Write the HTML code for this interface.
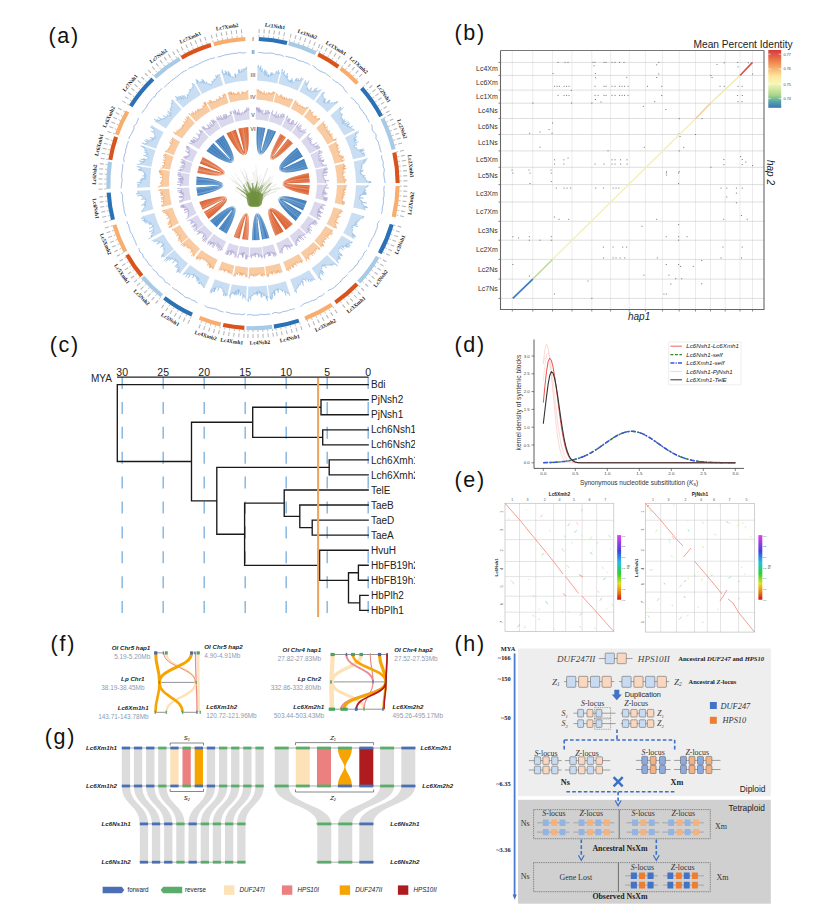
<!DOCTYPE html>
<html><head><meta charset="utf-8"><style>
html,body{margin:0;padding:0;background:#fff;width:830px;height:923px;overflow:hidden}
svg{display:block}
</style></head><body>
<svg width="830" height="923" viewBox="0 0 830 923">
<rect width="830" height="923" fill="#fff"/>
<text x="48.5" y="42.6" font-family="Liberation Sans" font-size="21.5" letter-spacing="1.7" fill="#111">(a)</text><path d="M258.9 36.9A146.7 146.7 0 0 1 287.5 40.9L286.5 44.9A142.6 142.6 0 0 0 258.7 41Z" fill="#2a71b6" /><path d="M289.2 41.3A146.7 146.7 0 0 1 316.6 51.3L314.8 55A142.6 142.6 0 0 0 288.2 45.3Z" fill="#a7cbe6" /><path d="M319.1 52.6A146.7 146.7 0 0 1 339.6 65.1L337.2 68.4A142.6 142.6 0 0 0 317.3 56.2Z" fill="#d9541d" /><path d="M341.9 66.8A146.7 146.7 0 0 1 358.9 82L355.9 84.8A142.6 142.6 0 0 0 339.4 70.1Z" fill="#f8ad6c" /><path d="M363.2 86.7A146.7 146.7 0 0 1 382.9 115.3L379.3 117.2A142.6 142.6 0 0 0 360.1 89.4Z" fill="#2a71b6" /><path d="M384.2 117.8A146.7 146.7 0 0 1 395.6 149L391.6 150A142.6 142.6 0 0 0 380.5 119.6Z" fill="#a7cbe6" /><path d="M396.3 152A146.7 146.7 0 0 1 399.7 183L395.6 183A142.6 142.6 0 0 0 392.3 152.9Z" fill="#d9541d" /><path d="M399.7 186.1A146.7 146.7 0 0 1 395.7 217.5L391.7 216.5A142.6 142.6 0 0 0 395.6 186Z" fill="#f8ad6c" /><path d="M393.7 224.9A146.7 146.7 0 0 1 381.6 254.2L378 252.2A142.6 142.6 0 0 0 389.8 223.8Z" fill="#2a71b6" /><path d="M379.5 257.7A146.7 146.7 0 0 1 360.3 283.5L357.3 280.8A142.6 142.6 0 0 0 376 255.7Z" fill="#a7cbe6" /><path d="M358.5 285.4A146.7 146.7 0 0 1 336.5 304.1L334.2 300.7A142.6 142.6 0 0 0 355.6 282.6Z" fill="#d9541d" /><path d="M332.9 306.5A146.7 146.7 0 0 1 305.8 320.4L304.3 316.5A142.6 142.6 0 0 0 330.7 303.1Z" fill="#f8ad6c" /><path d="M299.5 322.6A146.7 146.7 0 0 1 274.2 328.7L273.6 324.6A142.6 142.6 0 0 0 298.2 318.7Z" fill="#2a71b6" /><path d="M272.4 328.9A146.7 146.7 0 0 1 246.3 330L246.5 326A142.6 142.6 0 0 0 271.9 324.8Z" fill="#a7cbe6" /><path d="M244.3 329.9A146.7 146.7 0 0 1 222.7 327L223.6 323A142.6 142.6 0 0 0 244.5 325.8Z" fill="#d9541d" /><path d="M220.2 326.5A146.7 146.7 0 0 1 198.8 319.8L200.3 316A142.6 142.6 0 0 0 221.2 322.5Z" fill="#f8ad6c" /><path d="M191.2 316.6A146.7 146.7 0 0 1 163.1 299.4L165.6 296.2A142.6 142.6 0 0 0 193 312.8Z" fill="#2a71b6" /><path d="M160.5 297.3A146.7 146.7 0 0 1 141.1 278.4L144.2 275.7A142.6 142.6 0 0 0 163.1 294.2Z" fill="#a7cbe6" /><path d="M140.1 277.2A146.7 146.7 0 0 1 125.3 255.7L128.9 253.7A142.6 142.6 0 0 0 143.3 274.6Z" fill="#d9541d" /><path d="M123.6 252.6A146.7 146.7 0 0 1 112.4 225.4L116.3 224.2A142.6 142.6 0 0 0 127.2 250.7Z" fill="#f8ad6c" /><path d="M111 220.2A146.7 146.7 0 0 1 106.6 192.7L110.7 192.5A142.6 142.6 0 0 0 114.9 219.2Z" fill="#2a71b6" /><path d="M106.4 188.9A146.7 146.7 0 0 1 107.9 161.6L112 162.2A142.6 142.6 0 0 0 110.5 188.7Z" fill="#a7cbe6" /><path d="M108.3 159.5A146.7 146.7 0 0 1 114.1 136.2L118 137.5A142.6 142.6 0 0 0 112.3 160.2Z" fill="#d9541d" /><path d="M114.9 134A146.7 146.7 0 0 1 125.7 110.6L129.3 112.6A142.6 142.6 0 0 0 118.7 135.4Z" fill="#f8ad6c" /><path d="M129 105.1A146.7 146.7 0 0 1 151.5 77.6L154.3 80.6A142.6 142.6 0 0 0 132.5 107.3Z" fill="#2a71b6" /><path d="M153.5 75.7A146.7 146.7 0 0 1 178.8 57L180.8 60.5A142.6 142.6 0 0 0 156.3 78.7Z" fill="#a7cbe6" /><path d="M180.5 55.9A146.7 146.7 0 0 1 210.4 43.1L211.5 47.1A142.6 142.6 0 0 0 182.6 59.5Z" fill="#d9541d" /><path d="M213.3 42.3A146.7 146.7 0 0 1 245.3 37L245.5 41.1A142.6 142.6 0 0 0 214.4 46.2Z" fill="#f8ad6c" /><path d="M258.9 36.9L259 34.8M263.7 37.2L263.9 35.1M268.6 37.6L268.8 35.5M273.4 38.2L273.7 36.1M278.2 39L278.6 36.9M283 39.9L283.4 37.8M289.2 41.3L289.8 39.3M293.9 42.6L294.5 40.6M298.6 44.1L299.2 42.1M303.2 45.6L303.9 43.7M307.7 47.4L308.5 45.4M312.2 49.3L313 47.4M316.6 51.3L317.5 49.4M319.1 52.6L320.1 50.7M323.4 54.8L324.5 53M327.7 57.2L328.7 55.4M331.8 59.8L333 58M335.9 62.5L337.1 60.7M341.9 66.8L343.2 65.1M345.7 69.8L347 68.2M349.4 73L350.8 71.4M353 76.2L354.5 74.7M356.6 79.6L358 78.1M363.2 86.7L364.8 85.3M366.4 90.4L368 89.1M369.4 94.2L371.1 92.9M372.3 98.1L374 96.9M375 102.1L376.8 100.9M377.7 106.2L379.5 105.1M380.2 110.4L382 109.3M382.5 114.6L384.4 113.6M384.2 117.8L386.1 116.9M386.3 122.2L388.2 121.3M388.2 126.7L390.2 125.8M390 131.2L392 130.4M391.7 135.7L393.7 135.1M393.2 140.4L395.2 139.7M394.6 145L396.6 144.5M396.3 152L398.3 151.5M397.2 156.8L399.3 156.4M398.1 161.6L400.1 161.2M398.7 166.4L400.8 166.1M399.2 171.2L401.3 171M399.5 176.1L401.6 176M399.7 180.9L401.8 180.9M399.7 186.1L401.8 186.1M399.5 190.9L401.6 191M399.2 195.8L401.3 196M398.7 200.6L400.8 200.9M398.1 205.4L400.1 205.8M397.2 210.2L399.3 210.6M396.3 215L398.3 215.5M393.7 224.9L395.7 225.5M392.3 229.6L394.3 230.2M390.7 234.2L392.6 234.9M388.9 238.7L390.9 239.5M387 243.2L388.9 244M385 247.6L386.9 248.5M382.8 251.9L384.6 252.9M379.5 257.7L381.3 258.8M377 261.9L378.8 263M374.3 266L376.1 267.1M371.5 269.9L373.2 271.2M368.6 273.8L370.3 275.1M365.5 277.6L367.2 278.9M362.4 281.3L363.9 282.7M358.5 285.4L360 286.9M355.1 288.8L356.6 290.4M351.5 292.2L353 293.7M347.9 295.4L349.2 297M344.1 298.5L345.4 300.1M340.3 301.4L341.5 303.1M332.9 306.5L334 308.3M328.8 309.1L329.9 310.9M324.6 311.6L325.6 313.4M320.3 313.9L321.2 315.7M315.9 316L316.8 317.9M311.5 318L312.3 320M307 319.9L307.8 321.9M299.5 322.6L300.2 324.6M294.9 324.1L295.5 326.1M290.2 325.4L290.8 327.4M285.5 326.6L286 328.6M280.7 327.6L281.1 329.6M275.9 328.4L276.3 330.5M272.4 328.9L272.7 331M267.6 329.5L267.8 331.6M262.7 329.9L262.9 332M257.9 330.1L257.9 332.2M253 330.2L253 332.3M248.1 330.1L248.1 332.2M244.3 329.9L244.2 332M239.4 329.6L239.3 331.7M234.6 329L234.4 331.1M229.8 328.4L229.5 330.4M225 327.5L224.6 329.6M220.2 326.5L219.8 328.5M215.5 325.3L215 327.4M210.8 324L210.2 326M206.2 322.5L205.5 324.5M201.6 320.9L200.9 322.9M191.2 316.6L190.3 318.5M186.9 314.4L185.9 316.3M182.6 312.2L181.5 314M178.3 309.8L177.3 311.6M174.2 307.2L173 309M170.1 304.5L168.9 306.3M166.2 301.7L164.9 303.4M160.5 297.3L159.2 299M156.8 294.2L155.4 295.8M153.1 291L151.7 292.5M149.6 287.6L148.2 289.1M146.2 284.1L144.7 285.5M143 280.5L141.4 281.9M140.1 277.2L138.5 278.5M137.1 273.4L135.4 274.7M134.2 269.5L132.5 270.8M131.4 265.5L129.6 266.7M128.7 261.5L126.9 262.6M126.2 257.3L124.4 258.3M123.6 252.6L121.7 253.6M121.4 248.3L119.5 249.2M119.3 243.9L117.4 244.7M117.4 239.4L115.4 240.2M115.6 234.9L113.6 235.6M114 230.3L112 231M112.5 225.7L110.5 226.3M111 220.2L108.9 220.8M109.8 215.5L107.8 216M108.9 210.7L106.8 211.1M108 205.9L106 206.3M107.4 201.1L105.3 201.4M106.9 196.3L104.8 196.5M106.4 188.9L104.3 189M106.3 184L104.2 184M106.4 179.1L104.3 179.1M106.6 174.3L104.5 174.2M107 169.4L104.9 169.2M107.5 164.6L105.4 164.3M108.3 159.5L106.2 159.2M109.1 154.8L107.1 154.3M110.2 150L108.1 149.5M111.4 145.3L109.3 144.7M112.7 140.6L110.7 140M114.9 134L112.9 133.3M116.6 129.5L114.6 128.7M118.5 125L116.5 124.2M120.5 120.6L118.6 119.7M122.6 116.2L120.8 115.3M124.9 111.9L123.1 110.9M129 105.1L127.2 104M131.7 101L129.9 99.9M134.5 97.1L132.8 95.8M137.4 93.2L135.7 91.9M140.5 89.4L138.8 88.1M143.6 85.7L142.1 84.3M146.9 82.1L145.4 80.7M150.4 78.7L148.9 77.2M153.5 75.7L152.1 74.1M157.1 72.4L155.8 70.9M160.9 69.3L159.6 67.7M164.7 66.3L163.4 64.7M168.6 63.5L167.4 61.8M172.7 60.7L171.5 59M176.8 58.2L175.7 56.4M180.5 55.9L179.5 54.1M184.8 53.6L183.8 51.8M189.2 51.4L188.2 49.5M193.6 49.4L192.7 47.5M198 47.5L197.3 45.5M202.6 45.7L201.9 43.8M207.2 44.1L206.5 42.1M213.3 42.3L212.7 40.3M218 41L217.5 39M222.7 40L222.3 37.9M227.5 39L227.2 37M232.3 38.3L232 36.2M237.2 37.7L236.9 35.6M242 37.2L241.8 35.1" stroke="#777" stroke-width="0.45" fill="none"/><path d="M259 33.1L259.2 29.1M264 33.4L264.3 29.4M269 33.9L269.4 29.9M273.9 34.5L274.5 30.5M278.9 35.2L279.6 31.3M283.8 36.2L284.6 32.3M290.2 37.7L291.2 33.8M295 39L296.1 35.1M299.8 40.4L301 36.6M304.5 42.1L305.8 38.3M309.1 43.9L310.6 40.1M313.7 45.8L315.3 42.1M318.3 47.9L320 44.3M320.9 49.2L322.7 45.6M325.3 51.5L327.2 48M329.6 54L331.6 50.5M333.9 56.6L336 53.2M338 59.3L340.3 56M344.2 63.8L346.6 60.6M348.1 66.9L350.6 63.8M351.9 70.1L354.6 67.1M355.6 73.4L358.4 70.5M359.2 76.9L362.1 74.1M366.1 84.2L369.1 81.5M369.3 88L372.4 85.4M372.4 91.9L375.6 89.4M375.4 95.9L378.6 93.6M378.2 100L381.5 97.8M380.9 104.2L384.3 102.1M383.5 108.5L386.9 106.5M385.9 112.8L389.4 111M387.6 116.1L391.1 114.3M389.7 120.6L393.4 118.9M391.7 125.2L395.4 123.6M393.6 129.8L397.3 128.4M395.3 134.5L399.1 133.2M396.8 139.2L400.7 138.1M398.2 144L402.1 143M400 151.2L403.9 150.3M401 156.1L404.9 155.3M401.8 161L405.8 160.4M402.5 165.9L406.4 165.5M403 170.9L407 170.6M403.3 175.9L407.3 175.7M403.5 180.9L407.5 180.8M403.5 186.1L407.5 186.2M403.3 191.1L407.3 191.3M403 196.1L407 196.4M402.5 201.1L406.4 201.5M401.8 206L405.8 206.6M401 210.9L404.9 211.7M400 215.8L403.9 216.7M397.4 226L401.2 227.1M395.9 230.8L399.7 232M394.2 235.5L398 236.8M392.4 240.1L396.1 241.6M390.5 244.7L394.1 246.3M388.4 249.2L392 251M386.1 253.7L389.7 255.6M382.8 259.7L386.3 261.7M380.2 263.9L383.6 266.1M377.5 268.1L380.8 270.3M374.6 272.2L377.8 274.5M371.6 276.2L374.7 278.6M368.5 280L371.5 282.6M365.2 283.8L368.2 286.5M361.3 288L364.1 290.8M357.7 291.6L360.5 294.5M354.1 295L356.8 298M350.3 298.3L352.9 301.3M346.5 301.4L349 304.6M342.5 304.5L344.9 307.7M335 309.7L337.1 313.1M330.7 312.4L332.8 315.8M326.4 314.9L328.4 318.4M322 317.2L323.9 320.8M317.6 319.5L319.3 323.1M313 321.5L314.6 325.2M308.4 323.4L309.9 327.2M300.8 326.2L302 330M296 327.7L297.1 331.6M291.2 329.1L292.2 332.9M286.3 330.3L287.2 334.2M281.5 331.3L282.2 335.2M276.5 332.1L277.2 336.1M272.9 332.7L273.4 336.6M267.9 333.3L268.3 337.2M263 333.7L263.2 337.7M258 333.9L258.1 337.9M253 334L253 338M248 333.9L247.9 337.9M244.1 333.7L243.8 337.7M239.1 333.4L238.7 337.3M234.1 332.8L233.6 336.8M229.2 332.1L228.6 336.1M224.3 331.2L223.5 335.2M219.4 330.2L218.5 334.1M214.6 329L213.5 332.9M209.8 327.7L208.6 331.5M205 326.1L203.7 329.9M200.3 324.5L198.9 328.2M189.6 320L187.9 323.6M185.1 317.8L183.3 321.4M180.7 315.5L178.8 319M176.4 313L174.4 316.5M172.1 310.4L170 313.8M168 307.7L165.7 311M163.9 304.8L161.5 308M158.1 300.3L155.6 303.4M154.3 297.1L151.6 300.1M150.6 293.7L147.8 296.7M147 290.3L144.1 293.1M143.5 286.7L140.6 289.5M140.1 283L137.1 285.7M137.2 279.6L134.1 282.2M134.1 275.7L130.9 278.2M131.1 271.7L127.8 274.1M128.2 267.7L124.9 269.9M125.5 263.5L122.1 265.6M122.9 259.2L119.5 261.2M120.2 254.4L116.7 256.3M118 249.9L114.4 251.7M115.8 245.4L112.2 247.1M113.9 240.9L110.2 242.4M112 236.2L108.3 237.6M110.4 231.5L106.6 232.8M108.8 226.7L105 227.9M107.3 221.2L103.4 222.2M106.1 216.3L102.2 217.2M105.1 211.4L101.2 212.2M104.3 206.5L100.3 207.1M103.6 201.6L99.6 202.1M103.1 196.6L99.1 197M102.6 189L98.6 189.2M102.5 184L98.5 184M102.6 179L98.6 178.9M102.8 174.1L98.8 173.8M103.2 169.1L99.2 168.7M103.8 164.1L99.8 163.6M104.5 158.9L100.6 158.3M105.4 154L101.5 153.2M106.5 149.1L102.6 148.2M107.7 144.3L103.8 143.3M109.1 139.5L105.3 138.3M111.3 132.8L107.5 131.4M113.1 128.1L109.3 126.6M115 123.5L111.3 121.9M117 118.9L113.4 117.2M119.3 114.5L115.7 112.6M121.6 110.1L118.1 108.1M125.8 103.1L122.4 100.9M128.5 98.9L125.2 96.7M131.4 94.8L128.2 92.5M134.4 90.8L131.3 88.4M137.5 87L134.5 84.4M140.8 83.2L137.8 80.5M144.2 79.5L141.3 76.8M147.7 76L144.9 73.1M150.9 72.9L148.2 70M154.7 69.6L152 66.5M158.5 66.4L156 63.3M162.4 63.3L160 60.1M166.5 60.4L164.2 57.1M170.6 57.6L168.4 54.2M174.8 54.9L172.7 51.5M178.7 52.6L176.7 49.2M183 50.2L181.2 46.7M187.5 48L185.8 44.4M192 45.9L190.4 42.2M196.6 44L195.1 40.3M201.3 42.2L199.9 38.4M206 40.5L204.7 36.7M212.3 38.6L211.2 34.8M217.1 37.3L216.1 33.5M222 36.2L221.1 32.3M226.9 35.3L226.2 31.3M231.8 34.5L231.2 30.5M236.7 33.9L236.3 29.9M241.7 33.4L241.4 29.4" stroke="#b8b8b8" stroke-width="1.1" fill="none"/><text x="275" y="26" font-family="Liberation Serif" font-weight="bold" font-size="5.4" fill="#222" text-anchor="middle" dominant-baseline="central" transform="rotate(7.9 275 26)">Lc1Nsh1</text><text x="307.4" y="34.1" font-family="Liberation Serif" font-weight="bold" font-size="5.4" fill="#222" text-anchor="middle" dominant-baseline="central" transform="rotate(20 307.4 34.1)">Lc1Nsh2</text><text x="336.1" y="47.9" font-family="Liberation Serif" font-weight="bold" font-size="5.4" fill="#222" text-anchor="middle" dominant-baseline="central" transform="rotate(31.5 336.1 47.9)">Lc1Xmh1</text><text x="358.9" y="64.9" font-family="Liberation Serif" font-weight="bold" font-size="5.4" fill="#222" text-anchor="middle" dominant-baseline="central" transform="rotate(41.8 358.9 64.9)">Lc1Xmh2</text><text x="384" y="93.4" font-family="Liberation Serif" font-weight="bold" font-size="5.4" fill="#222" text-anchor="middle" dominant-baseline="central" transform="rotate(55.5 384 93.4)">Lc2Nsh1</text><text x="402.3" y="128.9" font-family="Liberation Serif" font-weight="bold" font-size="5.4" fill="#222" text-anchor="middle" dominant-baseline="central" transform="rotate(69.9 402.3 128.9)">Lc2Nsh2</text><text x="411" y="166.1" font-family="Liberation Serif" font-weight="bold" font-size="5.4" fill="#222" text-anchor="middle" dominant-baseline="central" transform="rotate(83.7 411 166.1)">Lc2Xmh1</text><text x="410.7" y="203.4" font-family="Liberation Serif" font-weight="bold" font-size="5.4" fill="#222" text-anchor="middle" dominant-baseline="central" transform="rotate(-82.8 410.7 203.4)">Lc2Xmh2</text><text x="399.8" y="244.6" font-family="Liberation Serif" font-weight="bold" font-size="5.4" fill="#222" text-anchor="middle" dominant-baseline="central" transform="rotate(-67.4 399.8 244.6)">Lc3Nsh1</text><text x="380.5" y="278.5" font-family="Liberation Serif" font-weight="bold" font-size="5.4" fill="#222" text-anchor="middle" dominant-baseline="central" transform="rotate(-53.3 380.5 278.5)">Lc3Nsh2</text><text x="355.9" y="304.7" font-family="Liberation Serif" font-weight="bold" font-size="5.4" fill="#222" text-anchor="middle" dominant-baseline="central" transform="rotate(-40.3 355.9 304.7)">Lc3Xmh1</text><text x="325.3" y="325.1" font-family="Liberation Serif" font-weight="bold" font-size="5.4" fill="#222" text-anchor="middle" dominant-baseline="central" transform="rotate(-27.1 325.3 325.1)">Lc3Xmh2</text><text x="289.8" y="338.2" font-family="Liberation Serif" font-weight="bold" font-size="5.4" fill="#222" text-anchor="middle" dominant-baseline="central" transform="rotate(-13.4 289.8 338.2)">Lc4Nsh1</text><text x="259.9" y="342.3" font-family="Liberation Serif" font-weight="bold" font-size="5.4" fill="#222" text-anchor="middle" dominant-baseline="central" transform="rotate(-2.5 259.9 342.3)">Lc4Nsh2</text><text x="231.8" y="341.1" font-family="Liberation Serif" font-weight="bold" font-size="5.4" fill="#222" text-anchor="middle" dominant-baseline="central" transform="rotate(7.7 231.8 341.1)">Lc4Xmh1</text><text x="205.7" y="335.3" font-family="Liberation Serif" font-weight="bold" font-size="5.4" fill="#222" text-anchor="middle" dominant-baseline="central" transform="rotate(17.3 205.7 335.3)">Lc4Xmh2</text><text x="170.3" y="319.3" font-family="Liberation Serif" font-weight="bold" font-size="5.4" fill="#222" text-anchor="middle" dominant-baseline="central" transform="rotate(31.4 170.3 319.3)">Lc5Nsh1</text><text x="141.8" y="297.1" font-family="Liberation Serif" font-weight="bold" font-size="5.4" fill="#222" text-anchor="middle" dominant-baseline="central" transform="rotate(44.4 141.8 297.1)">Lc5Nsh2</text><text x="122.1" y="273.8" font-family="Liberation Serif" font-weight="bold" font-size="5.4" fill="#222" text-anchor="middle" dominant-baseline="central" transform="rotate(55.4 122.1 273.8)">Lc5Xmh1</text><text x="105.9" y="244" font-family="Liberation Serif" font-weight="bold" font-size="5.4" fill="#222" text-anchor="middle" dominant-baseline="central" transform="rotate(67.7 105.9 244)">Lc5Xmh2</text><text x="96" y="208.5" font-family="Liberation Serif" font-weight="bold" font-size="5.4" fill="#222" text-anchor="middle" dominant-baseline="central" transform="rotate(80.9 96 208.5)">Lc6Nsh1</text><text x="94.3" y="174.5" font-family="Liberation Serif" font-weight="bold" font-size="5.4" fill="#222" text-anchor="middle" dominant-baseline="central" transform="rotate(273.2 94.3 174.5)">Lc6Nsh2</text><text x="98.8" y="144.8" font-family="Liberation Serif" font-weight="bold" font-size="5.4" fill="#222" text-anchor="middle" dominant-baseline="central" transform="rotate(284.1 98.8 144.8)">Lc6Xmh1</text><text x="108.6" y="116.9" font-family="Liberation Serif" font-weight="bold" font-size="5.4" fill="#222" text-anchor="middle" dominant-baseline="central" transform="rotate(294.8 108.6 116.9)">Lc6Xmh2</text><text x="129.9" y="82.9" font-family="Liberation Serif" font-weight="bold" font-size="5.4" fill="#222" text-anchor="middle" dominant-baseline="central" transform="rotate(309.2 129.9 82.9)">Lc7Nsh1</text><text x="158.3" y="55.8" font-family="Liberation Serif" font-weight="bold" font-size="5.4" fill="#222" text-anchor="middle" dominant-baseline="central" transform="rotate(323.5 158.3 55.8)">Lc7Nsh2</text><text x="190.2" y="37.4" font-family="Liberation Serif" font-weight="bold" font-size="5.4" fill="#222" text-anchor="middle" dominant-baseline="central" transform="rotate(336.8 190.2 37.4)">Lc7Xmh1</text><text x="227.2" y="26.6" font-family="Liberation Serif" font-weight="bold" font-size="5.4" fill="#222" text-anchor="middle" dominant-baseline="central" transform="rotate(350.6 227.2 26.6)">Lc7Xmh2</text><path d="M258.3 52.4 259 52.6 259.8 52.5 260.5 52.6 261.3 52.7 262.1 52.8 262.8 52.8 263.6 53 264.3 53.2 265.1 53.2 265.8 53.3 266.6 53 267.4 53.3 268.1 53.3 268.9 53.1 269.7 52.9 270.4 53.2 271.2 53.1 272 52.9 272.7 53.3 273.5 53.4 274.2 53.7 274.9 53.9 275.6 54.5 276.4 54.5 277.1 54.6 277.9 54.8 278.7 54.8 279.5 54.7 280.2 54.8 280.9 55.1 281.7 55.3 282.3 55.7 283 56.1 283.8 56.3" fill="none" stroke="#5b8bd0" stroke-width="0.6"/><path d="M285.4 56.2 286.1 56.5 286.9 56.6 287.6 56.7 288.3 57 289.1 57.1 289.9 57.1 290.5 57.5 291.3 57.6 292 57.7 292.7 57.9 293.4 58.1 294.2 58.4 294.9 58.4 295.6 58.8 296.2 59.3 296.9 59.5 297.6 59.8 298.2 60.3 298.9 60.6 299.7 60.8 300.4 61 301.1 61.1 301.9 61.2 302.6 61.4 303.3 61.6 304 62 304.7 62.3 305.3 62.8 306.1 62.8 306.8 63 307.5 63.4 308.2 63.7 308.8 64.2 309.4 64.6 309.9 65.2" fill="none" stroke="#5b8bd0" stroke-width="0.6"/><path d="M312.6 65.5 313.3 65.8 313.8 66.4 314.4 66.9 315.1 67.2 315.5 68 316.1 68.5 316.7 68.9 317.3 69.4 317.8 70 318.6 70 319.2 70.6 319.8 70.9 320.5 71.2 321.4 71.2 321.8 71.9 322.5 72.2 323.2 72.4 324 72.6 324.6 73 325.4 73.1 326 73.6 326.6 74.1 327.1 74.7 327.7 75.1 328.4 75.5 328.9 76 329.5 76.5 330.1 76.9 330.6 77.5" fill="none" stroke="#5b8bd0" stroke-width="0.6"/><path d="M332.4 79.2 333.1 79.6 333.7 80.1 334.2 80.6 334.9 81 335.4 81.5 336 82 336.8 82.3 337.6 82.5 338.2 82.9 338.8 83.3 339.4 83.8 339.7 84.6 340.4 85 341 85.5 341.7 85.9 342.3 86.3 342.9 86.7 343.3 87.4 343.6 88.2 344.1 88.8 344.4 89.6 344.8 90.2 345.3 90.8 345.9 91.3 346.3 92 346.9 92.4 347.5 92.9" fill="none" stroke="#5b8bd0" stroke-width="0.6"/><path d="M351 97.4 351.5 97.9 352.1 98.4 352.6 99 353.4 99.3 354.1 99.8 354.6 100.3 355 101 355.6 101.5 355.9 102.2 356.2 102.9 356.9 103.3 357.6 103.7 358.2 104.3 358.7 104.9 359.1 105.5 359.3 106.3 359.4 107.1 359.8 107.8 360.4 108.3 360.8 108.9 361.2 109.6 361.9 110 362.4 110.6 362.6 111.4 363.2 111.9 363.6 112.6 363.8 113.3 364.4 113.9 365.1 114.3 365.5 114.9 366 115.5 366.4 116.2 366.4 117.1 366.8 117.8 367.1 118.5 367.7 119 368 119.7 368.4 120.3 368.8 121 369.1 121.7 369.3 122.4" fill="none" stroke="#5b8bd0" stroke-width="0.6"/><path d="M371.4 124.2 371.7 124.9 372 125.6 372 126.4 372.2 127.2 372.3 127.9 372.2 128.8 372.2 129.6 372.6 130.3 372.8 131 373.2 131.6 373.9 132.1 374.4 132.7 375 133.3 375.6 133.9 376 134.5 376 135.3 376.1 136 376.1 136.9 376 137.7 375.9 138.5 376.3 139.2 376.8 139.8 377.4 140.4 377.7 141 378.2 141.7 378.5 142.4 378.4 143.2 378.5 143.9 378.9 144.6 379.2 145.3 379.4 146 379.8 146.7 379.8 147.5 379.9 148.2 379.9 149 380.1 149.7 380.5 150.3 380.8 151 380.9 151.8 381.3 152.5" fill="none" stroke="#5b8bd0" stroke-width="0.6"/><path d="M381.9 155.2 381.7 156 381.7 156.8 381.7 157.5 381.8 158.3 382 159 382.2 159.7 382.6 160.4 383.1 161.1 383.2 161.9 383.1 162.7 383.4 163.4 383.2 164.2 382.8 165 383.1 165.7 383.3 166.5 383.4 167.2 383.9 167.9 384.1 168.6 384.2 169.4 384.3 170.1 384.3 170.9 384 171.7 384 172.5 383.8 173.2 383.7 174 383.8 174.8 383.9 175.5 383.9 176.3 384.2 177 384.2 177.8 384.3 178.5 384.4 179.3 384.8 180 384.6 180.8 384.9 181.5 385 182.3 385.1 183" fill="none" stroke="#5b8bd0" stroke-width="0.6"/><path d="M384.5 185.8 384.2 186.5 384.2 187.3 384 188 383.8 188.8 383.9 189.5 383.9 190.3 383.9 191 384.1 191.8 384.3 192.5 384 193.3 384.1 194 384.1 194.8 384.1 195.5 383.8 196.3 383.8 197 383.6 197.7 383.4 198.5 383.3 199.2 383.4 200 383.3 200.7 383.4 201.5 383.6 202.3 383.4 203 383.3 203.7 383.2 204.5 382.9 205.2 382.7 205.9 382.6 206.7 382.4 207.4 382.3 208.1 382.3 208.9 382.2 209.6 382.2 210.4 382.3 211.2 382 211.9 381.7 212.6 381.5 213.3 381.1 214" fill="none" stroke="#5b8bd0" stroke-width="0.6"/><path d="M379.5 220.7 379 221.4 378.7 222.1 378.1 222.7 377.6 223.3 377.3 224 377.4 224.8 377.3 225.5 377.4 226.4 377.1 227.1 377.2 227.9 376.9 228.6 376.4 229.2 376.1 229.9 376.2 230.7 375.7 231.3 375.5 232.1 375.4 232.8 374.9 233.4 374.6 234.1 374.6 234.9 374 235.5 373.7 236.2 373.4 236.9 372.8 237.4 372.2 238 372 238.7 371.8 239.4 371.3 240 371 240.7 370.8 241.4 370.3 242 369.8 242.6 369.8 243.4 369.4 244.1 368.9 244.7 369 245.5 368.7 246.2 368.3 246.9" fill="none" stroke="#5b8bd0" stroke-width="0.6"/><path d="M366.7 250.2 366.1 250.7 365.5 251.3 365.1 251.9 364.4 252.4 364 253 363.7 253.7 363.6 254.6 363.2 255.2 362.8 255.9 362.4 256.5 362.2 257.3 361.6 257.8 361.1 258.4 360.6 259 360.2 259.6 359.6 260.1 359.1 260.7 358.4 261.1 358.3 262 358.1 262.8 357.7 263.4 357.1 263.9 356.9 264.7 356.1 265.1 355.7 265.8 355.1 266.2 354.7 266.9 354.1 267.4 353.9 268.3 353.2 268.6 352.6 269.1 352.2 269.8 351.6 270.2 350.8 270.5 350.2 271.1 349.7 271.6 349.1 272 348.5 272.5" fill="none" stroke="#5b8bd0" stroke-width="0.6"/><path d="M347.2 274.5 346.9 275.2 346.3 275.7 345.9 276.4 345.3 276.9 344.8 277.4 344 277.7 343.4 278.2 342.7 278.5 342.3 279.3 341.8 279.8 341.3 280.4 340.8 281 340.6 281.9 339.8 282.1 339.3 282.7 338.8 283.3 338.2 283.8 337.6 284.3 337.1 284.9 336.4 285.2 335.9 285.8 335.5 286.5 334.7 286.8 334.3 287.4 333.7 288 333.1 288.4 332.3 288.6 331.7 289.1 330.9 289.3 330.1 289.5 329.3 289.7 328.8 290.3 328.1 290.7 327.6 291.2" fill="none" stroke="#5b8bd0" stroke-width="0.6"/><path d="M324.2 293.1 323.8 293.9 323.3 294.5 322.7 295.1 322.1 295.5 321.5 296 320.7 296.1 320 296.4 319.2 296.5 318.6 297 317.9 297.4 317.4 298 316.9 298.6 316.3 299.1 315.6 299.4 315.1 300.1 314.3 300.1 313.5 300.2 312.7 300.3 312 300.8 311.2 300.9 310.6 301.3 309.9 301.6 309.3 302.1 308.5 302.3 307.8 302.5 307.1 302.6 306.4 303 305.6 303.1 304.9 303.4 304.2 303.7 303.6 304.1 302.9 304.5 302.3 305 301.7 305.6 301.1 306 300.4 306.5" fill="none" stroke="#5b8bd0" stroke-width="0.6"/><path d="M294.9 308.8 294.1 308.8 293.4 308.9 292.7 309.3 291.9 309.2 291.1 309.4 290.4 309.7 289.7 309.8 288.9 309.9 288.3 310.5 287.6 310.6 286.8 310.9 286.2 311.4 285.4 311.3 284.6 311.3 283.9 311.4 283.1 311.7 282.4 311.8 281.7 312.3 281 312.5 280.3 312.8 279.5 312.9 278.8 313 278 312.9 277.2 312.8 276.4 312.5 275.6 312.5 274.8 312.4 274.1 312.8 273.4 313.2 272.7 313.4 272 313.6" fill="none" stroke="#5b8bd0" stroke-width="0.6"/><path d="M270.4 314.2 269.7 314.2 268.9 314 268.1 314.2 267.4 314.3 266.6 314.3 265.9 314.4 265.2 314.8 264.4 314.5 263.6 314.6 262.9 314.5 262.1 314.3 261.3 314.2 260.6 314.6 259.8 314.4 259.1 314.6 258.4 315.1 257.6 315.2 256.9 315.1 256.1 315.2 255.3 315.2 254.6 315.1 253.8 315.2 253.1 315.3 252.3 315.1 251.6 314.9 250.8 314.6 250.1 314.7 249.3 314.5 248.6 314.7 247.8 314.8 247 315" fill="none" stroke="#5b8bd0" stroke-width="0.6"/><path d="M245.3 313.8 244.5 314.1 243.7 314.3 243 314.6 242.2 314.6 241.4 314.7 240.7 314.5 240 314.3 239.3 314 238.5 314.2 237.7 313.9 237 314.1 236.2 314.2 235.5 314.1 234.7 313.8 234 314 233.2 313.8 232.5 313.5 231.7 313.5 231 313.3 230.3 313.2 229.6 312.7 228.9 312.6 228.1 312.4 227.4 312.4 226.7 312 225.9 312" fill="none" stroke="#5b8bd0" stroke-width="0.6"/><path d="M223.6 312 222.9 311.8 222.1 311.7 221.4 311.4 220.7 311.3 219.9 311.1 219.2 310.9 218.6 310.3 218 309.8 217.2 309.7 216.5 309.3 215.9 309 215.1 308.9 214.4 308.8 213.7 308.5 212.9 308.5 212.2 308.1 211.4 308.1 210.7 308.1 210 307.8 209.3 307.6 208.4 307.7 207.7 307.5 207.1 307 206.4 306.8 205.7 306.3 205.1 305.9 204.5 305.4" fill="none" stroke="#5b8bd0" stroke-width="0.6"/><path d="M197.5 303.1 196.8 302.7 196.2 302.2 195.7 301.5 195.2 300.9 194.4 300.8 193.7 300.4 192.9 300.3 192.2 300.1 191.5 299.8 190.9 299.3 190.3 298.9 189.7 298.3 188.9 298.2 188.1 298.1 187.4 297.8 186.6 297.6 185.8 297.5 185.1 297.1 184.6 296.6 183.9 296.1 183.4 295.5 182.8 295 182.3 294.4 181.6 294.1 181 293.6 180.3 293.3 179.9 292.6 179.1 292.4 178.7 291.7 178.1 291.2 177.4 290.8 176.8 290.4 176.2 289.9 175.3 289.8 174.8 289.3 174.1 289 173.5 288.5 172.9 288 172.5 287.2" fill="none" stroke="#5b8bd0" stroke-width="0.6"/><path d="M170.3 285.3 169.8 284.7 169.2 284.2 168.5 283.9 167.9 283.4 167.3 282.9 166.5 282.7 165.7 282.5 165.3 281.8 164.8 281.2 164.2 280.7 164 279.9 163.6 279.1 163.2 278.5 162.6 278 162 277.5 161.3 277.1 160.6 276.8 159.8 276.5 159.2 276 158.7 275.5 158.1 274.9 157.8 274.2 157.4 273.5 157 272.8 156.6 272.2 155.9 271.8 155.5 271.2 154.9 270.7 154.2 270.3 153.5 269.9 153.1 269.2 152.4 268.8" fill="none" stroke="#5b8bd0" stroke-width="0.6"/><path d="M152.3 267.1 151.7 266.6 151.2 266.1 150.5 265.7 149.8 265.3 149.1 264.9 148.7 264.2 148.4 263.4 148.1 262.8 147.6 262.2 147.3 261.4 146.6 261 146.2 260.4 145.9 259.7 145.5 259.1 144.9 258.5 144.3 258 143.5 257.6 143.2 257 143.1 256.1 142.9 255.3 142.7 254.6 142.4 253.9 141.7 253.4 141 252.9 140.4 252.4 139.9 251.8 139.6 251.1 139.4 250.4 139.3 249.6 139 248.9 138.9 248.1" fill="none" stroke="#5b8bd0" stroke-width="0.6"/><path d="M136.7 245.6 136.3 244.9 136.1 244.2 136.1 243.4 135.7 242.7 135.5 242 135.1 241.3 134.9 240.6 134.6 239.9 134.2 239.3 133.9 238.6 133.7 237.8 133.3 237.2 132.8 236.6 132.7 235.8 132.5 235.1 132.2 234.4 131.6 233.8 131.3 233.1 130.6 232.6 130.3 231.9 130.1 231.2 130.1 230.3 129.7 229.7 129.5 229 129.4 228.2 129.2 227.5 128.8 226.8 128.7 226 128.6 225.3 128.4 224.6 127.9 224 127.4 223.3 127.4 222.5 127.2 221.8 126.7 221.1" fill="none" stroke="#5b8bd0" stroke-width="0.6"/><path d="M126.2 216.3 125.8 215.6 125.7 214.9 125.2 214.2 124.8 213.5 124.6 212.8 124.7 212 124.1 211.3 124.2 210.5 124 209.8 124 209 123.8 208.3 123.8 207.5 123.7 206.8 123.5 206.1 123.2 205.3 123.1 204.6 123.2 203.8 123.1 203 123.1 202.3 122.8 201.6 122.7 200.8 122.5 200.1 122.5 199.3 122.3 198.6 122.6 197.8 122.5 197 122.6 196.2 122.5 195.5 122.4 194.7 122 194 121.6 193.3 121.3 192.6 120.9 191.8" fill="none" stroke="#5b8bd0" stroke-width="0.6"/><path d="M121 188.3 121.3 187.6 121.1 186.8 121.2 186.1 121.6 185.3 121.5 184.6 121.4 183.9 121.6 183.1 121.9 182.4 121.8 181.6 122.1 180.9 122.2 180.2 122.2 179.4 121.9 178.7 122 177.9 121.6 177.2 121.6 176.4 121.7 175.7 121.8 174.9 121.5 174.2 121.8 173.4 122 172.7 122 172 122.2 171.2 122.3 170.5 122.5 169.8 122.4 169 122.3 168.2 122.5 167.5 122.9 166.8 122.7 166 122.6 165.3 122.9 164.6 122.6 163.8" fill="none" stroke="#5b8bd0" stroke-width="0.6"/><path d="M124.3 162.2 123.9 161.4 124.1 160.7 123.9 159.9 123.6 159.1 123.6 158.3 124.1 157.6 123.9 156.8 124.1 156.1 124.6 155.5 124.5 154.7 124.7 154 125.2 153.3 125.6 152.7 125.6 151.9 125.7 151.1 125.7 150.4 125.6 149.6 125.8 148.8 126.2 148.2 126.6 147.5 126.7 146.8 126.9 146.1 126.9 145.3 127.1 144.6 127.4 143.9 127.8 143.2 128 142.5 128.2 141.8 128.2 141" fill="none" stroke="#5b8bd0" stroke-width="0.6"/><path d="M129 139.1 129.1 138.4 129.3 137.6 129.4 136.9 129.9 136.2 130.4 135.6 130.8 135 131.1 134.3 131.6 133.7 132 133 132.1 132.3 132.4 131.6 133 131.1 133.3 130.4 133.5 129.6 134 129 134 128.2 133.9 127.4 133.8 126.5 134.3 125.9 134.7 125.3 135.4 124.8 135.9 124.2 136.4 123.6 136.7 122.9 136.9 122.2 137.2 121.5 137.5 120.8 137.8 120.1 138.1 119.4 138.3 118.7 138.5 117.9" fill="none" stroke="#5b8bd0" stroke-width="0.6"/><path d="M141.8 113.2 142 112.4 142.6 111.9 143.1 111.3 143.6 110.8 143.8 110 144.5 109.5 144.9 108.9 145.5 108.4 146 107.8 146.4 107.1 146.7 106.4 147.1 105.8 147.5 105.1 147.6 104.3 148.2 103.8 148.8 103.3 149.1 102.5 149.5 101.9 150 101.3 150.6 100.8 151 100.1 151.4 99.5 151.9 98.9 152.4 98.3 152.9 97.8 153.5 97.3 154.2 96.9 155 96.6 155.4 96 155.7 95.2 156 94.5 156.5 93.8 156.7 93 157.5 92.7 158.1 92.2 158.7 91.7 159 91 159.8 90.7 160.3 90.1 160.7 89.5 161.3 89 162.1 88.7" fill="none" stroke="#5b8bd0" stroke-width="0.6"/><path d="M164.2 87.3 164.8 86.8 165.4 86.3 165.8 85.7 166.3 85 166.8 84.5 167.5 84.1 168 83.6 168.6 83.1 169.3 82.7 169.9 82.2 170.4 81.7 170.9 81 171.5 80.6 172.1 80.2 172.8 79.8 173.3 79.2 174 78.9 174.6 78.4 175.2 77.9 175.8 77.4 176.3 76.9 177 76.5 177.7 76.2 178.3 75.7 178.7 74.9 179.4 74.6 180 74.2 180.6 73.7 181.2 73.2 181.9 72.9 182.4 72.2 183.1 71.9 183.8 71.5 184.3 71 185.1 70.9 186 70.7 186.6 70.3" fill="none" stroke="#5b8bd0" stroke-width="0.6"/><path d="M188.1 69.3 188.7 68.7 189.3 68.4 189.8 67.7 190.6 67.5 191.3 67.3 192.1 67.3 192.7 66.9 193.5 66.6 194 66.1 194.7 65.8 195.3 65.2 196 64.9 196.7 64.7 197.5 64.7 198.1 64.3 198.8 64 199.4 63.5 200.2 63.4 200.8 62.9 201.4 62.4 202 61.9 202.8 61.9 203.5 61.6 204.1 61.2 204.8 60.8 205.6 60.7 206.3 60.5 206.8 59.9 207.6 59.9 208.3 59.7 209 59.4 209.6 58.8 210.4 58.9 211.1 58.5 211.9 58.5 212.6 58.4 213.4 58.2 214 57.8 214.8 57.7" fill="none" stroke="#5b8bd0" stroke-width="0.6"/><path d="M217.5 57.1 218.2 56.9 218.9 56.7 219.7 56.7 220.4 56.5 221.1 56.3 221.8 56 222.5 55.6 223.3 55.6 223.9 55.3 224.6 54.9 225.4 55 226.2 54.9 226.9 54.7 227.6 54.5 228.4 54.5 229 54.1 229.8 54.2 230.5 53.9 231.3 53.8 232 53.8 232.8 53.6 233.5 53.4 234.2 53.3 235 53.5 235.7 53.3 236.5 53.3 237.2 53.3 237.9 53 238.6 52.6 239.4 52.6 240.2 52.7 240.9 52.5 241.7 52.7 242.4 53 243.2 52.9 243.9 52.9 244.7 52.9 245.4 52.8 246.1 52.6" fill="none" stroke="#5b8bd0" stroke-width="0.6"/><path d="M257.6 68.1 258.1 65.2 258.4 65.2 258.7 66.3 259 67.3 259.3 68.3 259.6 68.5 260 67.7 260.2 69.8 260.8 65.7 260.9 69.2 261.1 71 261.4 71.9 262 68.6 262.3 68.3 262.4 71.4 262.7 71.4 263.1 71.3 263.3 71.8 263.7 72 263.9 72.3 264.2 73.1 264.9 69.7 264.7 74.7 264.9 75.6 265.8 70.3 266 71.7 266 74.6 266.2 75.5 267 71.7 267 74 267.2 74.8 267.4 76 267.7 76.3 268.2 74.5 268.2 76.6 268.9 74.2 268.8 76.8 269.3 75.6 269.6 75.9 269.9 76.4 270.2 76.3 271.2 72.2 270.9 75.6 271.7 73.2 271.6 75.4 272.1 74.5 272.8 72.6 272.7 74.7 273.1 74.6 273.5 74.3 273.8 74.2 274.2 74 274.4 74.4 274.8 74.3 275.1 74.2 275.5 73.9 276.4 71.1 276.2 73.7 276.5 74 277 73.2 277.4 72.9 278.4 69.9 278.6 70.6 278.2 73.7 278.7 72.9 279.2 72.3 279.2 73.9 279.8 72.6L277.2 83.4A103 103 0 0 0 257.1 80.6Z" fill="#c9def2"/><path d="M257.6 68.1 258.1 65.2 258.4 65.2 258.7 66.3 259 67.3 259.3 68.3 259.6 68.5 260 67.7 260.2 69.8 260.8 65.7 260.9 69.2 261.1 71 261.4 71.9 262 68.6 262.3 68.3 262.4 71.4 262.7 71.4 263.1 71.3 263.3 71.8 263.7 72 263.9 72.3 264.2 73.1 264.9 69.7 264.7 74.7 264.9 75.6 265.8 70.3 266 71.7 266 74.6 266.2 75.5 267 71.7 267 74 267.2 74.8 267.4 76 267.7 76.3 268.2 74.5 268.2 76.6 268.9 74.2 268.8 76.8 269.3 75.6 269.6 75.9 269.9 76.4 270.2 76.3 271.2 72.2 270.9 75.6 271.7 73.2 271.6 75.4 272.1 74.5 272.8 72.6 272.7 74.7 273.1 74.6 273.5 74.3 273.8 74.2 274.2 74 274.4 74.4 274.8 74.3 275.1 74.2 275.5 73.9 276.4 71.1 276.2 73.7 276.5 74 277 73.2 277.4 72.9 278.4 69.9 278.6 70.6 278.2 73.7 278.7 72.9 279.2 72.3 279.2 73.9 279.8 72.6" fill="none" stroke="#86b6e2" stroke-width="0.45"/><path d="M281.6 71.2 282.6 68.9 281.9 72.7 282.4 72.3 282.6 72.8 283 72.3 283.3 72.8 283.4 73.5 284.6 70.5 284 74 284 74.9 284.6 74.1 284.7 75 284.8 75.9 285.2 75.5 285.1 77.1 285.6 76.6 285.8 76.9 287.3 73.2 287.5 73.6 287.1 76 286.6 78.5 287.8 76.1 287.3 78.6 287.5 78.8 287.7 79.3 288.1 79.1 287.9 80.7 288.4 80.3 288.9 79.9 288.8 80.9 289.3 80.5 289.1 82 289.8 80.9 289.8 81.9 290.9 79.8 290.3 82.4 292.2 78.2 291 82.4 291.4 82.1 291.7 82.2 293 79.8 292.5 81.8 292.5 82.7 292.8 82.9 293.4 82.1 293.6 82.5 293.9 82.7 294.7 81.5 296.4 78.2 295.6 80.9 297.1 78.3 296.2 81.2 296.5 81.2 296.8 81.3 297.3 81 298.8 78.4 298 81.2 298.4 81 299.1 80.1 299.1 81 299.7 80.6 300 80.5 301.8 77.4 301.1 79.8 301.1 80.6 301.4 80.6 302.4 79.3 303.1 78.6 302.9 79.8L297.7 90.7A103 103 0 0 0 278.4 83.7Z" fill="#c9def2"/><path d="M281.6 71.2 282.6 68.9 281.9 72.7 282.4 72.3 282.6 72.8 283 72.3 283.3 72.8 283.4 73.5 284.6 70.5 284 74 284 74.9 284.6 74.1 284.7 75 284.8 75.9 285.2 75.5 285.1 77.1 285.6 76.6 285.8 76.9 287.3 73.2 287.5 73.6 287.1 76 286.6 78.5 287.8 76.1 287.3 78.6 287.5 78.8 287.7 79.3 288.1 79.1 287.9 80.7 288.4 80.3 288.9 79.9 288.8 80.9 289.3 80.5 289.1 82 289.8 80.9 289.8 81.9 290.9 79.8 290.3 82.4 292.2 78.2 291 82.4 291.4 82.1 291.7 82.2 293 79.8 292.5 81.8 292.5 82.7 292.8 82.9 293.4 82.1 293.6 82.5 293.9 82.7 294.7 81.5 296.4 78.2 295.6 80.9 297.1 78.3 296.2 81.2 296.5 81.2 296.8 81.3 297.3 81 298.8 78.4 298 81.2 298.4 81 299.1 80.1 299.1 81 299.7 80.6 300 80.5 301.8 77.4 301.1 79.8 301.1 80.6 301.4 80.6 302.4 79.3 303.1 78.6 302.9 79.8" fill="none" stroke="#86b6e2" stroke-width="0.45"/><path d="M305.2 80.1 305.4 80.6 305.4 81.2 305.3 82.1 305.8 81.9 305.7 82.7 305.7 83.6 305.6 84.4 306.2 83.9 307.2 82.8 306.6 84.6 309 80.8 306.9 85.4 307.2 85.5 307 86.4 307.2 86.9 307.4 87.1 306.8 88.7 307.5 88.2 307.4 89 308.1 88.5 307.4 90.3 308.3 89.4 308.1 90.3 308.5 90.2 308.9 90.3 308.6 91.2 309.3 90.8 311.6 87.6 310.9 89.3 311.4 89.1 310.1 91.9 310.6 91.6 311 91.6 311.2 91.8 311.9 91.3 312.4 91.2 312 92.3 312.9 91.4 315.4 88.3 314.1 90.9 313.7 92 315 90.6 317.4 87.6 315.4 91.2 315.4 91.7 316.4 90.8 316.4 91.5 317.2 90.8 317 91.7 317.9 91 318.7 90.4 318.7 90.9 319.7 90.1 319.9 90.4 320.4 90.2 320.9 90.1 321.8 89.5L313.8 100.4A103 103 0 0 0 299.4 91.6Z" fill="#c9def2"/><path d="M305.2 80.1 305.4 80.6 305.4 81.2 305.3 82.1 305.8 81.9 305.7 82.7 305.7 83.6 305.6 84.4 306.2 83.9 307.2 82.8 306.6 84.6 309 80.8 306.9 85.4 307.2 85.5 307 86.4 307.2 86.9 307.4 87.1 306.8 88.7 307.5 88.2 307.4 89 308.1 88.5 307.4 90.3 308.3 89.4 308.1 90.3 308.5 90.2 308.9 90.3 308.6 91.2 309.3 90.8 311.6 87.6 310.9 89.3 311.4 89.1 310.1 91.9 310.6 91.6 311 91.6 311.2 91.8 311.9 91.3 312.4 91.2 312 92.3 312.9 91.4 315.4 88.3 314.1 90.9 313.7 92 315 90.6 317.4 87.6 315.4 91.2 315.4 91.7 316.4 90.8 316.4 91.5 317.2 90.8 317 91.7 317.9 91 318.7 90.4 318.7 90.9 319.7 90.1 319.9 90.4 320.4 90.2 320.9 90.1 321.8 89.5" fill="none" stroke="#86b6e2" stroke-width="0.45"/><path d="M322.6 92.2 322.5 92.8 322.4 93.5 322.2 94.3 324.5 91.8 323.7 93.5 323.2 94.6 322.6 95.9 323.2 95.6 322.7 96.8 323.1 96.7 323.6 96.7 323.2 97.6 323.3 98.1 323.5 98.3 324 98.3 324.5 98.1 323.3 100 323.5 100.3 325.4 98.6 323.5 101.3 323.5 101.8 325.9 99.4 323.4 102.8 325.5 100.8 324.2 102.8 324.7 102.7 324.5 103.4 325.6 102.6 326 102.7 326.6 102.4 328.7 100.6 329.6 100.1 327 103.4 330.2 100.4 328.5 102.7 328.6 103.1 329.5 102.6 329.6 103 330.1 102.9 330.2 103.2 331.2 102.7 331.7 102.7 332.2 102.6 332.4 102.8 333 102.7 333.2 103 333.5 103.2 335 102.1 334.5 103.1 336.7 101.4 335.9 102.6 336.9 102.2 338.2 101.3 335.7 104.2L327.3 112.2A103 103 0 0 0 315.4 101.6Z" fill="#c9def2"/><path d="M322.6 92.2 322.5 92.8 322.4 93.5 322.2 94.3 324.5 91.8 323.7 93.5 323.2 94.6 322.6 95.9 323.2 95.6 322.7 96.8 323.1 96.7 323.6 96.7 323.2 97.6 323.3 98.1 323.5 98.3 324 98.3 324.5 98.1 323.3 100 323.5 100.3 325.4 98.6 323.5 101.3 323.5 101.8 325.9 99.4 323.4 102.8 325.5 100.8 324.2 102.8 324.7 102.7 324.5 103.4 325.6 102.6 326 102.7 326.6 102.4 328.7 100.6 329.6 100.1 327 103.4 330.2 100.4 328.5 102.7 328.6 103.1 329.5 102.6 329.6 103 330.1 102.9 330.2 103.2 331.2 102.7 331.7 102.7 332.2 102.6 332.4 102.8 333 102.7 333.2 103 333.5 103.2 335 102.1 334.5 103.1 336.7 101.4 335.9 102.6 336.9 102.2 338.2 101.3 335.7 104.2" fill="none" stroke="#86b6e2" stroke-width="0.45"/><path d="M339.9 107.2 339.8 107.7 341.1 107 340.2 108.2 339.9 108.9 341.1 108.3 339.5 110.1 339.7 110.4 343.6 107.5 339.6 111.3 339.8 111.6 340.1 111.7 340.1 112.2 340.4 112.3 339.9 113.2 340.3 113.3 340.8 113.3 340.5 113.9 340.5 114.3 341.5 114 341.5 114.4 342.8 113.8 341.5 115.2 342.3 115 342 115.7 340.6 117.1 341.1 117.1 341.7 117.1 341.9 117.3 341.1 118.3 340.7 119 341.7 118.6 342.3 118.6 342 119.3 343 118.9 341.8 120.2 343.1 119.6 342 120.8 342 121.2 344.9 119.5 342 122 341.9 122.4 345 120.7 342.1 123 342.8 122.9 346.5 120.8 342.4 124 344.1 123.2 344 123.6 344.7 123.6 344.4 124.1 348.7 121.7 348.7 122.1 345.2 124.8 345.1 125.2 346.4 124.7 346.4 125.1 349.8 123.4 347.3 125.3 349.4 124.4 346.9 126.3 347 126.6 348.5 126.1 348.7 126.3 348.4 126.9 349.6 126.6 349.5 127 349.3 127.5 352.3 126.1 352.5 126.4 350.3 128 350.9 128.1 351 128.3 351.1 128.7 351.4 128.9 352.3 128.8 352.3 129.1 353.2 129 353.4 129.3 354 129.3 354.1 129.7 353.7 130.2 354.9 130L344.2 135.6A103 103 0 0 0 330.4 115.5Z" fill="#c9def2"/><path d="M339.9 107.2 339.8 107.7 341.1 107 340.2 108.2 339.9 108.9 341.1 108.3 339.5 110.1 339.7 110.4 343.6 107.5 339.6 111.3 339.8 111.6 340.1 111.7 340.1 112.2 340.4 112.3 339.9 113.2 340.3 113.3 340.8 113.3 340.5 113.9 340.5 114.3 341.5 114 341.5 114.4 342.8 113.8 341.5 115.2 342.3 115 342 115.7 340.6 117.1 341.1 117.1 341.7 117.1 341.9 117.3 341.1 118.3 340.7 119 341.7 118.6 342.3 118.6 342 119.3 343 118.9 341.8 120.2 343.1 119.6 342 120.8 342 121.2 344.9 119.5 342 122 341.9 122.4 345 120.7 342.1 123 342.8 122.9 346.5 120.8 342.4 124 344.1 123.2 344 123.6 344.7 123.6 344.4 124.1 348.7 121.7 348.7 122.1 345.2 124.8 345.1 125.2 346.4 124.7 346.4 125.1 349.8 123.4 347.3 125.3 349.4 124.4 346.9 126.3 347 126.6 348.5 126.1 348.7 126.3 348.4 126.9 349.6 126.6 349.5 127 349.3 127.5 352.3 126.1 352.5 126.4 350.3 128 350.9 128.1 351 128.3 351.1 128.7 351.4 128.9 352.3 128.8 352.3 129.1 353.2 129 353.4 129.3 354 129.3 354.1 129.7 353.7 130.2 354.9 130" fill="none" stroke="#86b6e2" stroke-width="0.45"/><path d="M358.9 130.5 355.6 132.5 356.4 132.5 355.8 133.1 356.4 133.2 358.6 132.5 355.5 134.4 356.1 134.4 355.1 135.3 356.3 135.1 355 136 354.3 136.7 354.7 136.9 354.7 137.2 357.1 136.5 353.9 138.3 353.6 138.8 354.8 138.6 355.7 138.6 353.8 139.7 355 139.6 356.2 139.4 353.9 140.7 354.1 141 356.8 140.2 354.2 141.6 355.1 141.6 354.6 142.1 355.1 142.3 355.6 142.4 358.3 141.7 357.3 142.4 356.6 143 354.7 144.1 354 144.7 353.6 145.2 354.2 145.3 357 144.6 354.3 145.9 353.6 146.5 354.5 146.5 354.3 146.9 354.2 147.3 354.3 147.6 355.3 147.6 356.1 147.6 356.6 147.8 355.6 148.4 356.7 148.4 356.4 148.8 356.3 149.2 356.5 149.5 356.8 149.7 358.4 149.5 357.6 150.1 358.6 150.1 363.7 148.8 361.5 149.9 360.5 150.5 362.4 150.3 359.4 151.5 364.6 150.3 362.5 151.3 360.9 152.1 361.4 152.3 361.9 152.5 361.4 152.9 362.2 153.1 364.5 152.8 362.3 153.7 363.8 153.6 362.5 154.3 363.4 154.4 365 154.4 364.3 154.9 364.8 155.1 364.6 155.5 364.6 155.8 364.8 156.1 365.2 156.4L353.1 159.3A103 103 0 0 0 345.1 137.4Z" fill="#c9def2"/><path d="M358.9 130.5 355.6 132.5 356.4 132.5 355.8 133.1 356.4 133.2 358.6 132.5 355.5 134.4 356.1 134.4 355.1 135.3 356.3 135.1 355 136 354.3 136.7 354.7 136.9 354.7 137.2 357.1 136.5 353.9 138.3 353.6 138.8 354.8 138.6 355.7 138.6 353.8 139.7 355 139.6 356.2 139.4 353.9 140.7 354.1 141 356.8 140.2 354.2 141.6 355.1 141.6 354.6 142.1 355.1 142.3 355.6 142.4 358.3 141.7 357.3 142.4 356.6 143 354.7 144.1 354 144.7 353.6 145.2 354.2 145.3 357 144.6 354.3 145.9 353.6 146.5 354.5 146.5 354.3 146.9 354.2 147.3 354.3 147.6 355.3 147.6 356.1 147.6 356.6 147.8 355.6 148.4 356.7 148.4 356.4 148.8 356.3 149.2 356.5 149.5 356.8 149.7 358.4 149.5 357.6 150.1 358.6 150.1 363.7 148.8 361.5 149.9 360.5 150.5 362.4 150.3 359.4 151.5 364.6 150.3 362.5 151.3 360.9 152.1 361.4 152.3 361.9 152.5 361.4 152.9 362.2 153.1 364.5 152.8 362.3 153.7 363.8 153.6 362.5 154.3 363.4 154.4 365 154.4 364.3 154.9 364.8 155.1 364.6 155.5 364.6 155.8 364.8 156.1 365.2 156.4" fill="none" stroke="#86b6e2" stroke-width="0.45"/><path d="M365.1 158.9 367.5 158.7 366.3 159.3 363.4 160.2 363.9 160.4 364 160.8 366.4 160.6 363.8 161.5 363.7 161.8 365.5 161.8 363.2 162.6 363.7 162.8 363.3 163.2 364.3 163.4 361.5 164.2 361.3 164.5 362.2 164.7 361.7 165.1 361.2 165.5 362.5 165.6 361.5 166.1 361.2 166.5 362.1 166.7 361.5 167.1 362.3 167.3 361.6 167.7 361.4 168 360.9 168.4 361.9 168.6 361.5 169 361.2 169.3 360.2 169.8 361 170 361 170.3 363.5 170.3 360 171.1 359.8 171.4 362.7 171.4 360.1 172 360.2 172.3 361 172.5 359.9 172.9 360.1 173.2 361 173.5 361.8 173.7 360.7 174.1 361.8 174.3 361.6 174.7 362.8 174.9 362.3 175.2 364.4 175.4 365.4 175.7 363.5 176.1 363.9 176.4 363.1 176.8 364.2 177 363.5 177.4 365 177.6 365.9 177.9 365.4 178.3 365.3 178.6 365.3 178.9 364.7 179.3 365.7 179.5 365.6 179.9 366.4 180.2 367.1 180.5 366.2 180.8 367.7 181.1 369 181.4 371 181.7 369.2 182.1 371.4 182.4 368.7 182.8 369.4 183.1L356 183.1A103 103 0 0 0 353.6 161.4Z" fill="#c9def2"/><path d="M365.1 158.9 367.5 158.7 366.3 159.3 363.4 160.2 363.9 160.4 364 160.8 366.4 160.6 363.8 161.5 363.7 161.8 365.5 161.8 363.2 162.6 363.7 162.8 363.3 163.2 364.3 163.4 361.5 164.2 361.3 164.5 362.2 164.7 361.7 165.1 361.2 165.5 362.5 165.6 361.5 166.1 361.2 166.5 362.1 166.7 361.5 167.1 362.3 167.3 361.6 167.7 361.4 168 360.9 168.4 361.9 168.6 361.5 169 361.2 169.3 360.2 169.8 361 170 361 170.3 363.5 170.3 360 171.1 359.8 171.4 362.7 171.4 360.1 172 360.2 172.3 361 172.5 359.9 172.9 360.1 173.2 361 173.5 361.8 173.7 360.7 174.1 361.8 174.3 361.6 174.7 362.8 174.9 362.3 175.2 364.4 175.4 365.4 175.7 363.5 176.1 363.9 176.4 363.1 176.8 364.2 177 363.5 177.4 365 177.6 365.9 177.9 365.4 178.3 365.3 178.6 365.3 178.9 364.7 179.3 365.7 179.5 365.6 179.9 366.4 180.2 367.1 180.5 366.2 180.8 367.7 181.1 369 181.4 371 181.7 369.2 182.1 371.4 182.4 368.7 182.8 369.4 183.1" fill="none" stroke="#86b6e2" stroke-width="0.45"/><path d="M369.1 185.5 366.7 185.8 367.8 186.2 367.6 186.5 367.5 186.8 367.2 187.1 365.7 187.4 365.9 187.8 365.6 188.1 365.1 188.4 365 188.7 364.7 189 365.5 189.4 365.3 189.7 364.6 190 364.3 190.3 366.1 190.7 364 190.9 364.6 191.3 363.6 191.5 364.5 191.9 363.6 192.2 366.2 192.7 362.9 192.7 363.5 193.1 366.4 193.7 362.6 193.7 366.5 194.4 362.2 194.3 362.9 194.7 360.3 194.7 360.8 195.1 360.3 195.3 361.7 195.8 359.4 195.9 359.5 196.2 359.1 196.4 360.2 196.9 359.9 197.2 359.7 197.5 363.7 198.3 359.4 198 359.7 198.4 359.6 198.7 360.1 199.1 359.2 199.3 360.1 199.7 361 200.2 360.4 200.4 362 201 361 201.1 362.5 201.7 362.7 202.1 367 203.1 361.4 202.5 362.4 203 362.8 203.4 362.5 203.6 361.8 203.8 363.1 204.4 363.6 204.8 363.8 205.2 363.3 205.4 364.3 206 366.9 206.8 364.3 206.7 367.9 207.7 364.3 207.3 364.3 207.6 363 207.7 362.8 208 365.3 208.9 364.4 209 365 209.5 365 209.8 365.3 210.3L353.2 207.4A103 103 0 0 0 356 185.3Z" fill="#c9def2"/><path d="M369.1 185.5 366.7 185.8 367.8 186.2 367.6 186.5 367.5 186.8 367.2 187.1 365.7 187.4 365.9 187.8 365.6 188.1 365.1 188.4 365 188.7 364.7 189 365.5 189.4 365.3 189.7 364.6 190 364.3 190.3 366.1 190.7 364 190.9 364.6 191.3 363.6 191.5 364.5 191.9 363.6 192.2 366.2 192.7 362.9 192.7 363.5 193.1 366.4 193.7 362.6 193.7 366.5 194.4 362.2 194.3 362.9 194.7 360.3 194.7 360.8 195.1 360.3 195.3 361.7 195.8 359.4 195.9 359.5 196.2 359.1 196.4 360.2 196.9 359.9 197.2 359.7 197.5 363.7 198.3 359.4 198 359.7 198.4 359.6 198.7 360.1 199.1 359.2 199.3 360.1 199.7 361 200.2 360.4 200.4 362 201 361 201.1 362.5 201.7 362.7 202.1 367 203.1 361.4 202.5 362.4 203 362.8 203.4 362.5 203.6 361.8 203.8 363.1 204.4 363.6 204.8 363.8 205.2 363.3 205.4 364.3 206 366.9 206.8 364.3 206.7 367.9 207.7 364.3 207.3 364.3 207.6 363 207.7 362.8 208 365.3 208.9 364.4 209 365 209.5 365 209.8 365.3 210.3" fill="none" stroke="#86b6e2" stroke-width="0.45"/><path d="M363.3 216 363.9 216.5 364.3 217 362.6 216.8 363.5 217.4 362.9 217.6 362.8 217.9 362.8 218.2 362.3 218.4 361.6 218.6 361.2 218.8 359.8 218.7 360.1 219.1 359.6 219.3 359.2 219.5 358.9 219.7 359.5 220.3 359.5 220.6 358.4 220.6 357.6 220.6 358.3 221.2 357.1 221.1 356.4 221.2 357.8 222.1 356.3 221.9 357.1 222.5 355.9 222.4 355.8 222.7 355.2 222.8 354.9 223 357.4 224.3 355 223.7 356.3 224.6 355.1 224.5 354 224.3 354.2 224.8 357.6 226.5 357.8 226.9 353.1 225.3 353.3 225.8 352.4 225.7 353 226.3 352.7 226.5 351.5 226.3 351.5 226.7 353.6 227.9 352.6 227.8 351.8 227.9 351.9 228.3 352 228.6 352.5 229.2 352.8 229.7 353 230.1 352.3 230.2 351.9 230.3 352.5 230.9 352.1 231.1 352.1 231.5 352.2 231.9 352 232.1 351.9 232.4 352.8 233.2 352.2 233.3 354.2 234.7 352.6 234.2 355.8 236.2 351.7 234.5 353.5 235.7 355.6 237.2 353 236.3 352.9 236.6 353.3 237.1 353.1 237.4 353.6 238 352.8 238 354.4 239.2L343.3 233.1A103 103 0 0 0 351.8 212.6Z" fill="#c9def2"/><path d="M363.3 216 363.9 216.5 364.3 217 362.6 216.8 363.5 217.4 362.9 217.6 362.8 217.9 362.8 218.2 362.3 218.4 361.6 218.6 361.2 218.8 359.8 218.7 360.1 219.1 359.6 219.3 359.2 219.5 358.9 219.7 359.5 220.3 359.5 220.6 358.4 220.6 357.6 220.6 358.3 221.2 357.1 221.1 356.4 221.2 357.8 222.1 356.3 221.9 357.1 222.5 355.9 222.4 355.8 222.7 355.2 222.8 354.9 223 357.4 224.3 355 223.7 356.3 224.6 355.1 224.5 354 224.3 354.2 224.8 357.6 226.5 357.8 226.9 353.1 225.3 353.3 225.8 352.4 225.7 353 226.3 352.7 226.5 351.5 226.3 351.5 226.7 353.6 227.9 352.6 227.8 351.8 227.9 351.9 228.3 352 228.6 352.5 229.2 352.8 229.7 353 230.1 352.3 230.2 351.9 230.3 352.5 230.9 352.1 231.1 352.1 231.5 352.2 231.9 352 232.1 351.9 232.4 352.8 233.2 352.2 233.3 354.2 234.7 352.6 234.2 355.8 236.2 351.7 234.5 353.5 235.7 355.6 237.2 353 236.3 352.9 236.6 353.3 237.1 353.1 237.4 353.6 238 352.8 238 354.4 239.2" fill="none" stroke="#86b6e2" stroke-width="0.45"/><path d="M352.3 241.8 352.5 242.3 351.6 242.1 351.9 242.7 351.1 242.6 351.6 243.3 350.4 243 349.1 242.5 349.2 242.9 349.1 243.3 349 243.6 349.3 244.2 348 243.8 350.7 245.9 348.4 244.8 346.3 243.8 346.6 244.4 346 244.4 349.7 247.2 345.9 245.1 348.4 247.2 346 245.9 344.9 245.6 347.3 247.6 344.4 246 343.7 245.9 344 246.5 342.7 246 343.1 246.7 341.9 246.2 344.4 248.4 341.5 246.7 341.1 246.8 340.9 247 340.4 247.1 340.7 247.7 343.3 250 339.6 247.7 339.8 248.2 339.3 248.2 339.3 248.6 338.4 248.3 338.8 249 338.8 249.4 338.8 249.8 339.2 250.5 338.8 250.6 338.6 250.9 338.3 251 339.1 252 342.1 254.9 340.9 254.3 342.6 256.1 339.5 254 341.1 255.8 338.8 254.3 339.1 254.9 338.8 255.1 338.3 255.1 340.2 257.1 340.1 257.4 338.3 256.4 340.8 258.9 338.2 257.1 340.1 259.2 338.9 258.7 337.7 258 338 258.7 338.4 259.5 338.4 259.9 338 260.1 336.9 259.5 337.3 260.3 337.4 260.8 337.6 261.5 338.9 263.2 336.1 261L328.3 253.7A103 103 0 0 0 341.8 235.6Z" fill="#c9def2"/><path d="M352.3 241.8 352.5 242.3 351.6 242.1 351.9 242.7 351.1 242.6 351.6 243.3 350.4 243 349.1 242.5 349.2 242.9 349.1 243.3 349 243.6 349.3 244.2 348 243.8 350.7 245.9 348.4 244.8 346.3 243.8 346.6 244.4 346 244.4 349.7 247.2 345.9 245.1 348.4 247.2 346 245.9 344.9 245.6 347.3 247.6 344.4 246 343.7 245.9 344 246.5 342.7 246 343.1 246.7 341.9 246.2 344.4 248.4 341.5 246.7 341.1 246.8 340.9 247 340.4 247.1 340.7 247.7 343.3 250 339.6 247.7 339.8 248.2 339.3 248.2 339.3 248.6 338.4 248.3 338.8 249 338.8 249.4 338.8 249.8 339.2 250.5 338.8 250.6 338.6 250.9 338.3 251 339.1 252 342.1 254.9 340.9 254.3 342.6 256.1 339.5 254 341.1 255.8 338.8 254.3 339.1 254.9 338.8 255.1 338.3 255.1 340.2 257.1 340.1 257.4 338.3 256.4 340.8 258.9 338.2 257.1 340.1 259.2 338.9 258.7 337.7 258 338 258.7 338.4 259.5 338.4 259.9 338 260.1 336.9 259.5 337.3 260.3 337.4 260.8 337.6 261.5 338.9 263.2 336.1 261" fill="none" stroke="#86b6e2" stroke-width="0.45"/><path d="M335.3 263 335.1 263.3 337.7 266.2 335.4 264.5 335 264.5 333.7 263.7 333 263.5 333.8 264.8 333.3 264.8 332.7 264.5 332.4 264.7 331.4 264.2 332.2 265.5 330.3 264 331.4 265.6 331 265.6 329.9 265 329.2 264.7 328.8 264.7 328.5 264.9 328.4 265.3 328.3 265.7 327.5 265.2 326.4 264.5 326.3 264.9 326.4 265.5 325.5 265 325.5 265.4 324.3 264.6 324.8 265.6 326.5 268 323.2 264.7 323.7 265.8 322.7 265 323.4 266.4 322.6 265.9 322.3 266.1 322.3 266.5 321.6 266.2 322.1 267.2 321.7 267.2 321.4 267.4 321.9 268.6 321.5 268.5 321.4 268.9 321.8 269.9 324.1 273.3 321.6 270.8 322.6 272.5 320.6 270.5 322.8 273.8 322.3 273.7 323.2 275.5 320 271.7 320.1 272.5 320.4 273.4 320.3 273.9 319.6 273.4 319.7 274.1 320.1 275.2 319.4 274.8 319.6 275.7 319.8 276.5 319.1 276.1 321.5 280 321.2 280.3 318.6 277.1 318.8 278 318.6 278.3L311.6 268.2A103 103 0 0 0 327.1 255Z" fill="#c9def2"/><path d="M335.3 263 335.1 263.3 337.7 266.2 335.4 264.5 335 264.5 333.7 263.7 333 263.5 333.8 264.8 333.3 264.8 332.7 264.5 332.4 264.7 331.4 264.2 332.2 265.5 330.3 264 331.4 265.6 331 265.6 329.9 265 329.2 264.7 328.8 264.7 328.5 264.9 328.4 265.3 328.3 265.7 327.5 265.2 326.4 264.5 326.3 264.9 326.4 265.5 325.5 265 325.5 265.4 324.3 264.6 324.8 265.6 326.5 268 323.2 264.7 323.7 265.8 322.7 265 323.4 266.4 322.6 265.9 322.3 266.1 322.3 266.5 321.6 266.2 322.1 267.2 321.7 267.2 321.4 267.4 321.9 268.6 321.5 268.5 321.4 268.9 321.8 269.9 324.1 273.3 321.6 270.8 322.6 272.5 320.6 270.5 322.8 273.8 322.3 273.7 323.2 275.5 320 271.7 320.1 272.5 320.4 273.4 320.3 273.9 319.6 273.4 319.7 274.1 320.1 275.2 319.4 274.8 319.6 275.7 319.8 276.5 319.1 276.1 321.5 280 321.2 280.3 318.6 277.1 318.8 278 318.6 278.3" fill="none" stroke="#86b6e2" stroke-width="0.45"/><path d="M315.8 280.1 314.9 279.4 314.6 279.6 313.7 278.8 313.6 279.1 313.3 279.3 313.3 279.9 312.3 278.9 311.7 278.7 312.7 281 311.9 280.2 311.2 279.7 310.8 279.6 311 280.7 311.3 281.8 309.9 280 309.4 279.8 309.1 280 308.3 279.2 308 279.2 309.2 282.1 307.3 279.3 306.4 278.4 306.4 279.1 306.2 279.3 305.9 279.5 305.3 279.1 306.3 281.5 305 279.8 304.6 279.7 304.1 279.4 303.4 278.8 303.4 279.5 302.9 279.2 302.8 279.7 302.2 279.3 302.1 279.7 303.4 283 302.3 281.4 301.7 281 303.7 285.7 301.4 281.7 301.1 281.9 300.8 281.9 300.6 282.3 300.7 283.1 300.5 283.5 300.2 283.7 300.5 285 299.9 284.6 299.7 284.9 299.5 285.3 298.9 284.7 298.8 285.1 298.8 286 298.2 285.4 298.4 286.7 297.9 286.4 298 287.4 297.9 287.9 297.6 288.2 297.2 288 296.8 288 296.8 288.8 296.5 288.8 296.1 288.8 296.3 290.2 296.1 290.6 296.7 292.9 295.5 290.8 295.1 290.7 295.2 292 294.6 291.2L290.1 279.6A103 103 0 0 0 309.1 269.9Z" fill="#c9def2"/><path d="M315.8 280.1 314.9 279.4 314.6 279.6 313.7 278.8 313.6 279.1 313.3 279.3 313.3 279.9 312.3 278.9 311.7 278.7 312.7 281 311.9 280.2 311.2 279.7 310.8 279.6 311 280.7 311.3 281.8 309.9 280 309.4 279.8 309.1 280 308.3 279.2 308 279.2 309.2 282.1 307.3 279.3 306.4 278.4 306.4 279.1 306.2 279.3 305.9 279.5 305.3 279.1 306.3 281.5 305 279.8 304.6 279.7 304.1 279.4 303.4 278.8 303.4 279.5 302.9 279.2 302.8 279.7 302.2 279.3 302.1 279.7 303.4 283 302.3 281.4 301.7 281 303.7 285.7 301.4 281.7 301.1 281.9 300.8 281.9 300.6 282.3 300.7 283.1 300.5 283.5 300.2 283.7 300.5 285 299.9 284.6 299.7 284.9 299.5 285.3 298.9 284.7 298.8 285.1 298.8 286 298.2 285.4 298.4 286.7 297.9 286.4 298 287.4 297.9 287.9 297.6 288.2 297.2 288 296.8 288 296.8 288.8 296.5 288.8 296.1 288.8 296.3 290.2 296.1 290.6 296.7 292.9 295.5 290.8 295.1 290.7 295.2 292 294.6 291.2" fill="none" stroke="#86b6e2" stroke-width="0.45"/><path d="M289.9 293.8 289.7 294.1 289.8 295.6 288.7 293.2 288.3 293.2 288.1 293.7 287.8 293.9 286.8 291.8 286.6 292 286.2 292.1 286.1 292.7 285.4 291.5 285.2 292.1 285.9 295.5 284.2 291 283.8 290.7 283.3 290.2 282.9 290 282.8 290.6 282.3 289.9 282.5 291.9 281.7 290.4 281.1 289.3 281 290 280.4 289.2 280.2 289.7 279.7 288.9 279.4 289.1 279.1 289 278.8 288.9 278.4 288.9 278.6 290.8 277.7 288.7 278.4 292.9 277.1 288.9 277 289.8 276.7 289.5 276.4 289.9 276 289.4 275.8 290 275.6 290.4 275.3 290.8 274.8 290 274.9 292.1 275.1 294.6 274 290.7 274.7 295.8 273.7 292.4 273.5 293 273.1 292.6 272.9 293.4 272.7 293.8 272.2 292.9 272.8 298.5 271.7 293.9 271.5 294.9 271.3 295.7 271.7 299.9 270.8 296.5 270.5 296.4 270.5 299.1 269.9 296.8 269.6 297.4L267.9 285.4A103 103 0 0 0 285.7 281.2Z" fill="#c9def2"/><path d="M289.9 293.8 289.7 294.1 289.8 295.6 288.7 293.2 288.3 293.2 288.1 293.7 287.8 293.9 286.8 291.8 286.6 292 286.2 292.1 286.1 292.7 285.4 291.5 285.2 292.1 285.9 295.5 284.2 291 283.8 290.7 283.3 290.2 282.9 290 282.8 290.6 282.3 289.9 282.5 291.9 281.7 290.4 281.1 289.3 281 290 280.4 289.2 280.2 289.7 279.7 288.9 279.4 289.1 279.1 289 278.8 288.9 278.4 288.9 278.6 290.8 277.7 288.7 278.4 292.9 277.1 288.9 277 289.8 276.7 289.5 276.4 289.9 276 289.4 275.8 290 275.6 290.4 275.3 290.8 274.8 290 274.9 292.1 275.1 294.6 274 290.7 274.7 295.8 273.7 292.4 273.5 293 273.1 292.6 272.9 293.4 272.7 293.8 272.2 292.9 272.8 298.5 271.7 293.9 271.5 294.9 271.3 295.7 271.7 299.9 270.8 296.5 270.5 296.4 270.5 299.1 269.9 296.8 269.6 297.4" fill="none" stroke="#86b6e2" stroke-width="0.45"/><path d="M268.3 297.9 267.8 296.7 267.5 296.8 267 296 267.3 301 266.4 296 266.4 299 265.6 295.3 265.3 295.2 265 295.1 264.7 295.8 264.2 293.8 263.8 293.4 263.8 296.3 263.2 293.8 263 294.3 262.5 293.1 262.2 292.8 261.9 293.5 261.9 297.5 261.2 292.4 261.2 297.2 260.7 293.5 260.3 292.9 259.9 291.6 259.7 293 259.3 291.2 259.1 293.9 258.6 290.2 258.3 290.4 258 290.4 257.8 294.1 257.5 292.6 257.2 295.6 256.8 291.5 256.5 292.7 256.2 294.3 255.9 292.5 255.6 293.6 255.3 294.4 255 293.8 254.6 293.8 254.3 293.5 254 294.6 253.7 293.7 253.4 294.6 253.1 294.4 252.7 295.9 252.4 295.4 252.1 296.1 251.8 296.1 251.5 295.5 251.1 296.4 250.7 300.3 250.4 299.4 250.1 296.3 249.8 296.6 249.4 297.9 249.1 297.3 248.8 298.6 248.3 301.8 248 301.8 247.8 298.8L248.3 286.4A103 103 0 0 0 266.6 285.6Z" fill="#c9def2"/><path d="M268.3 297.9 267.8 296.7 267.5 296.8 267 296 267.3 301 266.4 296 266.4 299 265.6 295.3 265.3 295.2 265 295.1 264.7 295.8 264.2 293.8 263.8 293.4 263.8 296.3 263.2 293.8 263 294.3 262.5 293.1 262.2 292.8 261.9 293.5 261.9 297.5 261.2 292.4 261.2 297.2 260.7 293.5 260.3 292.9 259.9 291.6 259.7 293 259.3 291.2 259.1 293.9 258.6 290.2 258.3 290.4 258 290.4 257.8 294.1 257.5 292.6 257.2 295.6 256.8 291.5 256.5 292.7 256.2 294.3 255.9 292.5 255.6 293.6 255.3 294.4 255 293.8 254.6 293.8 254.3 293.5 254 294.6 253.7 293.7 253.4 294.6 253.1 294.4 252.7 295.9 252.4 295.4 252.1 296.1 251.8 296.1 251.5 295.5 251.1 296.4 250.7 300.3 250.4 299.4 250.1 296.3 249.8 296.6 249.4 297.9 249.1 297.3 248.8 298.6 248.3 301.8 248 301.8 247.8 298.8" fill="none" stroke="#86b6e2" stroke-width="0.45"/><path d="M246 300.6 245.8 298.5 245.6 297.9 245.2 297.5 245 296.9 244.6 297.2 244.4 295.9 244 296.2 243.7 296.2 243.5 295.2 242.8 298.8 242.8 296.1 242.6 294.7 242.3 294.6 242 294.1 241.7 293.7 241.4 293.3 241.1 293.7 240.6 294.8 240.2 296.1 240.2 293.2 240 292.2 239.7 291.5 239.5 290.8 239.3 290.4 238.4 294.7 238.8 289.4 237.8 294.3 238.2 289.4 237.7 290.2 237.3 291 236.3 295.4 236.8 290.4 236.5 290.4 235.5 294.6 235.5 292.3 235.4 291.1 234.4 295.2 234.6 292.3 234.2 292.4 233.9 292.5 233.4 293.8 233.2 292.8 232.7 293.7 232.7 292.2 232.3 292.5 231.6 294.2 231.5 293.1 231.1 293.7 229.9 298.2 230.2 294.8 229.7 295.8 229.3 296L231.8 284.3A103 103 0 0 0 246.9 286.3Z" fill="#c9def2"/><path d="M246 300.6 245.8 298.5 245.6 297.9 245.2 297.5 245 296.9 244.6 297.2 244.4 295.9 244 296.2 243.7 296.2 243.5 295.2 242.8 298.8 242.8 296.1 242.6 294.7 242.3 294.6 242 294.1 241.7 293.7 241.4 293.3 241.1 293.7 240.6 294.8 240.2 296.1 240.2 293.2 240 292.2 239.7 291.5 239.5 290.8 239.3 290.4 238.4 294.7 238.8 289.4 237.8 294.3 238.2 289.4 237.7 290.2 237.3 291 236.3 295.4 236.8 290.4 236.5 290.4 235.5 294.6 235.5 292.3 235.4 291.1 234.4 295.2 234.6 292.3 234.2 292.4 233.9 292.5 233.4 293.8 233.2 292.8 232.7 293.7 232.7 292.2 232.3 292.5 231.6 294.2 231.5 293.1 231.1 293.7 229.9 298.2 230.2 294.8 229.7 295.8 229.3 296" fill="none" stroke="#86b6e2" stroke-width="0.45"/><path d="M227.6 294.4 227 295.7 226.9 294.6 226.4 295.1 226.2 294.6 225.4 296.3 225.7 293.8 224.9 295.6 225 293.8 224.8 293.4 224.7 292.5 223.4 296 223.4 294.7 223.8 292 223.8 290.7 223.3 291.5 222.9 291.6 222.8 290.7 222.6 290.5 222.7 288.9 222.3 288.9 222 288.9 221.9 288.1 221.6 288.1 221.3 288.1 220.9 288 221 286.8 220.6 287 220.5 286.4 220 286.7 219.5 287.4 218.5 289.4 217.7 290.7 218.3 288 218.3 287.1 218 286.9 217.8 286.6 217.4 286.8 217.1 286.6 216.1 288.5 215.9 287.9 214.1 292.1 215.4 287.5 213.5 291.9 214.6 287.8 213.7 289.3 213.7 288.4 212.9 289.6 211.2 293.2 212.3 289.2 211.3 290.9 210.3 292.5 211 289.9 210.8 289.6L214.9 279.2A103 103 0 0 0 230 283.9Z" fill="#c9def2"/><path d="M227.6 294.4 227 295.7 226.9 294.6 226.4 295.1 226.2 294.6 225.4 296.3 225.7 293.8 224.9 295.6 225 293.8 224.8 293.4 224.7 292.5 223.4 296 223.4 294.7 223.8 292 223.8 290.7 223.3 291.5 222.9 291.6 222.8 290.7 222.6 290.5 222.7 288.9 222.3 288.9 222 288.9 221.9 288.1 221.6 288.1 221.3 288.1 220.9 288 221 286.8 220.6 287 220.5 286.4 220 286.7 219.5 287.4 218.5 289.4 217.7 290.7 218.3 288 218.3 287.1 218 286.9 217.8 286.6 217.4 286.8 217.1 286.6 216.1 288.5 215.9 287.9 214.1 292.1 215.4 287.5 213.5 291.9 214.6 287.8 213.7 289.3 213.7 288.4 212.9 289.6 211.2 293.2 212.3 289.2 211.3 290.9 210.3 292.5 211 289.9 210.8 289.6" fill="none" stroke="#86b6e2" stroke-width="0.45"/><path d="M204.6 287.8 204.2 287.8 204.2 287.1 203.7 287.3 203.3 287.5 203.5 286.3 203 286.4 202.8 286.2 202.5 285.9 202.6 285.1 202.6 284.4 202.1 284.7 201.5 285.2 201.4 284.5 201.4 283.7 201.1 283.7 200.7 283.8 201.1 282.2 200.6 282.6 200.2 282.7 199.1 284 199.7 282.2 198.6 283.5 198.1 283.8 199.3 280.9 199.1 280.6 198.7 280.7 198.6 280.1 199 278.9 196.9 281.9 198.7 278.1 198.1 278.4 196.7 280.3 198.1 277.2 197.3 278 196.3 279 197 277.2 196 278.3 196.8 276.3 196.5 276.3 195.8 276.7 195.7 276.4 195 276.9 195.2 276 195.4 275.1 194.9 275.3 194.3 275.6 192.3 278.1 194.4 274.2 193.2 275.6 193.3 274.9 193.5 274 192.4 275 192.5 274.3 191.9 274.7 191.8 274.3 191 274.9 190.7 274.7 188 278.2 189.8 275 189.5 274.7 189.3 274.6 189 274.4 189.2 273.5 188.1 274.5 188.5 273.4 185.5 277.1 186.8 274.7 187.1 273.7 186.6 273.8 186.8 273.1 186.6 272.8 185.5 273.7 185.4 273.2 183.6 275.1 184.5 273.4 184 273.5 183.8 273.3 182.4 274.5L189.9 264.9A103 103 0 0 0 209.6 276.9Z" fill="#c9def2"/><path d="M204.6 287.8 204.2 287.8 204.2 287.1 203.7 287.3 203.3 287.5 203.5 286.3 203 286.4 202.8 286.2 202.5 285.9 202.6 285.1 202.6 284.4 202.1 284.7 201.5 285.2 201.4 284.5 201.4 283.7 201.1 283.7 200.7 283.8 201.1 282.2 200.6 282.6 200.2 282.7 199.1 284 199.7 282.2 198.6 283.5 198.1 283.8 199.3 280.9 199.1 280.6 198.7 280.7 198.6 280.1 199 278.9 196.9 281.9 198.7 278.1 198.1 278.4 196.7 280.3 198.1 277.2 197.3 278 196.3 279 197 277.2 196 278.3 196.8 276.3 196.5 276.3 195.8 276.7 195.7 276.4 195 276.9 195.2 276 195.4 275.1 194.9 275.3 194.3 275.6 192.3 278.1 194.4 274.2 193.2 275.6 193.3 274.9 193.5 274 192.4 275 192.5 274.3 191.9 274.7 191.8 274.3 191 274.9 190.7 274.7 188 278.2 189.8 275 189.5 274.7 189.3 274.6 189 274.4 189.2 273.5 188.1 274.5 188.5 273.4 185.5 277.1 186.8 274.7 187.1 273.7 186.6 273.8 186.8 273.1 186.6 272.8 185.5 273.7 185.4 273.2 183.6 275.1 184.5 273.4 184 273.5 183.8 273.3 182.4 274.5" fill="none" stroke="#86b6e2" stroke-width="0.45"/><path d="M180.4 272.8 180.2 272.6 179.3 273.1 179.4 272.5 179.1 272.3 178.9 272.1 179 271.4 179.1 270.8 177.5 272.1 179.2 269.7 176.3 272.5 179.6 268.2 179.3 268 176.8 270.4 179.1 267.2 178.4 267.6 178.1 267.4 177.4 267.7 177.3 267.3 177.5 266.6 176.1 267.7 177.6 265.6 178.3 264.3 177.8 264.4 175.2 266.7 175 266.4 178.1 262.7 178.2 262.1 178.1 261.8 176.9 262.6 177.8 261.2 176.9 261.6 176.6 261.5 176.6 261.1 176.7 260.5 175.6 261.2 175.6 260.8 176.1 259.8 172.2 263.2 174.8 260.2 175.6 259 174.5 259.6 174.4 259.2 174.3 258.9 172.9 259.8 173.2 259.1 173 258.8 172.3 259.1 172 258.9 172.4 258.1 169.3 260.5 171.6 258 170.7 258.4 169.6 258.9 169.8 258.3 165.7 261.5 168.4 258.6 169.3 257.4 167.6 258.5 166.9 258.7 164.2 260.6 167.6 257.2 166.9 257.4 165.8 257.9 165.9 257.4L174.4 250.1A103 103 0 0 0 188 263.4Z" fill="#c9def2"/><path d="M180.4 272.8 180.2 272.6 179.3 273.1 179.4 272.5 179.1 272.3 178.9 272.1 179 271.4 179.1 270.8 177.5 272.1 179.2 269.7 176.3 272.5 179.6 268.2 179.3 268 176.8 270.4 179.1 267.2 178.4 267.6 178.1 267.4 177.4 267.7 177.3 267.3 177.5 266.6 176.1 267.7 177.6 265.6 178.3 264.3 177.8 264.4 175.2 266.7 175 266.4 178.1 262.7 178.2 262.1 178.1 261.8 176.9 262.6 177.8 261.2 176.9 261.6 176.6 261.5 176.6 261.1 176.7 260.5 175.6 261.2 175.6 260.8 176.1 259.8 172.2 263.2 174.8 260.2 175.6 259 174.5 259.6 174.4 259.2 174.3 258.9 172.9 259.8 173.2 259.1 173 258.8 172.3 259.1 172 258.9 172.4 258.1 169.3 260.5 171.6 258 170.7 258.4 169.6 258.9 169.8 258.3 165.7 261.5 168.4 258.6 169.3 257.4 167.6 258.5 166.9 258.7 164.2 260.6 167.6 257.2 166.9 257.4 165.8 257.9 165.9 257.4" fill="none" stroke="#86b6e2" stroke-width="0.45"/><path d="M164.5 257 164.6 256.5 163.5 257 163.5 256.5 163.2 256.3 163.4 255.8 161.1 257.1 163.8 254.6 161.5 256 162 255.2 161.9 254.8 163.1 253.5 163.7 252.6 164.2 251.8 163.5 251.9 164.2 251 164.4 250.4 163.9 250.4 164.7 249.4 164 249.6 164.1 249.1 163.2 249.3 164 248.4 163.8 248.1 162.8 248.4 163.3 247.7 163.4 247.2 164.1 246.4 163.3 246.5 163.6 245.9 163.4 245.7 160.5 247.3 164.3 244.3 161.9 245.6 161.4 245.5 163.4 243.8 163.5 243.4 163 243.3 162.3 243.4 161.9 243.3 161.5 243.2 162.2 242.4 161.7 242.3 160.8 242.5 160.7 242.2 157 244.2 156.6 244 159.6 241.8 158.6 242.1 158.2 241.9 157.9 241.7 158.1 241.2 157.7 241.1 157.4 240.9 155.8 241.5 156.2 240.8 153.5 242.1 154.2 241.3 154.5 240.7 154.3 240.5 153.8 240.4 154 239.9 151.5 240.9L163.4 234.2A103 103 0 0 0 173.8 249.3Z" fill="#c9def2"/><path d="M164.5 257 164.6 256.5 163.5 257 163.5 256.5 163.2 256.3 163.4 255.8 161.1 257.1 163.8 254.6 161.5 256 162 255.2 161.9 254.8 163.1 253.5 163.7 252.6 164.2 251.8 163.5 251.9 164.2 251 164.4 250.4 163.9 250.4 164.7 249.4 164 249.6 164.1 249.1 163.2 249.3 164 248.4 163.8 248.1 162.8 248.4 163.3 247.7 163.4 247.2 164.1 246.4 163.3 246.5 163.6 245.9 163.4 245.7 160.5 247.3 164.3 244.3 161.9 245.6 161.4 245.5 163.4 243.8 163.5 243.4 163 243.3 162.3 243.4 161.9 243.3 161.5 243.2 162.2 242.4 161.7 242.3 160.8 242.5 160.7 242.2 157 244.2 156.6 244 159.6 241.8 158.6 242.1 158.2 241.9 157.9 241.7 158.1 241.2 157.7 241.1 157.4 240.9 155.8 241.5 156.2 240.8 153.5 242.1 154.2 241.3 154.5 240.7 154.3 240.5 153.8 240.4 154 239.9 151.5 240.9" fill="none" stroke="#86b6e2" stroke-width="0.45"/><path d="M148.6 239.3 148.4 239 152.1 236.6 152.4 236.1 150.9 236.5 152.3 235.4 150.6 235.9 153.1 234.3 153.2 233.9 152.9 233.7 154 232.8 153.3 232.8 151 233.5 154 231.7 152.6 232 153.6 231.2 153.8 230.8 153.3 230.7 152.9 230.5 149 232 153.6 229.5 153.2 229.3 153.3 228.9 153 228.7 152.9 228.4 153.5 227.8 153.3 227.5 153.2 227.2 152.9 227 149 228.4 153.3 226.2 153.9 225.6 152.5 225.9 152.6 225.4 152.1 225.3 152 225 151.9 224.7 151.1 224.7 151 224.4 150.7 224.2 149.1 224.5 151.5 223.2 150.8 223.1 148.1 223.8 150.6 222.5 150.5 222.2 148.7 222.6 148.6 222.3 145.1 223.2 147.6 222 148 221.5 147.5 221.3 147.7 220.9 144 221.9 146.6 220.6 143.8 221.2 144.9 220.5 145.7 219.9 142.2 220.7 145 219.4 144.6 219.2 143.9 219.1 144.8 218.5 144.5 218.2 141.5 218.8 140.8 218.7 142.5 217.8 142.6 217.5 143 217 142.7 216.7 143.5 216.1L154.3 212.9A103 103 0 0 0 162.1 232Z" fill="#c9def2"/><path d="M148.6 239.3 148.4 239 152.1 236.6 152.4 236.1 150.9 236.5 152.3 235.4 150.6 235.9 153.1 234.3 153.2 233.9 152.9 233.7 154 232.8 153.3 232.8 151 233.5 154 231.7 152.6 232 153.6 231.2 153.8 230.8 153.3 230.7 152.9 230.5 149 232 153.6 229.5 153.2 229.3 153.3 228.9 153 228.7 152.9 228.4 153.5 227.8 153.3 227.5 153.2 227.2 152.9 227 149 228.4 153.3 226.2 153.9 225.6 152.5 225.9 152.6 225.4 152.1 225.3 152 225 151.9 224.7 151.1 224.7 151 224.4 150.7 224.2 149.1 224.5 151.5 223.2 150.8 223.1 148.1 223.8 150.6 222.5 150.5 222.2 148.7 222.6 148.6 222.3 145.1 223.2 147.6 222 148 221.5 147.5 221.3 147.7 220.9 144 221.9 146.6 220.6 143.8 221.2 144.9 220.5 145.7 219.9 142.2 220.7 145 219.4 144.6 219.2 143.9 219.1 144.8 218.5 144.5 218.2 141.5 218.8 140.8 218.7 142.5 217.8 142.6 217.5 143 217 142.7 216.7 143.5 216.1" fill="none" stroke="#86b6e2" stroke-width="0.45"/><path d="M141.4 212.4 141.3 212.1 142.5 211.4 142.3 211.1 142.6 210.7 141.6 210.6 142.7 210 143.7 209.4 143.9 209.1 143.3 208.8 143.5 208.5 143.6 208.1 144.5 207.6 144.8 207.2 144.8 206.9 144.5 206.6 145.7 206 144.8 205.9 145.5 205.4 144.3 205.3 145.7 204.7 141.3 205.3 144.4 204.3 145.5 203.8 145.5 203.5 143.6 203.5 144.3 203.1 145.7 202.5 146.1 202.1 145.3 201.9 144.2 201.8 146.9 201 146.3 200.8 146.3 200.5 146.9 200.1 146.1 199.9 144.9 199.8 145.9 199.3 145 199.1 141.1 199.3 144.4 198.6 145.2 198.1 144.2 197.9 143.7 197.7 142.6 197.5 143.2 197.1 142.7 196.9 141.8 196.6 141.8 196.3 141.5 196 141.6 195.7 137.3 195.8 142.2 195 142.1 194.7 141.5 194.4 141.2 194.1 138.5 194 136 193.9 139.2 193.3 138.3 193 138.5 192.7 137.6 192.4 138 192.1 138.2 191.7 137.4 191.4 137.7 191.1 137.6 190.8L150.2 190A103 103 0 0 0 153.3 209.3Z" fill="#c9def2"/><path d="M141.4 212.4 141.3 212.1 142.5 211.4 142.3 211.1 142.6 210.7 141.6 210.6 142.7 210 143.7 209.4 143.9 209.1 143.3 208.8 143.5 208.5 143.6 208.1 144.5 207.6 144.8 207.2 144.8 206.9 144.5 206.6 145.7 206 144.8 205.9 145.5 205.4 144.3 205.3 145.7 204.7 141.3 205.3 144.4 204.3 145.5 203.8 145.5 203.5 143.6 203.5 144.3 203.1 145.7 202.5 146.1 202.1 145.3 201.9 144.2 201.8 146.9 201 146.3 200.8 146.3 200.5 146.9 200.1 146.1 199.9 144.9 199.8 145.9 199.3 145 199.1 141.1 199.3 144.4 198.6 145.2 198.1 144.2 197.9 143.7 197.7 142.6 197.5 143.2 197.1 142.7 196.9 141.8 196.6 141.8 196.3 141.5 196 141.6 195.7 137.3 195.8 142.2 195 142.1 194.7 141.5 194.4 141.2 194.1 138.5 194 136 193.9 139.2 193.3 138.3 193 138.5 192.7 137.6 192.4 138 192.1 138.2 191.7 137.4 191.4 137.7 191.1 137.6 190.8" fill="none" stroke="#86b6e2" stroke-width="0.45"/><path d="M138.1 187.7 137.8 187.4 137.2 187.1 138.2 186.7 138.6 186.4 137.9 186.1 137.7 185.7 137.9 185.4 138.5 185.1 137.2 184.8 139.3 184.4 139.8 184.1 140.4 183.7 140.5 183.4 141.3 183.1 136.9 182.8 138.5 182.4 141.2 182.1 141 181.8 141.7 181.5 141.3 181.2 139.7 180.8 142.5 180.6 142.3 180.2 142.9 179.9 140.4 179.5 143.8 179.3 144.4 179.1 145.5 178.8 141.3 178.3 145.9 178.2 144.5 177.8 145.9 177.6 146.1 177.3 145.6 176.9 144.4 176.6 145 176.3 142.6 175.8 146.3 175.8 145.6 175.4 144.4 175 145.1 174.7 144.3 174.3 145.4 174.1 143.9 173.7 144.7 173.4 144.4 173.1 143.7 172.7 144.5 172.5 143.1 172 143 171.7 142.8 171.3 143.4 171.1 138.6 170.2 141.7 170.2 138.1 169.5 140.6 169.5 140.3 169.1 139.9 168.7 140.4 168.4 141.5 168.3 140 167.7 140.4 167.5 136.9 166.6 139.8 166.7 140.1 166.4L151.2 168.1A103 103 0 0 0 150.1 187.3Z" fill="#c9def2"/><path d="M138.1 187.7 137.8 187.4 137.2 187.1 138.2 186.7 138.6 186.4 137.9 186.1 137.7 185.7 137.9 185.4 138.5 185.1 137.2 184.8 139.3 184.4 139.8 184.1 140.4 183.7 140.5 183.4 141.3 183.1 136.9 182.8 138.5 182.4 141.2 182.1 141 181.8 141.7 181.5 141.3 181.2 139.7 180.8 142.5 180.6 142.3 180.2 142.9 179.9 140.4 179.5 143.8 179.3 144.4 179.1 145.5 178.8 141.3 178.3 145.9 178.2 144.5 177.8 145.9 177.6 146.1 177.3 145.6 176.9 144.4 176.6 145 176.3 142.6 175.8 146.3 175.8 145.6 175.4 144.4 175 145.1 174.7 144.3 174.3 145.4 174.1 143.9 173.7 144.7 173.4 144.4 173.1 143.7 172.7 144.5 172.5 143.1 172 143 171.7 142.8 171.3 143.4 171.1 138.6 170.2 141.7 170.2 138.1 169.5 140.6 169.5 140.3 169.1 139.9 168.7 140.4 168.4 141.5 168.3 140 167.7 140.4 167.5 136.9 166.6 139.8 166.7 140.1 166.4" fill="none" stroke="#86b6e2" stroke-width="0.45"/><path d="M136.5 164.2 139.1 164.3 139.3 164 139.7 163.7 141.3 163.7 141.7 163.4 140.7 162.9 141.9 162.8 141.9 162.5 143 162.3 144 162.2 139 160.9 144.5 161.7 144.3 161.3 144.3 161 145.2 160.8 144.5 160.4 140.8 159.2 145.6 159.9 145.9 159.7 143 158.7 146.4 159.2 147.8 159.2 147.6 158.8 147.8 158.5 148.6 158.4 147.7 157.8 148.3 157.7 148.6 157.4 148.6 157.1 143.5 155.5 144.8 155.5 147.9 156 148.1 155.7 147.9 155.3 147.4 154.9 145.6 154 146.8 154.1 148.1 154.1 148 153.7 147.9 153.4 144.5 152.1 147.1 152.5 146.7 152 146.8 151.7 145.8 151.1 144.4 150.3 146.4 150.6 146.1 150.2 146 149.8 144.4 148.9 144 148.5 144.4 148.3 143.3 147.6 144.5 147.6 140.7 146 143.4 146.5 144.5 146.6L155.5 150.3A103 103 0 0 0 151.4 166.7Z" fill="#c9def2"/><path d="M136.5 164.2 139.1 164.3 139.3 164 139.7 163.7 141.3 163.7 141.7 163.4 140.7 162.9 141.9 162.8 141.9 162.5 143 162.3 144 162.2 139 160.9 144.5 161.7 144.3 161.3 144.3 161 145.2 160.8 144.5 160.4 140.8 159.2 145.6 159.9 145.9 159.7 143 158.7 146.4 159.2 147.8 159.2 147.6 158.8 147.8 158.5 148.6 158.4 147.7 157.8 148.3 157.7 148.6 157.4 148.6 157.1 143.5 155.5 144.8 155.5 147.9 156 148.1 155.7 147.9 155.3 147.4 154.9 145.6 154 146.8 154.1 148.1 154.1 148 153.7 147.9 153.4 144.5 152.1 147.1 152.5 146.7 152 146.8 151.7 145.8 151.1 144.4 150.3 146.4 150.6 146.1 150.2 146 149.8 144.4 148.9 144 148.5 144.4 148.3 143.3 147.6 144.5 147.6 140.7 146 143.4 146.5 144.5 146.6" fill="none" stroke="#86b6e2" stroke-width="0.45"/><path d="M144.5 144.7 144.5 144.3 141.8 142.9 145.8 144.1 145.5 143.6 146.3 143.6 146 143.1 147.5 143.3 147.3 142.9 146.8 142.3 147.1 142.1 144.3 140.6 148.5 142 148.1 141.4 148.8 141.4 148.9 141.1 145.8 139.4 150.4 141 151.6 141.1 151.3 140.7 151.3 140.3 149.6 139.2 152.1 139.9 153.2 140.1 152 139.2 152.9 139.3 153.5 139.2 150.3 137.4 154.1 138.8 152.9 137.9 154.1 138.1 155.2 138.3 154.4 137.5 155.6 137.7 154.6 136.9 155.2 136.9 154.9 136.4 154.7 135.9 155.2 135.8 155.2 135.4 154.3 134.7 154.5 134.4 154.1 133.9 154.6 133.8 154.7 133.4 151.2 131.3 153.7 132.2 154.4 132.2 154.1 131.7 153.8 131.1 153.3 130.5 154.3 130.7 154.4 130.4 154.5 130.1 154.2 129.6 150.3 127 152.8 128 154.5 128.6 153.8 127.8 151.4 126.1 151.6 125.8 152.6 126L163.6 132.3A103 103 0 0 0 156 148.8Z" fill="#c9def2"/><path d="M144.5 144.7 144.5 144.3 141.8 142.9 145.8 144.1 145.5 143.6 146.3 143.6 146 143.1 147.5 143.3 147.3 142.9 146.8 142.3 147.1 142.1 144.3 140.6 148.5 142 148.1 141.4 148.8 141.4 148.9 141.1 145.8 139.4 150.4 141 151.6 141.1 151.3 140.7 151.3 140.3 149.6 139.2 152.1 139.9 153.2 140.1 152 139.2 152.9 139.3 153.5 139.2 150.3 137.4 154.1 138.8 152.9 137.9 154.1 138.1 155.2 138.3 154.4 137.5 155.6 137.7 154.6 136.9 155.2 136.9 154.9 136.4 154.7 135.9 155.2 135.8 155.2 135.4 154.3 134.7 154.5 134.4 154.1 133.9 154.6 133.8 154.7 133.4 151.2 131.3 153.7 132.2 154.4 132.2 154.1 131.7 153.8 131.1 153.3 130.5 154.3 130.7 154.4 130.4 154.5 130.1 154.2 129.6 150.3 127 152.8 128 154.5 128.6 153.8 127.8 151.4 126.1 151.6 125.8 152.6 126" fill="none" stroke="#86b6e2" stroke-width="0.45"/><path d="M154.6 121.3 155.8 121.7 156.6 121.8 156.9 121.6 155.2 120.1 153.8 118.8 157.9 121 157.4 120.3 159.1 121.1 157.2 119.4 159.7 120.7 159.4 120.1 160 120.1 160.4 119.9 160.9 119.9 160.6 119.3 157.8 117 162.1 119.6 161.4 118.7 162.1 118.8 162.8 118.9 163.5 119 163.3 118.4 164.6 119 164.1 118.3 164.7 118.3 164.8 118 165.7 118.3 165.2 117.5 162.9 115.4 166 117.3 166.1 117 167 117.3 167.2 117 166.7 116.3 166.8 116 167 115.7 167.6 115.8 166.7 114.7 169.2 116.2 169.1 115.7 168.9 115.2 170 115.7 170 115.3 171 115.7 167.7 112.6 170.4 114.4 170.6 114.2 171.2 114.3 167.5 110.7 170.8 113.1 170.8 112.7 171.4 112.8 170.7 111.8 170.5 111.2 170.5 110.8 169.7 109.6 170.7 110.1 171.3 110.2 170.1 108.7 170.8 108.9 171.2 108.8 170.9 108.1 170.8 107.6 171.2 107.5 171 106.9 171.7 107.1 171 106 171.5 106 171.9 105.9 171.8 105.4 171.5 104.7 171.5 104.2 171.4 103.6 170.9 102.7 172.2 103.5 172.7 103.6 172.3 102.7 172.1 102 172.3 101.7 171.4 100.3 172.9 101.5 172.4 100.4 172.9 100.4 172.8 99.8L181.7 109.2A103 103 0 0 0 165.9 128.5Z" fill="#c9def2"/><path d="M154.6 121.3 155.8 121.7 156.6 121.8 156.9 121.6 155.2 120.1 153.8 118.8 157.9 121 157.4 120.3 159.1 121.1 157.2 119.4 159.7 120.7 159.4 120.1 160 120.1 160.4 119.9 160.9 119.9 160.6 119.3 157.8 117 162.1 119.6 161.4 118.7 162.1 118.8 162.8 118.9 163.5 119 163.3 118.4 164.6 119 164.1 118.3 164.7 118.3 164.8 118 165.7 118.3 165.2 117.5 162.9 115.4 166 117.3 166.1 117 167 117.3 167.2 117 166.7 116.3 166.8 116 167 115.7 167.6 115.8 166.7 114.7 169.2 116.2 169.1 115.7 168.9 115.2 170 115.7 170 115.3 171 115.7 167.7 112.6 170.4 114.4 170.6 114.2 171.2 114.3 167.5 110.7 170.8 113.1 170.8 112.7 171.4 112.8 170.7 111.8 170.5 111.2 170.5 110.8 169.7 109.6 170.7 110.1 171.3 110.2 170.1 108.7 170.8 108.9 171.2 108.8 170.9 108.1 170.8 107.6 171.2 107.5 171 106.9 171.7 107.1 171 106 171.5 106 171.9 105.9 171.8 105.4 171.5 104.7 171.5 104.2 171.4 103.6 170.9 102.7 172.2 103.5 172.7 103.6 172.3 102.7 172.1 102 172.3 101.7 171.4 100.3 172.9 101.5 172.4 100.4 172.9 100.4 172.8 99.8" fill="none" stroke="#86b6e2" stroke-width="0.45"/><path d="M176 100.1 175.9 99.5 176.6 99.7 176.9 99.5 177.5 99.7 177.4 99.1 175.2 96.2 178.6 99.5 176.5 96.6 179.3 99.4 179.5 99.1 179.3 98.3 178.1 96.4 180.5 98.7 181.6 99.5 179.4 96.4 181.9 98.9 180 96.1 180.8 96.6 183.8 99.7 184 99.4 181.4 95.8 183.8 98.2 183.8 97.7 182.3 95.2 185.1 98.2 185.4 98.1 185.2 97.4 184 95.3 186.4 97.9 187.4 98.7 187.1 97.8 187.1 97.3 187.7 97.5 187.2 96.4 187.8 96.6 186.8 94.7 187.9 95.6 187.5 94.6 188.3 95.1 188.2 94.5 188.4 94.3 188.5 93.8 189.1 94.2 189.2 93.6 189.2 93.1 188.7 91.8 189.4 92.3 189.9 92.5 189.8 91.7 190.2 91.8 189.3 89.8 189.3 89.3 190.5 90.5 190.6 90 190.5 89.3 191 89.4 191.3 89.3 191.3 88.7 192.1 89.3 192.1 88.8 192.2 88.3 191.9 87.2 192.4 87.4 192.9 87.6 193.1 87.2 192.7 85.9 192.6 85.2 192.7 84.7 192 83 193.3 84.5 193.6 84.3 194.1 84.4 194.2 84 194.8 84.3L200.9 94.7A103 103 0 0 0 183.1 107.8Z" fill="#c9def2"/><path d="M176 100.1 175.9 99.5 176.6 99.7 176.9 99.5 177.5 99.7 177.4 99.1 175.2 96.2 178.6 99.5 176.5 96.6 179.3 99.4 179.5 99.1 179.3 98.3 178.1 96.4 180.5 98.7 181.6 99.5 179.4 96.4 181.9 98.9 180 96.1 180.8 96.6 183.8 99.7 184 99.4 181.4 95.8 183.8 98.2 183.8 97.7 182.3 95.2 185.1 98.2 185.4 98.1 185.2 97.4 184 95.3 186.4 97.9 187.4 98.7 187.1 97.8 187.1 97.3 187.7 97.5 187.2 96.4 187.8 96.6 186.8 94.7 187.9 95.6 187.5 94.6 188.3 95.1 188.2 94.5 188.4 94.3 188.5 93.8 189.1 94.2 189.2 93.6 189.2 93.1 188.7 91.8 189.4 92.3 189.9 92.5 189.8 91.7 190.2 91.8 189.3 89.8 189.3 89.3 190.5 90.5 190.6 90 190.5 89.3 191 89.4 191.3 89.3 191.3 88.7 192.1 89.3 192.1 88.8 192.2 88.3 191.9 87.2 192.4 87.4 192.9 87.6 193.1 87.2 192.7 85.9 192.6 85.2 192.7 84.7 192 83 193.3 84.5 193.6 84.3 194.1 84.4 194.2 84 194.8 84.3" fill="none" stroke="#86b6e2" stroke-width="0.45"/><path d="M196.4 83.8 196.3 83.1 196.8 83.2 196.7 82.3 197.4 82.9 196 79.7 197.9 82.4 196.6 79.4 197.3 80 198.1 80.8 199.4 82.5 199.8 82.6 199.9 82 200.8 83.1 200.5 81.6 201.4 82.8 201.9 83.1 202.1 82.8 201.5 80.9 203 83 203.4 83.2 201.8 79.1 203.5 81.8 204.7 83.5 203.2 79.7 205.3 83.3 206 84.1 206.3 84 206.1 82.9 206.4 82.8 206.2 81.4 207.5 83.7 207.8 83.5 208.5 84.4 208.6 83.6 209.2 84.2 209.3 83.8 209.7 84 210.5 85.1 210.5 84.1 211.2 85 211.6 85.2 211.6 84.4 211.8 84 211.9 83.5 211.9 82.7 212.4 83.1 211.8 80.8 212.6 81.9 212.7 81.2 213.3 82 213.7 82 213.9 81.6 213.8 80.7 213.7 79.5 214.6 81 214.2 78.8 214.7 79.3 214.9 79.1 215.1 78.7 215.6 79.1 216 79.4 216 78.4 216.3 78 215.6 75.2 217 78.1 217 77.1 216.9 76 217.5 76.6 217.3 75.1 217.7 75.3 217.9 74.7 218.4 75.3 218.7 75 218.9 74.7 219.3 74.8 219.4 74 219.9 74.7L223.1 84.9A103 103 0 0 0 202.1 93.9Z" fill="#c9def2"/><path d="M196.4 83.8 196.3 83.1 196.8 83.2 196.7 82.3 197.4 82.9 196 79.7 197.9 82.4 196.6 79.4 197.3 80 198.1 80.8 199.4 82.5 199.8 82.6 199.9 82 200.8 83.1 200.5 81.6 201.4 82.8 201.9 83.1 202.1 82.8 201.5 80.9 203 83 203.4 83.2 201.8 79.1 203.5 81.8 204.7 83.5 203.2 79.7 205.3 83.3 206 84.1 206.3 84 206.1 82.9 206.4 82.8 206.2 81.4 207.5 83.7 207.8 83.5 208.5 84.4 208.6 83.6 209.2 84.2 209.3 83.8 209.7 84 210.5 85.1 210.5 84.1 211.2 85 211.6 85.2 211.6 84.4 211.8 84 211.9 83.5 211.9 82.7 212.4 83.1 211.8 80.8 212.6 81.9 212.7 81.2 213.3 82 213.7 82 213.9 81.6 213.8 80.7 213.7 79.5 214.6 81 214.2 78.8 214.7 79.3 214.9 79.1 215.1 78.7 215.6 79.1 216 79.4 216 78.4 216.3 78 215.6 75.2 217 78.1 217 77.1 216.9 76 217.5 76.6 217.3 75.1 217.7 75.3 217.9 74.7 218.4 75.3 218.7 75 218.9 74.7 219.3 74.8 219.4 74 219.9 74.7" fill="none" stroke="#86b6e2" stroke-width="0.45"/><path d="M221.7 72.2 222.3 73 222.1 71 222 69.5 223.7 74.5 224.1 74.6 224.1 73.4 224.7 74.6 225 74.4 225.1 73.5 225.8 74.7 225.1 70.6 225.9 72.7 226.7 74.5 226.3 71.5 227.3 74.1 227.7 74.5 228.3 75.7 228.6 75.5 228 71.2 229.3 75.8 228.8 71.8 230.1 76.2 229.8 73.6 230.8 76.9 231 76.3 231.4 76.7 231.7 76.6 232.1 76.9 232.4 76.7 232.7 76.5 233.1 77.2 233.4 76.8 233.7 77 234.1 77.5 234.6 78.2 234.8 77.9 235 77.2 234.8 74 235.7 77.4 235.4 73.4 236 75.5 236.3 75.5 236.7 75.9 237 75.9 237.3 75.6 237.5 74.5 237.8 74.4 238.2 74.9 238.3 73.9 238.6 73.1 238.4 69.4 239.2 73 239.5 72.6 239.4 69.6 240.1 72.6 240.4 72 240.6 71.6 241.1 72.5 241.3 71.4 241.4 69.2 242 71.9 242.3 71.5 242.5 70.8 242.9 71.5 243 68.8 243.4 69.7 243.8 69.9 244 69.1 244.3 68.6 244.8 70 245 68.9 245.3 68.2 245.6 68.2 246 68.1 246.3 68.3 246.5 66.8 247 68.6L247.6 80.6A103 103 0 0 0 225.1 84.3Z" fill="#c9def2"/><path d="M221.7 72.2 222.3 73 222.1 71 222 69.5 223.7 74.5 224.1 74.6 224.1 73.4 224.7 74.6 225 74.4 225.1 73.5 225.8 74.7 225.1 70.6 225.9 72.7 226.7 74.5 226.3 71.5 227.3 74.1 227.7 74.5 228.3 75.7 228.6 75.5 228 71.2 229.3 75.8 228.8 71.8 230.1 76.2 229.8 73.6 230.8 76.9 231 76.3 231.4 76.7 231.7 76.6 232.1 76.9 232.4 76.7 232.7 76.5 233.1 77.2 233.4 76.8 233.7 77 234.1 77.5 234.6 78.2 234.8 77.9 235 77.2 234.8 74 235.7 77.4 235.4 73.4 236 75.5 236.3 75.5 236.7 75.9 237 75.9 237.3 75.6 237.5 74.5 237.8 74.4 238.2 74.9 238.3 73.9 238.6 73.1 238.4 69.4 239.2 73 239.5 72.6 239.4 69.6 240.1 72.6 240.4 72 240.6 71.6 241.1 72.5 241.3 71.4 241.4 69.2 242 71.9 242.3 71.5 242.5 70.8 242.9 71.5 243 68.8 243.4 69.7 243.8 69.9 244 69.1 244.3 68.6 244.8 70 245 68.9 245.3 68.2 245.6 68.2 246 68.1 246.3 68.3 246.5 66.8 247 68.6" fill="none" stroke="#86b6e2" stroke-width="0.45"/><path d="M256.8 88.8 257 90.5 257.2 91.3 257.6 90.2 257.8 90.8 258 91.2 258.3 91.3 258.7 89.1 258.8 92.1 259.1 91.4 259.4 91.2 259.6 92.5 259.8 92.3 260.2 90.8 260.4 92.1 260.5 93.5 260.9 92.5 261.1 92.8 261.5 91.4 261.7 92.9 261.9 92.7 262.1 93.9 262.5 92.9 262.7 92.9 262.9 93.4 263.1 93.8 263.4 93.8 263.7 93.3 264.3 90.8 264.2 94.1 264.5 93.3 264.8 93.6 265 93.5 265.2 94.3 265.5 93.8 265.7 94.3 266 94.3 266.3 94.1 266.8 92.2 266.9 93.8 267.1 93.7 267.4 93.8 267.5 94.7 267.8 94.4 268.2 93.8 268.5 93.7 269 92.2 269 94 269.5 92.6 269.6 93.4 269.9 93.3 270.1 93.7 270.3 94 270.5 94.4 271.1 92.7 271 94.3 271.3 94.2 271.8 93.2 271.8 94.5 272.2 94.1 272.8 92.4 273.4 91.1 273.1 93.6 273.6 92.5 273.8 93.1 274.2 92.4 274.3 93.3 274.8 92.1 274.7 93.7L272.8 101.9A84 84 0 0 0 256.4 99.6Z" fill="#f9cba3"/><path d="M256.8 88.8 257 90.5 257.2 91.3 257.6 90.2 257.8 90.8 258 91.2 258.3 91.3 258.7 89.1 258.8 92.1 259.1 91.4 259.4 91.2 259.6 92.5 259.8 92.3 260.2 90.8 260.4 92.1 260.5 93.5 260.9 92.5 261.1 92.8 261.5 91.4 261.7 92.9 261.9 92.7 262.1 93.9 262.5 92.9 262.7 92.9 262.9 93.4 263.1 93.8 263.4 93.8 263.7 93.3 264.3 90.8 264.2 94.1 264.5 93.3 264.8 93.6 265 93.5 265.2 94.3 265.5 93.8 265.7 94.3 266 94.3 266.3 94.1 266.8 92.2 266.9 93.8 267.1 93.7 267.4 93.8 267.5 94.7 267.8 94.4 268.2 93.8 268.5 93.7 269 92.2 269 94 269.5 92.6 269.6 93.4 269.9 93.3 270.1 93.7 270.3 94 270.5 94.4 271.1 92.7 271 94.3 271.3 94.2 271.8 93.2 271.8 94.5 272.2 94.1 272.8 92.4 273.4 91.1 273.1 93.6 273.6 92.5 273.8 93.1 274.2 92.4 274.3 93.3 274.8 92.1 274.7 93.7" fill="none" stroke="#f0a060" stroke-width="0.45"/><path d="M276.1 92.8 276.3 93.2 276.5 93.5 276.7 93.9 276.9 93.9 277.2 93.9 277.4 94.3 277.6 94.5 277.6 95.4 277.9 95.4 278.2 95.4 278.3 95.8 278.5 96 278.8 96.3 279.1 96.1 279.3 96.2 279.7 95.8 279.9 96 280.3 95.8 280.4 96.3 281.3 94.4 280.8 96.7 280.9 97.3 281.8 95.3 281.7 96.5 281.9 96.8 281.9 97.8 282.2 97.4 282.3 98.1 283.1 96.4 283 97.7 283 98.4 283.4 98 283.6 98.4 284.4 96.9 283.9 98.9 284.6 97.8 284.4 99.2 285 98.3 284.9 99.3 285.1 99.5 285.7 98.8 286.5 97.2 286.2 98.7 286.3 99.2 286.9 98.5 286.9 99.1 287 99.5 287.3 99.5 287.6 99.6 288.2 98.9 288.1 99.8 288.4 99.8 288.7 99.6 289.6 98.2 289.3 99.6 289.6 99.6 289.4 100.7 289.7 100.5 290 100.7 291.2 98.6 290.8 100 291.4 99.5 291.6 99.7 291.7 100.1 292.1 99.7 292.2 100.2 292.8 99.6 293 99.8 293.3 99.8L289.4 107.8A84 84 0 0 0 273.7 102.1Z" fill="#f9cba3"/><path d="M276.1 92.8 276.3 93.2 276.5 93.5 276.7 93.9 276.9 93.9 277.2 93.9 277.4 94.3 277.6 94.5 277.6 95.4 277.9 95.4 278.2 95.4 278.3 95.8 278.5 96 278.8 96.3 279.1 96.1 279.3 96.2 279.7 95.8 279.9 96 280.3 95.8 280.4 96.3 281.3 94.4 280.8 96.7 280.9 97.3 281.8 95.3 281.7 96.5 281.9 96.8 281.9 97.8 282.2 97.4 282.3 98.1 283.1 96.4 283 97.7 283 98.4 283.4 98 283.6 98.4 284.4 96.9 283.9 98.9 284.6 97.8 284.4 99.2 285 98.3 284.9 99.3 285.1 99.5 285.7 98.8 286.5 97.2 286.2 98.7 286.3 99.2 286.9 98.5 286.9 99.1 287 99.5 287.3 99.5 287.6 99.6 288.2 98.9 288.1 99.8 288.4 99.8 288.7 99.6 289.6 98.2 289.3 99.6 289.6 99.6 289.4 100.7 289.7 100.5 290 100.7 291.2 98.6 290.8 100 291.4 99.5 291.6 99.7 291.7 100.1 292.1 99.7 292.2 100.2 292.8 99.6 293 99.8 293.3 99.8" fill="none" stroke="#f0a060" stroke-width="0.45"/><path d="M294.6 101.1 294.7 101.6 295.1 101.3 295.6 100.9 296.2 100.4 295.9 101.5 296.2 101.5 296.4 101.8 296.2 102.7 296.2 103.2 296.6 103.1 296.3 104 296.5 104.3 296.8 104.3 298.2 102.4 297.4 104.3 297.9 104 297.4 105.3 297.9 105 298.3 104.9 298.2 105.5 298.6 105.3 298.9 105.3 299 105.6 300.1 104.4 299.5 105.8 300 105.6 300.5 105.3 300.1 106.3 300.4 106.4 300.6 106.6 301.3 105.9 301.4 106.3 301.6 106.4 301.3 107.4 302.6 105.9 302.4 106.7 302.5 106.9 302.8 106.9 302.5 108 303.3 107.3 303.4 107.6 304 107.1 304 107.6 304.4 107.5 304.3 108 304.6 108.1 305 108 305.2 108.2 305.3 108.4 306.4 107.4 305.7 108.8 307.1 107.4 307.8 106.7 307.4 107.8 307.5 108.1 307.7 108.3 309.1 106.8L302.6 115.7A84 84 0 0 0 290.9 108.5Z" fill="#f9cba3"/><path d="M294.6 101.1 294.7 101.6 295.1 101.3 295.6 100.9 296.2 100.4 295.9 101.5 296.2 101.5 296.4 101.8 296.2 102.7 296.2 103.2 296.6 103.1 296.3 104 296.5 104.3 296.8 104.3 298.2 102.4 297.4 104.3 297.9 104 297.4 105.3 297.9 105 298.3 104.9 298.2 105.5 298.6 105.3 298.9 105.3 299 105.6 300.1 104.4 299.5 105.8 300 105.6 300.5 105.3 300.1 106.3 300.4 106.4 300.6 106.6 301.3 105.9 301.4 106.3 301.6 106.4 301.3 107.4 302.6 105.9 302.4 106.7 302.5 106.9 302.8 106.9 302.5 108 303.3 107.3 303.4 107.6 304 107.1 304 107.6 304.4 107.5 304.3 108 304.6 108.1 305 108 305.2 108.2 305.3 108.4 306.4 107.4 305.7 108.8 307.1 107.4 307.8 106.7 307.4 107.8 307.5 108.1 307.7 108.3 309.1 106.8" fill="none" stroke="#f0a060" stroke-width="0.45"/><path d="M309.6 109.3 309.2 110.2 310 109.6 309.9 110.2 310.1 110.4 309.9 110.9 311 110 311.2 110.2 310.5 111.6 310.8 111.5 310.9 111.9 310.9 112.2 311.4 112.1 311.4 112.5 311.4 112.9 311 113.8 311.4 113.8 313.5 111.6 312.2 113.6 312 114.2 312.3 114.3 311.9 115.2 312.1 115.3 312.7 115 313 115.1 312.7 115.8 312.5 116.5 312.9 116.4 313.1 116.6 313.2 116.8 314 116.4 315.2 115.4 313.8 117.3 314.3 117.2 314.7 117.1 315.8 116.3 314.6 117.9 317 115.8 315.8 117.5 315.8 117.9 316 118 316.2 118.2 316 118.8 316.7 118.5 317.3 118.2 317 118.8 317.4 118.9 317.4 119.2 317.5 119.5 319.4 118 318.2 119.5 319.7 118.4 319.3 119.2 319.1 119.7 320.1 119.2L313.6 125.4A84 84 0 0 0 303.9 116.7Z" fill="#f9cba3"/><path d="M309.6 109.3 309.2 110.2 310 109.6 309.9 110.2 310.1 110.4 309.9 110.9 311 110 311.2 110.2 310.5 111.6 310.8 111.5 310.9 111.9 310.9 112.2 311.4 112.1 311.4 112.5 311.4 112.9 311 113.8 311.4 113.8 313.5 111.6 312.2 113.6 312 114.2 312.3 114.3 311.9 115.2 312.1 115.3 312.7 115 313 115.1 312.7 115.8 312.5 116.5 312.9 116.4 313.1 116.6 313.2 116.8 314 116.4 315.2 115.4 313.8 117.3 314.3 117.2 314.7 117.1 315.8 116.3 314.6 117.9 317 115.8 315.8 117.5 315.8 117.9 316 118 316.2 118.2 316 118.8 316.7 118.5 317.3 118.2 317 118.8 317.4 118.9 317.4 119.2 317.5 119.5 319.4 118 318.2 119.5 319.7 118.4 319.3 119.2 319.1 119.7 320.1 119.2" fill="none" stroke="#f0a060" stroke-width="0.45"/><path d="M324.4 120.8 324.4 121.1 322.7 122.9 323.4 122.7 323.7 122.8 323 123.8 323.5 123.7 324.1 123.6 323.9 124.1 323.7 124.6 324.1 124.6 324.4 124.7 325.4 124.2 324.6 125.2 324.1 125.9 325.5 125.2 324.5 126.3 324.7 126.5 325.5 126.2 325.1 126.8 324.7 127.5 325.7 127.1 325.6 127.5 325.2 128.2 328 126.4 325.7 128.4 325.8 128.7 325.5 129.2 325.7 129.4 326 129.5 326.1 129.8 327.9 128.8 326.2 130.3 326.7 130.3 327.5 130.1 326.9 130.8 327.2 130.9 326.8 131.5 327.3 131.4 328 131.3 329.5 130.6 327.3 132.4 328.1 132.2 329.4 131.6 330 131.5 328.5 132.9 328 133.5 328.3 133.6 329.6 133.1 329 133.8 329.5 133.8 329.2 134.3 329.8 134.2 331.5 133.5 329.8 134.8 329.6 135.3 330.5 135 329.8 135.8 332.7 134.3 330.2 136.2 330.3 136.4 330.4 136.6 331.2 136.5 331.2 136.8 332.5 136.3 331.5 137.2 331.9 137.3 332.2 137.4 332.3 137.7 332.2 138.1 332.4 138.2 332.3 138.6 332.5 138.8 332.9 138.9 332.9 139.1 332.9 139.5 333.4 139.5 333.5 139.7 335.6 138.9 333.8 140.2 336.8 138.9 334.3 140.5 336.1 139.8L327.4 144.5A84 84 0 0 0 316.1 128.1Z" fill="#f9cba3"/><path d="M324.4 120.8 324.4 121.1 322.7 122.9 323.4 122.7 323.7 122.8 323 123.8 323.5 123.7 324.1 123.6 323.9 124.1 323.7 124.6 324.1 124.6 324.4 124.7 325.4 124.2 324.6 125.2 324.1 125.9 325.5 125.2 324.5 126.3 324.7 126.5 325.5 126.2 325.1 126.8 324.7 127.5 325.7 127.1 325.6 127.5 325.2 128.2 328 126.4 325.7 128.4 325.8 128.7 325.5 129.2 325.7 129.4 326 129.5 326.1 129.8 327.9 128.8 326.2 130.3 326.7 130.3 327.5 130.1 326.9 130.8 327.2 130.9 326.8 131.5 327.3 131.4 328 131.3 329.5 130.6 327.3 132.4 328.1 132.2 329.4 131.6 330 131.5 328.5 132.9 328 133.5 328.3 133.6 329.6 133.1 329 133.8 329.5 133.8 329.2 134.3 329.8 134.2 331.5 133.5 329.8 134.8 329.6 135.3 330.5 135 329.8 135.8 332.7 134.3 330.2 136.2 330.3 136.4 330.4 136.6 331.2 136.5 331.2 136.8 332.5 136.3 331.5 137.2 331.9 137.3 332.2 137.4 332.3 137.7 332.2 138.1 332.4 138.2 332.3 138.6 332.5 138.8 332.9 138.9 332.9 139.1 332.9 139.5 333.4 139.5 333.5 139.7 335.6 138.9 333.8 140.2 336.8 138.9 334.3 140.5 336.1 139.8" fill="none" stroke="#f0a060" stroke-width="0.45"/><path d="M337.2 141.3 336 142.2 335.7 142.7 335.8 142.9 336.1 143.1 335.9 143.5 336.4 143.5 336.6 143.7 336 144.3 336.5 144.3 336.5 144.7 337.9 144.3 337.6 144.7 337.9 144.9 337.1 145.5 336.3 146.2 338.9 145.3 337.3 146.3 336.4 147 336.9 147.1 337.8 146.9 336.7 147.7 336.8 147.9 336.9 148.2 337.1 148.4 339.5 147.7 337 149 337.5 149.1 337.4 149.4 337 149.8 337.2 150 338.5 149.8 337 150.7 337.4 150.8 337.2 151.2 337.6 151.3 337.6 151.6 340.3 150.8 338.1 152 338.4 152.1 339 152.2 339.6 152.2 338.8 152.8 339.9 152.7 339.4 153.1 339.1 153.5 338.4 154.1 338.3 154.4 338.7 154.5 338.9 154.7 339.1 154.9 338.7 155.3 340.5 155 339.2 155.7 338.9 156.1 339.6 156.1 341.8 155.7 339.8 156.6 340.8 156.6 342.9 156.2 343.6 156.3 341.2 157.3 341.2 157.5 341 157.9 343.9 157.3 342.1 158.1 343.4 158 340.7 159 340.9 159.3 341.4 159.4 341.2 159.7 342.1 159.8 341.4 160.2 341.8 160.4 344.8 159.9 341.8 160.9 342.8 161 342.4 161.3 343.1 161.4 342.9 161.7L334.6 163.7A84 84 0 0 0 328.1 145.9Z" fill="#f9cba3"/><path d="M337.2 141.3 336 142.2 335.7 142.7 335.8 142.9 336.1 143.1 335.9 143.5 336.4 143.5 336.6 143.7 336 144.3 336.5 144.3 336.5 144.7 337.9 144.3 337.6 144.7 337.9 144.9 337.1 145.5 336.3 146.2 338.9 145.3 337.3 146.3 336.4 147 336.9 147.1 337.8 146.9 336.7 147.7 336.8 147.9 336.9 148.2 337.1 148.4 339.5 147.7 337 149 337.5 149.1 337.4 149.4 337 149.8 337.2 150 338.5 149.8 337 150.7 337.4 150.8 337.2 151.2 337.6 151.3 337.6 151.6 340.3 150.8 338.1 152 338.4 152.1 339 152.2 339.6 152.2 338.8 152.8 339.9 152.7 339.4 153.1 339.1 153.5 338.4 154.1 338.3 154.4 338.7 154.5 338.9 154.7 339.1 154.9 338.7 155.3 340.5 155 339.2 155.7 338.9 156.1 339.6 156.1 341.8 155.7 339.8 156.6 340.8 156.6 342.9 156.2 343.6 156.3 341.2 157.3 341.2 157.5 341 157.9 343.9 157.3 342.1 158.1 343.4 158 340.7 159 340.9 159.3 341.4 159.4 341.2 159.7 342.1 159.8 341.4 160.2 341.8 160.4 344.8 159.9 341.8 160.9 342.8 161 342.4 161.3 343.1 161.4 342.9 161.7" fill="none" stroke="#f0a060" stroke-width="0.45"/><path d="M344.3 163.4 344 163.8 343.5 164.1 344.1 164.3 343.7 164.7 344.1 164.8 343.4 165.2 344.3 165.3 344.9 165.5 344.1 165.9 345.9 165.9 343.8 166.5 344.8 166.6 343 167.2 342.9 167.5 343.9 167.6 342.6 168.1 345 167.9 343.8 168.4 343.2 168.8 346.4 168.5 343.5 169.3 344.7 169.3 343.5 169.8 343.1 170.1 342.8 170.4 343.6 170.6 343.4 170.9 343.1 171.2 343.3 171.4 342.7 171.8 342.9 172 345.6 171.9 342.7 172.6 342.2 172.9 343 173 343.2 173.3 343.6 173.5 343 173.8 343 174.1 342.4 174.4 343.5 174.6 342.5 174.9 343 175.1 342.6 175.4 342.4 175.7 342.2 176 343 176.2 343.4 176.4 342.9 176.7 344.9 176.8 343.7 177.2 343.2 177.5 343.6 177.7 343.3 178 343.3 178.2 344.6 178.4 343.8 178.7 344.2 179 343.8 179.3 344.2 179.5 346.6 179.7 344.4 180 343.6 180.3 343.6 180.6 346.4 180.8 345.9 181 344.9 181.3 344.1 181.6 344 181.9 345.2 182.1 344.8 182.4 345.2 182.6 344.6 182.9 344.5 183.2L337 183.2A84 84 0 0 0 335 165.5Z" fill="#f9cba3"/><path d="M344.3 163.4 344 163.8 343.5 164.1 344.1 164.3 343.7 164.7 344.1 164.8 343.4 165.2 344.3 165.3 344.9 165.5 344.1 165.9 345.9 165.9 343.8 166.5 344.8 166.6 343 167.2 342.9 167.5 343.9 167.6 342.6 168.1 345 167.9 343.8 168.4 343.2 168.8 346.4 168.5 343.5 169.3 344.7 169.3 343.5 169.8 343.1 170.1 342.8 170.4 343.6 170.6 343.4 170.9 343.1 171.2 343.3 171.4 342.7 171.8 342.9 172 345.6 171.9 342.7 172.6 342.2 172.9 343 173 343.2 173.3 343.6 173.5 343 173.8 343 174.1 342.4 174.4 343.5 174.6 342.5 174.9 343 175.1 342.6 175.4 342.4 175.7 342.2 176 343 176.2 343.4 176.4 342.9 176.7 344.9 176.8 343.7 177.2 343.2 177.5 343.6 177.7 343.3 178 343.3 178.2 344.6 178.4 343.8 178.7 344.2 179 343.8 179.3 344.2 179.5 346.6 179.7 344.4 180 343.6 180.3 343.6 180.6 346.4 180.8 345.9 181 344.9 181.3 344.1 181.6 344 181.9 345.2 182.1 344.8 182.4 345.2 182.6 344.6 182.9 344.5 183.2" fill="none" stroke="#f0a060" stroke-width="0.45"/><path d="M346.5 185.1 346.9 185.4 347.2 185.7 346.2 185.9 345.8 186.2 345.3 186.4 345.3 186.7 345 187 346.5 187.3 345 187.5 344.5 187.7 344.8 188 344.7 188.3 345.2 188.6 344.6 188.8 345.8 189.1 346.2 189.4 343.6 189.5 344.6 189.9 344.7 190.1 343.3 190.3 344.9 190.7 343.2 190.8 343.9 191.1 343.6 191.4 344 191.7 343.6 191.9 344 192.2 345.5 192.6 343 192.6 343.1 192.9 343.4 193.2 343.5 193.5 342.7 193.6 344.6 194.1 344.4 194.4 345 194.7 342.1 194.6 342 194.9 344.3 195.4 343.7 195.6 342.6 195.7 342.7 196 343 196.3 342.1 196.5 343.6 197 344.1 197.3 341.7 197.2 342.9 197.6 343 197.9 341.9 198 342.1 198.3 343 198.7 342.8 199 342.6 199.2 342.1 199.4 342.4 199.7 342.8 200 342.1 200.2 341.8 200.4 342.9 200.9 342.8 201.1 342 201.2 344.8 202 343 202 342.2 202 344.7 202.8 342.8 202.7 342.5 202.9 345 203.7 342.6 203.5 342.8 203.8 342.2 203.9 342.9 204.4 343.7 204.8 343.1 205L334.7 203A84 84 0 0 0 337 185Z" fill="#f9cba3"/><path d="M346.5 185.1 346.9 185.4 347.2 185.7 346.2 185.9 345.8 186.2 345.3 186.4 345.3 186.7 345 187 346.5 187.3 345 187.5 344.5 187.7 344.8 188 344.7 188.3 345.2 188.6 344.6 188.8 345.8 189.1 346.2 189.4 343.6 189.5 344.6 189.9 344.7 190.1 343.3 190.3 344.9 190.7 343.2 190.8 343.9 191.1 343.6 191.4 344 191.7 343.6 191.9 344 192.2 345.5 192.6 343 192.6 343.1 192.9 343.4 193.2 343.5 193.5 342.7 193.6 344.6 194.1 344.4 194.4 345 194.7 342.1 194.6 342 194.9 344.3 195.4 343.7 195.6 342.6 195.7 342.7 196 343 196.3 342.1 196.5 343.6 197 344.1 197.3 341.7 197.2 342.9 197.6 343 197.9 341.9 198 342.1 198.3 343 198.7 342.8 199 342.6 199.2 342.1 199.4 342.4 199.7 342.8 200 342.1 200.2 341.8 200.4 342.9 200.9 342.8 201.1 342 201.2 344.8 202 343 202 342.2 202 344.7 202.8 342.8 202.7 342.5 202.9 345 203.7 342.6 203.5 342.8 203.8 342.2 203.9 342.9 204.4 343.7 204.8 343.1 205" fill="none" stroke="#f0a060" stroke-width="0.45"/><path d="M341.9 209.7 341.7 209.9 341.7 210.2 341.1 210.3 341.6 210.7 341 210.8 342.7 211.6 342.7 211.9 339.9 211.3 339.8 211.5 340.1 211.9 340.9 212.4 339.8 212.4 341.4 213.2 339.1 212.7 339.2 213 339.7 213.4 339.4 213.6 339.6 214 339.2 214.1 339 214.3 338.1 214.3 338.2 214.6 337.5 214.6 338.5 215.2 337.4 215.1 337.3 215.4 340.4 216.8 338.3 216.3 337.8 216.4 337.1 216.4 337 216.6 339.2 217.8 338 217.6 336.8 217.4 336.3 217.5 336.9 218 336.8 218.2 337 218.6 337.6 219.2 337.6 219.4 336.7 219.3 336.3 219.4 336 219.6 336.7 220.2 336.1 220.2 336.1 220.5 336.1 220.8 335.3 220.7 335.6 221.1 336.4 221.8 337.5 222.6 335.7 222 338.5 223.7 335.8 222.7 335.9 223 335.4 223.1 334.4 222.9 334.9 223.4 334.7 223.6 335 224.1 336.3 225 335.5 224.9 335.1 225 335.3 225.4 335 225.6 334.9 225.8 336.6 227 335.1 226.5 334.8 226.6 336.9 228.1 334.4 227 334.9 227.6 334.3 227.6 334.1 227.8 333.3 227.6L326.6 224A84 84 0 0 0 333.6 207.2Z" fill="#f9cba3"/><path d="M341.9 209.7 341.7 209.9 341.7 210.2 341.1 210.3 341.6 210.7 341 210.8 342.7 211.6 342.7 211.9 339.9 211.3 339.8 211.5 340.1 211.9 340.9 212.4 339.8 212.4 341.4 213.2 339.1 212.7 339.2 213 339.7 213.4 339.4 213.6 339.6 214 339.2 214.1 339 214.3 338.1 214.3 338.2 214.6 337.5 214.6 338.5 215.2 337.4 215.1 337.3 215.4 340.4 216.8 338.3 216.3 337.8 216.4 337.1 216.4 337 216.6 339.2 217.8 338 217.6 336.8 217.4 336.3 217.5 336.9 218 336.8 218.2 337 218.6 337.6 219.2 337.6 219.4 336.7 219.3 336.3 219.4 336 219.6 336.7 220.2 336.1 220.2 336.1 220.5 336.1 220.8 335.3 220.7 335.6 221.1 336.4 221.8 337.5 222.6 335.7 222 338.5 223.7 335.8 222.7 335.9 223 335.4 223.1 334.4 222.9 334.9 223.4 334.7 223.6 335 224.1 336.3 225 335.5 224.9 335.1 225 335.3 225.4 335 225.6 334.9 225.8 336.6 227 335.1 226.5 334.8 226.6 336.9 228.1 334.4 227 334.9 227.6 334.3 227.6 334.1 227.8 333.3 227.6" fill="none" stroke="#f0a060" stroke-width="0.45"/><path d="M332.7 230.2 331.9 230.1 332.5 230.8 332.2 230.9 331.7 230.9 331.3 231 332.6 232.1 331.2 231.6 331.1 231.8 330.7 231.8 330.4 232 332.7 233.7 330.5 232.6 330.3 232.8 330.2 233.1 329.8 233.2 332 234.9 330.1 234 329.4 233.9 329.2 234.1 329.6 234.6 329 234.6 327.9 234.1 328.7 235 328.3 235 329 235.8 328.5 235.8 327.3 235.3 326.9 235.3 327.2 235.8 327.6 236.5 327.9 237 327.6 237.1 328.9 238.4 325.8 236.4 325.6 236.6 325.7 237.1 325.4 237.1 325.2 237.3 325 237.5 326.6 239.1 325.1 238.2 325.4 238.8 325.9 239.5 324.7 238.9 324.6 239.2 324.6 239.5 324.1 239.5 323.8 239.6 323.9 239.9 323.5 240 323.4 240.2 324.6 241.5 323.2 240.8 325.1 242.6 324.6 242.6 323.1 241.7 322.7 241.7 322.8 242.1 322.2 241.9 322.5 242.5 322.1 242.6 322.1 242.9 323.4 244.4 323 244.4 322.1 244 324.1 246 322.3 244.8 323.7 246.4 321.4 244.8 321.7 245.4 321.1 245.2 321.4 245.8 321.5 246.3 321 246.2 321.6 247.1 320.7 246.7L314.4 240.8A84 84 0 0 0 325.5 226Z" fill="#f9cba3"/><path d="M332.7 230.2 331.9 230.1 332.5 230.8 332.2 230.9 331.7 230.9 331.3 231 332.6 232.1 331.2 231.6 331.1 231.8 330.7 231.8 330.4 232 332.7 233.7 330.5 232.6 330.3 232.8 330.2 233.1 329.8 233.2 332 234.9 330.1 234 329.4 233.9 329.2 234.1 329.6 234.6 329 234.6 327.9 234.1 328.7 235 328.3 235 329 235.8 328.5 235.8 327.3 235.3 326.9 235.3 327.2 235.8 327.6 236.5 327.9 237 327.6 237.1 328.9 238.4 325.8 236.4 325.6 236.6 325.7 237.1 325.4 237.1 325.2 237.3 325 237.5 326.6 239.1 325.1 238.2 325.4 238.8 325.9 239.5 324.7 238.9 324.6 239.2 324.6 239.5 324.1 239.5 323.8 239.6 323.9 239.9 323.5 240 323.4 240.2 324.6 241.5 323.2 240.8 325.1 242.6 324.6 242.6 323.1 241.7 322.7 241.7 322.8 242.1 322.2 241.9 322.5 242.5 322.1 242.6 322.1 242.9 323.4 244.4 323 244.4 322.1 244 324.1 246 322.3 244.8 323.7 246.4 321.4 244.8 321.7 245.4 321.1 245.2 321.4 245.8 321.5 246.3 321 246.2 321.6 247.1 320.7 246.7" fill="none" stroke="#f0a060" stroke-width="0.45"/><path d="M319.9 248.1 319.8 248.4 318.9 247.9 319.1 248.4 320 249.7 318.2 248.3 318.8 249.3 317.3 248.2 317.1 248.4 317 248.6 316.5 248.4 316.7 249.1 316.6 249.3 315.6 248.7 316.3 249.8 316 249.8 316 250.2 315.7 250.3 314.9 249.9 314.8 250.2 315.2 251 316 252.2 314 250.4 313.8 250.6 313.9 251.1 313.7 251.3 313.4 251.3 313.6 251.9 315 254 313.1 252.2 312.8 252.2 313.2 253.1 312.4 252.6 312.4 253 313 254.1 311.6 252.9 311.5 253.2 311.2 253.2 312.4 255.1 312.6 255.8 310.6 253.7 310.5 254 310.6 254.6 309.6 253.8 309.8 254.4 309.1 254 309 254.2 309 254.7 309.8 256.2 308.8 255.3 308.3 255.1 308.3 255.5 308.6 256.3 308.1 256.1 308.4 256.9 308.2 257.1 309.4 259.2 307.7 257.3 309 259.5 307.3 257.7 306.9 257.7 307.1 258.3 306.8 258.4 306.8 258.9 306.7 259.1 306.7 259.6 306.5 259.8 307 260.9 306.1 260.2L300.8 252.6A84 84 0 0 0 313.4 241.9Z" fill="#f9cba3"/><path d="M319.9 248.1 319.8 248.4 318.9 247.9 319.1 248.4 320 249.7 318.2 248.3 318.8 249.3 317.3 248.2 317.1 248.4 317 248.6 316.5 248.4 316.7 249.1 316.6 249.3 315.6 248.7 316.3 249.8 316 249.8 316 250.2 315.7 250.3 314.9 249.9 314.8 250.2 315.2 251 316 252.2 314 250.4 313.8 250.6 313.9 251.1 313.7 251.3 313.4 251.3 313.6 251.9 315 254 313.1 252.2 312.8 252.2 313.2 253.1 312.4 252.6 312.4 253 313 254.1 311.6 252.9 311.5 253.2 311.2 253.2 312.4 255.1 312.6 255.8 310.6 253.7 310.5 254 310.6 254.6 309.6 253.8 309.8 254.4 309.1 254 309 254.2 309 254.7 309.8 256.2 308.8 255.3 308.3 255.1 308.3 255.5 308.6 256.3 308.1 256.1 308.4 256.9 308.2 257.1 309.4 259.2 307.7 257.3 309 259.5 307.3 257.7 306.9 257.7 307.1 258.3 306.8 258.4 306.8 258.9 306.7 259.1 306.7 259.6 306.5 259.8 307 260.9 306.1 260.2" fill="none" stroke="#f0a060" stroke-width="0.45"/><path d="M302.9 260.3 302.8 260.7 302.6 260.8 302.4 261 302.3 261.3 301.7 260.9 301.8 261.6 300.8 260.5 302.3 263.3 300.7 261.3 301 262.2 300.3 261.7 300.2 261.9 299.7 261.7 299.4 261.6 299.7 262.7 299.4 262.7 299 262.5 298.8 262.8 298.2 262.2 297.9 262.2 297.6 262.3 297.3 262.3 297.9 263.9 297 262.8 296.3 262 296.5 263 296.2 262.9 295.6 262.4 295.6 262.9 295.4 263.1 296.6 266 295.2 263.8 295 263.9 294.4 263.5 294.9 264.9 293.9 263.6 294.1 264.5 293.5 263.9 293.6 264.7 293.5 265.1 293.3 265.3 293.9 267 292.5 264.9 293.4 267.3 293 267.1 293.1 268 291.6 265.4 291.5 265.7 291.3 266 291 266 290.9 266.4 290.7 266.6 290.6 266.9 291 268.6 290.1 267.2 289.9 267.4 290.5 269.4 289.7 268.3 289.6 268.7 289.2 268.5 288.8 268.2 288.7 268.6 288.1 268 289.2 271.3 288.2 269.4 287.9 269.5 287.4 268.9 287.5 270 287.2 269.8 287.1 270.3 286.9 270.6 286.6 270.7L283.2 261.9A84 84 0 0 0 298.7 253.9Z" fill="#f9cba3"/><path d="M302.9 260.3 302.8 260.7 302.6 260.8 302.4 261 302.3 261.3 301.7 260.9 301.8 261.6 300.8 260.5 302.3 263.3 300.7 261.3 301 262.2 300.3 261.7 300.2 261.9 299.7 261.7 299.4 261.6 299.7 262.7 299.4 262.7 299 262.5 298.8 262.8 298.2 262.2 297.9 262.2 297.6 262.3 297.3 262.3 297.9 263.9 297 262.8 296.3 262 296.5 263 296.2 262.9 295.6 262.4 295.6 262.9 295.4 263.1 296.6 266 295.2 263.8 295 263.9 294.4 263.5 294.9 264.9 293.9 263.6 294.1 264.5 293.5 263.9 293.6 264.7 293.5 265.1 293.3 265.3 293.9 267 292.5 264.9 293.4 267.3 293 267.1 293.1 268 291.6 265.4 291.5 265.7 291.3 266 291 266 290.9 266.4 290.7 266.6 290.6 266.9 291 268.6 290.1 267.2 289.9 267.4 290.5 269.4 289.7 268.3 289.6 268.7 289.2 268.5 288.8 268.2 288.7 268.6 288.1 268 289.2 271.3 288.2 269.4 287.9 269.5 287.4 268.9 287.5 270 287.2 269.8 287.1 270.3 286.9 270.6 286.6 270.7" fill="none" stroke="#f0a060" stroke-width="0.45"/><path d="M282.1 270.6 282.2 271.5 281.8 271.4 281.5 271.3 281.2 271.1 281.1 271.7 281.2 272.9 280.7 272.1 280.2 271.4 279.6 270.4 279.5 271.1 279.2 270.9 279.7 273.4 279.1 272.3 278.5 271.4 278.2 271 278.1 271.9 277.5 270.5 277.8 272.7 276.9 270.5 277.3 272.9 276.8 272 276.9 273.6 276.1 271.5 275.8 271.3 275.5 271.3 275.3 271.4 275.1 271.8 275.4 274.1 274.4 271.3 274.3 271.9 274.2 272.3 273.8 271.9 273.6 272.2 273.3 272 273.2 272.7 273 272.9 272.7 272.9 272.8 274.8 271.9 271.8 271.7 272.3 271.3 271.6 271.6 274 271 272.5 270.9 273.2 270.6 273.4 270.3 273.1 270 272.9 269.7 272.9 269.5 273.2 269.4 274 269.1 273.9 269 274.6 268.7 274.8 268.6 275.8 268.2 274.6 268 274.9 268.1 277.3 267.6 276.3 267.2 275.2 267 275.5 266.6 274.7 266.3 275L265.1 266.6A84 84 0 0 0 279.7 263.2Z" fill="#f9cba3"/><path d="M282.1 270.6 282.2 271.5 281.8 271.4 281.5 271.3 281.2 271.1 281.1 271.7 281.2 272.9 280.7 272.1 280.2 271.4 279.6 270.4 279.5 271.1 279.2 270.9 279.7 273.4 279.1 272.3 278.5 271.4 278.2 271 278.1 271.9 277.5 270.5 277.8 272.7 276.9 270.5 277.3 272.9 276.8 272 276.9 273.6 276.1 271.5 275.8 271.3 275.5 271.3 275.3 271.4 275.1 271.8 275.4 274.1 274.4 271.3 274.3 271.9 274.2 272.3 273.8 271.9 273.6 272.2 273.3 272 273.2 272.7 273 272.9 272.7 272.9 272.8 274.8 271.9 271.8 271.7 272.3 271.3 271.6 271.6 274 271 272.5 270.9 273.2 270.6 273.4 270.3 273.1 270 272.9 269.7 272.9 269.5 273.2 269.4 274 269.1 273.9 269 274.6 268.7 274.8 268.6 275.8 268.2 274.6 268 274.9 268.1 277.3 267.6 276.3 267.2 275.2 267 275.5 266.6 274.7 266.3 275" fill="none" stroke="#f0a060" stroke-width="0.45"/><path d="M265.3 275.5 265 275.5 264.7 275.5 264.4 274.9 264.1 274.7 263.8 274.6 263.6 275 263.3 274.6 263 274.1 263 276.6 262.4 273.6 262.2 274.5 261.9 274.1 261.7 274.5 261.6 276.3 261.2 275 261 276 260.6 273.6 260.2 272.7 260 272.9 259.8 273.2 259.5 273.8 259.2 273 259.1 274.4 258.8 274.1 258.5 274.1 258.3 274.5 258 274.7 257.8 274.8 257.5 274 257.2 274.8 257 276.1 256.7 273.8 256.4 274.3 256.2 274.4 256 275.4 255.7 275 255.4 274.6 255.2 276.3 254.9 276.5 254.6 274.3 254.4 274 254.1 274 253.8 274.7 253.6 276.7 253.3 274.7 253.1 275.5 252.8 275.5 252.5 275.4 252.3 275.4 252 275.3 251.7 275.2 251.5 274.1 251.2 275.4 250.9 275.2 250.7 275.9 250.4 275.3 250.1 275.9 249.8 276.4 249.6 277.3 249.2 278.3 249 278.4 248.8 277L249.2 267.4A84 84 0 0 0 264.1 266.8Z" fill="#f9cba3"/><path d="M265.3 275.5 265 275.5 264.7 275.5 264.4 274.9 264.1 274.7 263.8 274.6 263.6 275 263.3 274.6 263 274.1 263 276.6 262.4 273.6 262.2 274.5 261.9 274.1 261.7 274.5 261.6 276.3 261.2 275 261 276 260.6 273.6 260.2 272.7 260 272.9 259.8 273.2 259.5 273.8 259.2 273 259.1 274.4 258.8 274.1 258.5 274.1 258.3 274.5 258 274.7 257.8 274.8 257.5 274 257.2 274.8 257 276.1 256.7 273.8 256.4 274.3 256.2 274.4 256 275.4 255.7 275 255.4 274.6 255.2 276.3 254.9 276.5 254.6 274.3 254.4 274 254.1 274 253.8 274.7 253.6 276.7 253.3 274.7 253.1 275.5 252.8 275.5 252.5 275.4 252.3 275.4 252 275.3 251.7 275.2 251.5 274.1 251.2 275.4 250.9 275.2 250.7 275.9 250.4 275.3 250.1 275.9 249.8 276.4 249.6 277.3 249.2 278.3 249 278.4 248.8 277" fill="none" stroke="#f0a060" stroke-width="0.45"/><path d="M247.4 277.1 247.2 275.9 247 276.2 246.7 275.6 246.5 275.9 246.2 275 245.8 277.7 245.7 274.9 245.5 274 245.3 274.2 245 274.3 244.7 274.3 244.5 273.6 244.2 274.2 243.9 274.9 243.7 274.4 243.5 273.9 243.2 274.2 243 273.6 242.8 273.3 242.2 276.1 242 275.3 242 272.8 241.6 274.6 241.2 275.5 241.2 273.2 241 272.9 240.5 274.6 240.5 272.7 240 274.4 239.6 275.5 239.7 272.5 239.4 272.8 239.1 273.1 238.9 273.2 238.7 272.4 238.5 272.4 238.2 272.3 237.6 274.2 237.2 275 237.3 273.2 236.9 273.7 236.7 273.4 236.6 272.9 236.2 273.6 235.9 273.5 235.1 276.5 235 275.2 235 274.3 234.6 274.6 234.4 274.1 233.7 276.5 233.5 276.1L235.7 265.7A84 84 0 0 0 248 267.4Z" fill="#f9cba3"/><path d="M247.4 277.1 247.2 275.9 247 276.2 246.7 275.6 246.5 275.9 246.2 275 245.8 277.7 245.7 274.9 245.5 274 245.3 274.2 245 274.3 244.7 274.3 244.5 273.6 244.2 274.2 243.9 274.9 243.7 274.4 243.5 273.9 243.2 274.2 243 273.6 242.8 273.3 242.2 276.1 242 275.3 242 272.8 241.6 274.6 241.2 275.5 241.2 273.2 241 272.9 240.5 274.6 240.5 272.7 240 274.4 239.6 275.5 239.7 272.5 239.4 272.8 239.1 273.1 238.9 273.2 238.7 272.4 238.5 272.4 238.2 272.3 237.6 274.2 237.2 275 237.3 273.2 236.9 273.7 236.7 273.4 236.6 272.9 236.2 273.6 235.9 273.5 235.1 276.5 235 275.2 235 274.3 234.6 274.6 234.4 274.1 233.7 276.5 233.5 276.1" fill="none" stroke="#f0a060" stroke-width="0.45"/><path d="M232 275.3 232 273.8 231.8 273.6 231.4 274 231.3 273.4 231.2 272.7 230.9 272.9 230.6 273.1 230.4 272.7 230.1 272.7 229.8 272.7 229.7 272.2 229 273.7 229.3 271.7 229.3 270.7 228.6 272.3 228.4 271.8 228.6 270.2 227.7 272.5 227.5 272.2 227.8 270.2 227.4 270.5 227.1 270.7 226.8 270.6 226.5 270.7 226.3 270.6 226.1 270.3 226 269.7 225.3 271.2 225.3 270.2 225 270.4 224 272.4 224.8 269.2 224.6 268.9 224.1 269.7 223.5 270.7 223.6 269.4 223.3 269.5 223.3 268.6 222.9 269 222.5 269.5 222.3 269.1 222.1 269 221.3 270.4 221.5 269.2 220.8 270.3 221 269 220.6 269.2 220.4 269.1 219.9 269.5 219.6 269.5 219.1 270.2 218.8 270.3 218.5 270.1L221.9 261.5A84 84 0 0 0 234.2 265.4Z" fill="#f9cba3"/><path d="M232 275.3 232 273.8 231.8 273.6 231.4 274 231.3 273.4 231.2 272.7 230.9 272.9 230.6 273.1 230.4 272.7 230.1 272.7 229.8 272.7 229.7 272.2 229 273.7 229.3 271.7 229.3 270.7 228.6 272.3 228.4 271.8 228.6 270.2 227.7 272.5 227.5 272.2 227.8 270.2 227.4 270.5 227.1 270.7 226.8 270.6 226.5 270.7 226.3 270.6 226.1 270.3 226 269.7 225.3 271.2 225.3 270.2 225 270.4 224 272.4 224.8 269.2 224.6 268.9 224.1 269.7 223.5 270.7 223.6 269.4 223.3 269.5 223.3 268.6 222.9 269 222.5 269.5 222.3 269.1 222.1 269 221.3 270.4 221.5 269.2 220.8 270.3 221 269 220.6 269.2 220.4 269.1 219.9 269.5 219.6 269.5 219.1 270.2 218.8 270.3 218.5 270.1" fill="none" stroke="#f0a060" stroke-width="0.45"/><path d="M214 267.5 213.2 268.5 213.1 268.1 212.3 269.3 213.2 266.6 212.3 267.9 212.4 267.2 212.2 266.9 212 266.6 211.5 267.1 211.2 267.1 210.5 267.9 211.3 265.7 209.9 267.9 210.7 265.8 209.3 267.8 210.6 264.8 210.6 264.2 209.3 266.2 210.2 263.8 209.7 264.2 208.7 265.5 209.8 262.9 209.1 263.6 209 263.3 207.5 265.5 207.6 264.8 208.6 262.4 208.2 262.5 207.7 262.9 207.6 262.5 207.3 262.5 207.2 262.2 207.2 261.6 206.8 261.9 206.5 261.9 206.3 261.6 206.4 260.9 206.5 260.3 205.9 260.8 205.7 260.6 205.9 259.8 205.5 260 204.9 260.4 204.9 260 204.7 259.7 204.5 259.6 203.6 260.6 204 259.4 203.8 259.3 203.6 259.1 203.8 258.3 203 259 202.7 259 202.7 258.6 202.5 258.3 202.1 258.5 202.1 258.1 201.2 258.9 201 258.7 199.4 260.5 200.5 258.5 200.5 258 200.2 258 199.4 258.7 199.8 257.7 199.6 257.5 198.1 259.1 198.1 258.6 198.3 257.9 196.7 259.7 198.4 256.9 198 257 196.1 259.1 197.2 257.2 196.4 257.8 196.5 257.2 196.6 256.7 196.2 256.7L201.5 249.9A84 84 0 0 0 217.6 259.7Z" fill="#f9cba3"/><path d="M214 267.5 213.2 268.5 213.1 268.1 212.3 269.3 213.2 266.6 212.3 267.9 212.4 267.2 212.2 266.9 212 266.6 211.5 267.1 211.2 267.1 210.5 267.9 211.3 265.7 209.9 267.9 210.7 265.8 209.3 267.8 210.6 264.8 210.6 264.2 209.3 266.2 210.2 263.8 209.7 264.2 208.7 265.5 209.8 262.9 209.1 263.6 209 263.3 207.5 265.5 207.6 264.8 208.6 262.4 208.2 262.5 207.7 262.9 207.6 262.5 207.3 262.5 207.2 262.2 207.2 261.6 206.8 261.9 206.5 261.9 206.3 261.6 206.4 260.9 206.5 260.3 205.9 260.8 205.7 260.6 205.9 259.8 205.5 260 204.9 260.4 204.9 260 204.7 259.7 204.5 259.6 203.6 260.6 204 259.4 203.8 259.3 203.6 259.1 203.8 258.3 203 259 202.7 259 202.7 258.6 202.5 258.3 202.1 258.5 202.1 258.1 201.2 258.9 201 258.7 199.4 260.5 200.5 258.5 200.5 258 200.2 258 199.4 258.7 199.8 257.7 199.6 257.5 198.1 259.1 198.1 258.6 198.3 257.9 196.7 259.7 198.4 256.9 198 257 196.1 259.1 197.2 257.2 196.4 257.8 196.5 257.2 196.6 256.7 196.2 256.7" fill="none" stroke="#f0a060" stroke-width="0.45"/><path d="M194.4 255.5 194.6 254.9 193 256.4 194.1 254.7 194 254.4 193.6 254.5 193.3 254.4 193 254.3 191.4 255.8 192.8 253.8 193.2 252.9 193.1 252.6 192.9 252.4 192.4 252.6 193 251.6 192.7 251.4 192.2 251.7 192.1 251.3 190.9 252.2 190.2 252.6 191.7 250.6 192.2 249.7 191.4 250.2 191.8 249.3 191.3 249.5 190.9 249.5 190.9 249.2 190.4 249.3 190.3 249 190.3 248.6 189.8 248.8 190.1 248.1 190.2 247.7 189.6 247.9 189.4 247.7 188.2 248.5 189 247.4 188.4 247.6 188.1 247.5 187.8 247.4 188 246.9 186.9 247.6 187.3 246.8 187.1 246.7 186.5 246.9 186.6 246.4 187.1 245.6 186.9 245.4 186.7 245.2 186.2 245.4 186.2 245 183.6 247 184.3 246 185.4 244.7 185 244.6 184 245.2 184.4 244.4 182.3 246 184 244.1 183.8 243.9 183.9 243.5 183.7 243.3 183 243.6 180.7 245.2 182.2 243.6L188.9 237.8A84 84 0 0 0 200 248.7Z" fill="#f9cba3"/><path d="M194.4 255.5 194.6 254.9 193 256.4 194.1 254.7 194 254.4 193.6 254.5 193.3 254.4 193 254.3 191.4 255.8 192.8 253.8 193.2 252.9 193.1 252.6 192.9 252.4 192.4 252.6 193 251.6 192.7 251.4 192.2 251.7 192.1 251.3 190.9 252.2 190.2 252.6 191.7 250.6 192.2 249.7 191.4 250.2 191.8 249.3 191.3 249.5 190.9 249.5 190.9 249.2 190.4 249.3 190.3 249 190.3 248.6 189.8 248.8 190.1 248.1 190.2 247.7 189.6 247.9 189.4 247.7 188.2 248.5 189 247.4 188.4 247.6 188.1 247.5 187.8 247.4 188 246.9 186.9 247.6 187.3 246.8 187.1 246.7 186.5 246.9 186.6 246.4 187.1 245.6 186.9 245.4 186.7 245.2 186.2 245.4 186.2 245 183.6 247 184.3 246 185.4 244.7 185 244.6 184 245.2 184.4 244.4 182.3 246 184 244.1 183.8 243.9 183.9 243.5 183.7 243.3 183 243.6 180.7 245.2 182.2 243.6" fill="none" stroke="#f0a060" stroke-width="0.45"/><path d="M181.2 243.1 181.5 242.6 180.8 242.8 181.5 241.8 181.4 241.5 180.8 241.7 181.4 240.9 180.4 241.3 181.1 240.5 181.1 240.1 180.5 240.3 180.3 240.1 180.5 239.6 178.1 241.1 180.5 238.9 180.3 238.7 179.8 238.8 180.2 238.2 178.1 239.4 179.6 238 179.8 237.5 180.3 236.8 177.9 238.2 179.8 236.5 179.2 236.6 179.6 236 180.1 235.4 179 235.8 179.3 235.3 178.6 235.5 179 234.8 178.2 235.1 176.2 236.1 178.1 234.5 178.1 234.2 177.2 234.5 177.4 234 177.7 233.6 177.6 233.3 177.2 233.3 176.5 233.4 176.9 232.8 175.2 233.6 176.1 232.7 176.2 232.4 176.5 231.8 175.5 232.2 175.6 231.8 175.1 231.8 175.4 231.3 175.1 231.2 175 230.9 174 231.2 174.5 230.6 173.8 230.7 174.7 229.9 174.1 229.9 174 229.7 173.4 229.8 172.1 230.2 173.1 229.3 172.7 229.2 171.9 229.4L179.9 224.9A84 84 0 0 0 188.4 237.2Z" fill="#f9cba3"/><path d="M181.2 243.1 181.5 242.6 180.8 242.8 181.5 241.8 181.4 241.5 180.8 241.7 181.4 240.9 180.4 241.3 181.1 240.5 181.1 240.1 180.5 240.3 180.3 240.1 180.5 239.6 178.1 241.1 180.5 238.9 180.3 238.7 179.8 238.8 180.2 238.2 178.1 239.4 179.6 238 179.8 237.5 180.3 236.8 177.9 238.2 179.8 236.5 179.2 236.6 179.6 236 180.1 235.4 179 235.8 179.3 235.3 178.6 235.5 179 234.8 178.2 235.1 176.2 236.1 178.1 234.5 178.1 234.2 177.2 234.5 177.4 234 177.7 233.6 177.6 233.3 177.2 233.3 176.5 233.4 176.9 232.8 175.2 233.6 176.1 232.7 176.2 232.4 176.5 231.8 175.5 232.2 175.6 231.8 175.1 231.8 175.4 231.3 175.1 231.2 175 230.9 174 231.2 174.5 230.6 173.8 230.7 174.7 229.9 174.1 229.9 174 229.7 173.4 229.8 172.1 230.2 173.1 229.3 172.7 229.2 171.9 229.4" fill="none" stroke="#f0a060" stroke-width="0.45"/><path d="M172.1 226.7 171.6 226.7 169.1 227.7 171.9 225.9 171.4 225.9 168.6 227 170.9 225.5 171.6 224.9 170.8 225 171.5 224.3 170.8 224.4 170.5 224.3 170.9 223.8 170.9 223.5 167.8 224.7 170.8 223 170.6 222.7 170.7 222.4 168.7 223 167.7 223.2 170.3 221.7 169.6 221.8 170.6 221 169.1 221.4 169.4 221 169.5 220.7 169.2 220.5 170.3 219.8 169.6 219.8 170 219.3 170.2 218.9 170.2 218.7 169.9 218.5 169.8 218.3 169.4 218.1 169 218 166.8 218.7 169.2 217.4 169.6 217 169.4 216.8 169.6 216.4 168.4 216.6 168.8 216.2 168.1 216.2 168.2 215.8 168.9 215.3 168.4 215.2 168.1 215 166.1 215.5 166 215.2 168.3 214.1 167.1 214.3 167.7 213.8 167 213.8 167.1 213.5 167.3 213.1 164.9 213.7 166.3 212.9 166.5 212.6 166.4 212.3 165.7 212.3 163.1 212.8 165.5 211.8 165.8 211.4 165.9 211.1 164.9 211.2 165.1 210.8 162.2 211.4 164.4 210.5 164.5 210.2 162 210.6L172.5 207.5A84 84 0 0 0 178.9 223.1Z" fill="#f9cba3"/><path d="M172.1 226.7 171.6 226.7 169.1 227.7 171.9 225.9 171.4 225.9 168.6 227 170.9 225.5 171.6 224.9 170.8 225 171.5 224.3 170.8 224.4 170.5 224.3 170.9 223.8 170.9 223.5 167.8 224.7 170.8 223 170.6 222.7 170.7 222.4 168.7 223 167.7 223.2 170.3 221.7 169.6 221.8 170.6 221 169.1 221.4 169.4 221 169.5 220.7 169.2 220.5 170.3 219.8 169.6 219.8 170 219.3 170.2 218.9 170.2 218.7 169.9 218.5 169.8 218.3 169.4 218.1 169 218 166.8 218.7 169.2 217.4 169.6 217 169.4 216.8 169.6 216.4 168.4 216.6 168.8 216.2 168.1 216.2 168.2 215.8 168.9 215.3 168.4 215.2 168.1 215 166.1 215.5 166 215.2 168.3 214.1 167.1 214.3 167.7 213.8 167 213.8 167.1 213.5 167.3 213.1 164.9 213.7 166.3 212.9 166.5 212.6 166.4 212.3 165.7 212.3 163.1 212.8 165.5 211.8 165.8 211.4 165.9 211.1 164.9 211.2 165.1 210.8 162.2 211.4 164.4 210.5 164.5 210.2 162 210.6" fill="none" stroke="#f0a060" stroke-width="0.45"/><path d="M162 207 163.1 206.5 163.2 206.2 163.2 205.9 163.4 205.6 161.5 205.8 161.1 205.6 162.8 204.9 162.9 204.6 163.3 204.2 163 204 163 203.8 163.1 203.5 163.6 203.1 163.7 202.8 163.6 202.5 163 202.4 163.3 202.1 163.7 201.7 162.7 201.6 161 201.7 164 200.9 163.9 200.6 164.2 200.3 163.1 200.2 163.4 199.9 163 199.7 163.5 199.3 163 199.2 161.2 199.2 162.6 198.7 162.7 198.4 163.2 198.1 163.8 197.7 160.7 197.9 164.2 197.1 164.2 196.9 163.6 196.7 163.5 196.4 163.3 196.2 163.3 195.9 163.6 195.6 163.2 195.4 160.5 195.5 162.7 195 162.4 194.7 163.1 194.4 161.2 194.3 161.9 194 163 193.6 163.1 193.3 159.9 193.4 162.7 192.8 162.4 192.6 162 192.4 160.9 192.2 160.2 192 162.4 191.6 162.3 191.3 162 191.1 162 190.8 161.8 190.6 160.6 190.4 158.2 190.3 159.3 189.9 161 189.6 160.4 189.3L169.2 188.8A84 84 0 0 0 171.7 204.5Z" fill="#f9cba3"/><path d="M162 207 163.1 206.5 163.2 206.2 163.2 205.9 163.4 205.6 161.5 205.8 161.1 205.6 162.8 204.9 162.9 204.6 163.3 204.2 163 204 163 203.8 163.1 203.5 163.6 203.1 163.7 202.8 163.6 202.5 163 202.4 163.3 202.1 163.7 201.7 162.7 201.6 161 201.7 164 200.9 163.9 200.6 164.2 200.3 163.1 200.2 163.4 199.9 163 199.7 163.5 199.3 163 199.2 161.2 199.2 162.6 198.7 162.7 198.4 163.2 198.1 163.8 197.7 160.7 197.9 164.2 197.1 164.2 196.9 163.6 196.7 163.5 196.4 163.3 196.2 163.3 195.9 163.6 195.6 163.2 195.4 160.5 195.5 162.7 195 162.4 194.7 163.1 194.4 161.2 194.3 161.9 194 163 193.6 163.1 193.3 159.9 193.4 162.7 192.8 162.4 192.6 162 192.4 160.9 192.2 160.2 192 162.4 191.6 162.3 191.3 162 191.1 162 190.8 161.8 190.6 160.6 190.4 158.2 190.3 159.3 189.9 161 189.6 160.4 189.3" fill="none" stroke="#f0a060" stroke-width="0.45"/><path d="M160 186.9 158.1 186.7 159.8 186.4 160.7 186.1 161.2 185.8 160.5 185.6 160.8 185.3 161.2 185 161.6 184.7 161.3 184.5 161.2 184.2 161.3 184 161 183.7 160.4 183.4 159.9 183.2 161.2 182.9 161.5 182.6 160.6 182.4 161.7 182.1 161.6 181.9 161.4 181.6 162.1 181.3 162.1 181.1 162.2 180.8 161.5 180.5 162 180.3 161.8 180 162.6 179.8 162.3 179.5 162.2 179.3 162 179 162.2 178.7 162.6 178.5 162 178.2 162.3 178 162.4 177.7 159.8 177.3 162.3 177.2 162.7 176.9 162.2 176.6 162.2 176.4 162.5 176.1 162.4 175.9 162.2 175.6 162.2 175.3 163.3 175.2 163.1 174.9 159.8 174.3 162.2 174.3 162.1 174 162.5 173.8 162.4 173.5 159.7 172.9 161.5 172.9 158.9 172.3 161.7 172.4 162.1 172.1 158.9 171.5 161.2 171.5 159 170.9 159.7 170.8 159.2 170.4 161.2 170.4 161.9 170.3 161.6 169.9 160.7 169.5L169.9 170.9A84 84 0 0 0 169.1 186.6Z" fill="#f9cba3"/><path d="M160 186.9 158.1 186.7 159.8 186.4 160.7 186.1 161.2 185.8 160.5 185.6 160.8 185.3 161.2 185 161.6 184.7 161.3 184.5 161.2 184.2 161.3 184 161 183.7 160.4 183.4 159.9 183.2 161.2 182.9 161.5 182.6 160.6 182.4 161.7 182.1 161.6 181.9 161.4 181.6 162.1 181.3 162.1 181.1 162.2 180.8 161.5 180.5 162 180.3 161.8 180 162.6 179.8 162.3 179.5 162.2 179.3 162 179 162.2 178.7 162.6 178.5 162 178.2 162.3 178 162.4 177.7 159.8 177.3 162.3 177.2 162.7 176.9 162.2 176.6 162.2 176.4 162.5 176.1 162.4 175.9 162.2 175.6 162.2 175.3 163.3 175.2 163.1 174.9 159.8 174.3 162.2 174.3 162.1 174 162.5 173.8 162.4 173.5 159.7 172.9 161.5 172.9 158.9 172.3 161.7 172.4 162.1 172.1 158.9 171.5 161.2 171.5 159 170.9 159.7 170.8 159.2 170.4 161.2 170.4 161.9 170.3 161.6 169.9 160.7 169.5" fill="none" stroke="#f0a060" stroke-width="0.45"/><path d="M160 168.1 162.4 168.2 162 167.9 162.6 167.7 163 167.5 162.6 167.2 162.8 167 163.4 166.8 162.7 166.4 162.8 166.2 163 165.9 162.4 165.5 163.7 165.5 164 165.3 163.9 165 164.9 165 164.4 164.6 164.9 164.4 165.1 164.2 164.1 163.7 165.3 163.7 164.4 163.3 164.8 163.1 162.6 162.3 164.8 162.6 164.3 162.2 165.1 162.1 165.2 161.9 165.1 161.6 164.9 161.2 164.9 161 164.8 160.7 162.7 159.8 165.5 160.3 165.7 160.1 165.9 159.9 165.4 159.5 165.2 159.2 165.9 159.1 165.9 158.8 166 158.6 163.4 157.5 165.3 157.8 165.3 157.5 165.9 157.4 165.8 157.1 165.5 156.8 165.5 156.5 163 155.4 165.2 155.8 165.2 155.6 165.5 155.4 165.9 155.2 164.1 154.4 166 154.7 165.7 154.3 166.1 154.2 165.3 153.6L173.5 156.4A84 84 0 0 0 170.1 169.8Z" fill="#f9cba3"/><path d="M160 168.1 162.4 168.2 162 167.9 162.6 167.7 163 167.5 162.6 167.2 162.8 167 163.4 166.8 162.7 166.4 162.8 166.2 163 165.9 162.4 165.5 163.7 165.5 164 165.3 163.9 165 164.9 165 164.4 164.6 164.9 164.4 165.1 164.2 164.1 163.7 165.3 163.7 164.4 163.3 164.8 163.1 162.6 162.3 164.8 162.6 164.3 162.2 165.1 162.1 165.2 161.9 165.1 161.6 164.9 161.2 164.9 161 164.8 160.7 162.7 159.8 165.5 160.3 165.7 160.1 165.9 159.9 165.4 159.5 165.2 159.2 165.9 159.1 165.9 158.8 166 158.6 163.4 157.5 165.3 157.8 165.3 157.5 165.9 157.4 165.8 157.1 165.5 156.8 165.5 156.5 163 155.4 165.2 155.8 165.2 155.6 165.5 155.4 165.9 155.2 164.1 154.4 166 154.7 165.7 154.3 166.1 154.2 165.3 153.6" fill="none" stroke="#f0a060" stroke-width="0.45"/><path d="M166 152.3 165.5 151.9 165.1 151.4 165.7 151.4 165.7 151.1 166.4 151.1 166.2 150.7 167.1 150.8 167.4 150.6 167.7 150.4 167.7 150.1 167.8 149.9 168.4 149.9 167.8 149.3 167.8 149 168.6 149.1 168.3 148.7 169.1 148.7 168.8 148.3 168.9 148 169.1 147.9 169.3 147.7 169.1 147.3 169.5 147.2 169.4 146.9 169.8 146.7 170.1 146.6 170.1 146.3 170 146 170 145.7 170.3 145.5 170.6 145.3 170.7 145.1 170.7 144.8 171.6 145 171.5 144.6 171.6 144.4 170.3 143.5 171 143.5 172.1 143.7 169.3 142.1 171.7 143 172.1 142.9 172.2 142.7 172.3 142.4 172.6 142.3 170.3 140.8 172.8 141.8 172.9 141.5 172 140.8 172.9 141 172.7 140.5 171 139.3 173 140.1 172.8 139.7 172.6 139.3 172.7 139 173.2 139 172.4 138.3 172.3 137.9 172.9 137.9 172.2 137.2L180.1 141.8A84 84 0 0 0 173.9 155.2Z" fill="#f9cba3"/><path d="M166 152.3 165.5 151.9 165.1 151.4 165.7 151.4 165.7 151.1 166.4 151.1 166.2 150.7 167.1 150.8 167.4 150.6 167.7 150.4 167.7 150.1 167.8 149.9 168.4 149.9 167.8 149.3 167.8 149 168.6 149.1 168.3 148.7 169.1 148.7 168.8 148.3 168.9 148 169.1 147.9 169.3 147.7 169.1 147.3 169.5 147.2 169.4 146.9 169.8 146.7 170.1 146.6 170.1 146.3 170 146 170 145.7 170.3 145.5 170.6 145.3 170.7 145.1 170.7 144.8 171.6 145 171.5 144.6 171.6 144.4 170.3 143.5 171 143.5 172.1 143.7 169.3 142.1 171.7 143 172.1 142.9 172.2 142.7 172.3 142.4 172.6 142.3 170.3 140.8 172.8 141.8 172.9 141.5 172 140.8 172.9 141 172.7 140.5 171 139.3 173 140.1 172.8 139.7 172.6 139.3 172.7 139 173.2 139 172.4 138.3 172.3 137.9 172.9 137.9 172.2 137.2" fill="none" stroke="#f0a060" stroke-width="0.45"/><path d="M174.6 133.9 175 133.9 175.6 134 173.3 132.2 173.9 132.2 175.2 132.7 175.9 132.9 176.1 132.7 176.2 132.4 177.2 132.8 177.3 132.5 177.1 132.1 178 132.3 177.1 131.5 176.3 130.5 177.9 131.3 178.3 131.3 178.6 131.2 178.7 131 179.1 130.9 178.9 130.5 178.3 129.7 179 129.8 179.5 129.9 179.5 129.5 179.7 129.4 180 129.3 179.9 128.9 180.5 129 181.1 129.2 180.9 128.7 181.7 128.9 180.5 127.7 181.4 128 181.7 128 181.8 127.7 182.5 127.9 182.2 127.4 182 126.8 182.5 126.9 181.8 126 182.7 126.4 182.8 126.2 182.1 125.3 183.6 126.2 183 125.3 184.1 125.9 183 124.6 183.2 124.4 184 124.8 184.2 124.6 184.2 124.2 184.6 124.3 184.6 123.9 184.8 123.7 184.5 123.1 184.8 123 183.2 121.3 184.7 122.2 185.3 122.4 185.3 122.1 185.2 121.6 186.2 122.2 186.1 121.7 186 121.2 186.6 121.4 186.6 121.1 184.9 119.1 186.8 120.5 186.9 120.3 187 120 187 119.7 186.9 119.2 187.2 119.1 187 118.5 186 117.2 187.5 118.3 187.8 118.2 188.2 118.3 187.6 117.2 187.2 116.4 188.4 117.3 188.6 117.1 188.4 116.5 188.2 116L194.9 122.9A84 84 0 0 0 182 138.6Z" fill="#f9cba3"/><path d="M174.6 133.9 175 133.9 175.6 134 173.3 132.2 173.9 132.2 175.2 132.7 175.9 132.9 176.1 132.7 176.2 132.4 177.2 132.8 177.3 132.5 177.1 132.1 178 132.3 177.1 131.5 176.3 130.5 177.9 131.3 178.3 131.3 178.6 131.2 178.7 131 179.1 130.9 178.9 130.5 178.3 129.7 179 129.8 179.5 129.9 179.5 129.5 179.7 129.4 180 129.3 179.9 128.9 180.5 129 181.1 129.2 180.9 128.7 181.7 128.9 180.5 127.7 181.4 128 181.7 128 181.8 127.7 182.5 127.9 182.2 127.4 182 126.8 182.5 126.9 181.8 126 182.7 126.4 182.8 126.2 182.1 125.3 183.6 126.2 183 125.3 184.1 125.9 183 124.6 183.2 124.4 184 124.8 184.2 124.6 184.2 124.2 184.6 124.3 184.6 123.9 184.8 123.7 184.5 123.1 184.8 123 183.2 121.3 184.7 122.2 185.3 122.4 185.3 122.1 185.2 121.6 186.2 122.2 186.1 121.7 186 121.2 186.6 121.4 186.6 121.1 184.9 119.1 186.8 120.5 186.9 120.3 187 120 187 119.7 186.9 119.2 187.2 119.1 187 118.5 186 117.2 187.5 118.3 187.8 118.2 188.2 118.3 187.6 117.2 187.2 116.4 188.4 117.3 188.6 117.1 188.4 116.5 188.2 116" fill="none" stroke="#f0a060" stroke-width="0.45"/><path d="M189.5 114.7 188.8 113.5 189 113.3 190.7 114.7 191.1 114.9 191.4 114.7 191.6 114.6 191.8 114.4 191.6 113.7 191.3 113 192.8 114.4 192.5 113.6 193.4 114.2 193.2 113.6 193.7 113.8 192.2 111.6 192.7 111.7 194.4 113.3 194.4 113 195 113.3 195.4 113.4 195.1 112.5 195.7 112.8 195.7 112.4 196.1 112.5 195.1 110.8 195.4 110.8 196.9 112.2 196.6 111.4 196.9 111.4 197.1 111.2 197.3 111.1 197.8 111.2 197.3 110.1 198.4 111.1 198.7 111.2 197.2 108.6 199.1 110.9 199.2 110.5 198.7 109.3 199.1 109.5 200 110.2 199.7 109.4 200.4 109.9 200.1 109 200.6 109.2 201.2 109.7 201.1 109 201.4 109.1 201.6 108.9 201.6 108.3 201.7 108.1 202.5 108.7 202.6 108.5 202.7 108.1 203.1 108.2 203.3 108.2 203.4 107.8 202.5 105.8 203.7 107.3 203.7 106.8 203.1 105.4 204.3 106.8 204.2 106.2 204.7 106.4 204.6 105.8 204.8 105.6 203.5 102.9 204.3 103.7 205.8 105.7 204.3 102.6 205.9 104.8 204.5 101.9 206.2 104.2 204.9 101.6L210.5 111A84 84 0 0 0 196 121.8Z" fill="#f9cba3"/><path d="M189.5 114.7 188.8 113.5 189 113.3 190.7 114.7 191.1 114.9 191.4 114.7 191.6 114.6 191.8 114.4 191.6 113.7 191.3 113 192.8 114.4 192.5 113.6 193.4 114.2 193.2 113.6 193.7 113.8 192.2 111.6 192.7 111.7 194.4 113.3 194.4 113 195 113.3 195.4 113.4 195.1 112.5 195.7 112.8 195.7 112.4 196.1 112.5 195.1 110.8 195.4 110.8 196.9 112.2 196.6 111.4 196.9 111.4 197.1 111.2 197.3 111.1 197.8 111.2 197.3 110.1 198.4 111.1 198.7 111.2 197.2 108.6 199.1 110.9 199.2 110.5 198.7 109.3 199.1 109.5 200 110.2 199.7 109.4 200.4 109.9 200.1 109 200.6 109.2 201.2 109.7 201.1 109 201.4 109.1 201.6 108.9 201.6 108.3 201.7 108.1 202.5 108.7 202.6 108.5 202.7 108.1 203.1 108.2 203.3 108.2 203.4 107.8 202.5 105.8 203.7 107.3 203.7 106.8 203.1 105.4 204.3 106.8 204.2 106.2 204.7 106.4 204.6 105.8 204.8 105.6 203.5 102.9 204.3 103.7 205.8 105.7 204.3 102.6 205.9 104.8 204.5 101.9 206.2 104.2 204.9 101.6" fill="none" stroke="#f0a060" stroke-width="0.45"/><path d="M207.1 102.7 207.7 103.2 207.6 102.6 207.9 102.4 208.6 103.1 208.7 102.9 209 102.9 208.9 102.1 209.3 102.3 209.8 102.7 210.4 103.2 209.2 100.3 210.5 102.3 210.7 102.2 210.5 101.1 211.5 102.6 210.5 100 212.3 102.8 212.5 102.8 212.6 102.4 212.8 102.2 212.8 101.6 213.3 101.9 213.4 101.7 213.3 100.7 213.6 100.8 214.1 101.3 214.8 102.1 214.8 101.5 215.3 101.9 215.3 101.4 215.9 102 215.9 101.4 215.9 100.9 216 100.3 216.4 100.5 216.6 100.4 216.2 98.9 216.9 99.9 217.2 99.7 217.7 100.4 217.8 100 218.3 100.4 218.2 99.5 218.2 98.9 218.5 98.8 219.1 99.7 219.2 99.1 219.3 98.8 219.5 98.6 220 99.1 219.2 96.3 219.9 97.4 219.9 96.6 220.6 97.8 221.1 98.3 221.2 98 221.7 98.3 221.9 98.2 222.2 98.2 222.1 97.3 222.5 97.6 222.9 97.8 222.9 97 223.4 97.6 222.6 94.7 223.6 96.7 223.3 95.1 223.7 95.5 224 95.4 224.4 95.9 223.9 93.4 224.6 94.7 225 95.1 224.9 93.9 225.6 95.2 225.8 95 226.1 94.9L228.6 103.1A84 84 0 0 0 211.5 110.5Z" fill="#f9cba3"/><path d="M207.1 102.7 207.7 103.2 207.6 102.6 207.9 102.4 208.6 103.1 208.7 102.9 209 102.9 208.9 102.1 209.3 102.3 209.8 102.7 210.4 103.2 209.2 100.3 210.5 102.3 210.7 102.2 210.5 101.1 211.5 102.6 210.5 100 212.3 102.8 212.5 102.8 212.6 102.4 212.8 102.2 212.8 101.6 213.3 101.9 213.4 101.7 213.3 100.7 213.6 100.8 214.1 101.3 214.8 102.1 214.8 101.5 215.3 101.9 215.3 101.4 215.9 102 215.9 101.4 215.9 100.9 216 100.3 216.4 100.5 216.6 100.4 216.2 98.9 216.9 99.9 217.2 99.7 217.7 100.4 217.8 100 218.3 100.4 218.2 99.5 218.2 98.9 218.5 98.8 219.1 99.7 219.2 99.1 219.3 98.8 219.5 98.6 220 99.1 219.2 96.3 219.9 97.4 219.9 96.6 220.6 97.8 221.1 98.3 221.2 98 221.7 98.3 221.9 98.2 222.2 98.2 222.1 97.3 222.5 97.6 222.9 97.8 222.9 97 223.4 97.6 222.6 94.7 223.6 96.7 223.3 95.1 223.7 95.5 224 95.4 224.4 95.9 223.9 93.4 224.6 94.7 225 95.1 224.9 93.9 225.6 95.2 225.8 95 226.1 94.9" fill="none" stroke="#f0a060" stroke-width="0.45"/><path d="M227.7 93.6 228 93.6 228.3 93.7 228.6 93.7 228.6 92.7 229.1 93.7 229 92.1 229.3 92.3 230.2 94.5 230.3 93.9 230 91.6 231.1 95 231.3 94.6 231.1 92.7 231.8 94.3 231.4 91.6 232.3 94.5 232.5 93.8 232.7 93.6 233 93.8 233.4 94.2 233.6 93.9 233.4 92 234.2 94.5 234.2 93.2 234.8 94.5 235 94.2 235.3 94.7 235.4 93.4 235.7 93.6 235.9 93.3 236.2 93.9 236.7 94.8 236.8 94 237.2 94.7 237.3 93.7 237.6 93.8 237.9 94 237.8 91.8 238.4 94.3 238.7 94 238.9 93.7 238.8 91.6 239.6 94.7 239.8 94.4 240.1 94.8 240.3 94.6 240.6 94.7 240.8 94.2 241 94.1 241.3 94.2 241.5 93.7 241.8 93.6 242.1 94 242 91.1 242.5 93.3 242.7 92.6 243 92.8 243.3 93.2 243.4 92.1 243.8 93 244 92.3 244.3 92.9 244.6 93.3 244.9 93.1 245.1 92.3 245.3 92.3 245.6 92 245.8 92.3 246.1 91.9 246.4 92 246.6 91.5 246.8 90.7 247.1 91 247.3 91 247.6 91.2 247.9 91 248.1 89.9L248.6 99.6A84 84 0 0 0 230.3 102.6Z" fill="#f9cba3"/><path d="M227.7 93.6 228 93.6 228.3 93.7 228.6 93.7 228.6 92.7 229.1 93.7 229 92.1 229.3 92.3 230.2 94.5 230.3 93.9 230 91.6 231.1 95 231.3 94.6 231.1 92.7 231.8 94.3 231.4 91.6 232.3 94.5 232.5 93.8 232.7 93.6 233 93.8 233.4 94.2 233.6 93.9 233.4 92 234.2 94.5 234.2 93.2 234.8 94.5 235 94.2 235.3 94.7 235.4 93.4 235.7 93.6 235.9 93.3 236.2 93.9 236.7 94.8 236.8 94 237.2 94.7 237.3 93.7 237.6 93.8 237.9 94 237.8 91.8 238.4 94.3 238.7 94 238.9 93.7 238.8 91.6 239.6 94.7 239.8 94.4 240.1 94.8 240.3 94.6 240.6 94.7 240.8 94.2 241 94.1 241.3 94.2 241.5 93.7 241.8 93.6 242.1 94 242 91.1 242.5 93.3 242.7 92.6 243 92.8 243.3 93.2 243.4 92.1 243.8 93 244 92.3 244.3 92.9 244.6 93.3 244.9 93.1 245.1 92.3 245.3 92.3 245.6 92 245.8 92.3 246.1 91.9 246.4 92 246.6 91.5 246.8 90.7 247.1 91 247.3 91 247.6 91.2 247.9 91 248.1 89.9" fill="none" stroke="#f0a060" stroke-width="0.45"/><path d="M256 109.1 256.2 109.5 256.5 107.5 256.6 109.9 256.9 107.5 257 110.2 257.4 107.5 257.4 111 257.6 111 257.8 111.7 258.2 107.7 258.3 110.1 258.7 108 258.6 111.7 259 109.6 258.9 112.7 259.6 107.7 259.6 110.4 259.6 112.1 260.1 109.6 260.1 111.6 260.4 110.1 260.5 111.2 260.7 112.2 260.8 112.5 261.3 109.7 261.3 112.3 261.4 112.5 261.6 113.4 261.7 113.5 262.2 111.8 262.4 111.7 262.6 111.7 263.1 109.8 262.6 114.5 262.9 114.1 263.2 113.6 263.3 113.9 263.5 114 263.7 114 264 113.9 264.2 113.8 264.5 113.3 264.5 114.2 264.9 113.5 265.4 111.4 265.9 109.8 265.5 113.6 265.5 114.6 266 112.7 265.9 114.4 266.2 114.1 266.5 113.5 267.4 110.1 267 113.4 267.2 113.5 267.3 113.7 267.7 113.1 267.7 113.9 268.7 110.3 268.4 112.8 268.7 112.3 268.7 113.3 269.1 112.5 269.2 113.1 269.7 111.9 269.9 112 270 112.3 270.3 111.8L268 121.3A64 64 0 0 0 255.6 119.6Z" fill="#dad8ec"/><path d="M256 109.1 256.2 109.5 256.5 107.5 256.6 109.9 256.9 107.5 257 110.2 257.4 107.5 257.4 111 257.6 111 257.8 111.7 258.2 107.7 258.3 110.1 258.7 108 258.6 111.7 259 109.6 258.9 112.7 259.6 107.7 259.6 110.4 259.6 112.1 260.1 109.6 260.1 111.6 260.4 110.1 260.5 111.2 260.7 112.2 260.8 112.5 261.3 109.7 261.3 112.3 261.4 112.5 261.6 113.4 261.7 113.5 262.2 111.8 262.4 111.7 262.6 111.7 263.1 109.8 262.6 114.5 262.9 114.1 263.2 113.6 263.3 113.9 263.5 114 263.7 114 264 113.9 264.2 113.8 264.5 113.3 264.5 114.2 264.9 113.5 265.4 111.4 265.9 109.8 265.5 113.6 265.5 114.6 266 112.7 265.9 114.4 266.2 114.1 266.5 113.5 267.4 110.1 267 113.4 267.2 113.5 267.3 113.7 267.7 113.1 267.7 113.9 268.7 110.3 268.4 112.8 268.7 112.3 268.7 113.3 269.1 112.5 269.2 113.1 269.7 111.9 269.9 112 270 112.3 270.3 111.8" fill="none" stroke="#a9a4d2" stroke-width="0.45"/><path d="M271.1 112.6 271.3 112.6 271.4 113 271.4 113.8 271.8 113.2 272.8 110.2 272 113.9 272.3 113.7 272.4 114.2 272.4 114.7 272.8 114.2 272.9 114.5 273 114.9 273.3 114.7 273.3 115.5 273.7 114.9 274 114.5 274 115.2 274.2 115.2 274.2 116.1 274.8 114.9 274.6 116 274.7 116.6 274.8 116.7 276.8 111.5 275.4 116.1 275.6 116.5 275.4 117.6 275.8 117.2 275.7 117.9 277.1 114.6 276.3 117.4 276.6 117.3 276.9 117.1 277.1 117.1 277.1 117.5 277.6 116.9 279 113.6 277.8 117.3 278.7 115.7 278.3 117.2 278.5 117.4 278.5 117.8 278.8 117.7 279.4 116.8 279.5 116.9 280.2 115.9 280.6 115.3 281.3 114.1 280.2 117.5 280.2 117.9 280.6 117.6 282.6 113.4 281.3 116.9 281.6 116.9 281.5 117.5 281.8 117.5 281.9 117.6 283.8 113.9 283.3 115.6 282.8 117.2 284.4 114.2 283.4 117 283.8 116.6 284 116.6 284.1 116.9 284.5 116.6 284.4 117.2 284.8 117 285 117L280.8 125.8A64 64 0 0 0 268.8 121.5Z" fill="#dad8ec"/><path d="M271.1 112.6 271.3 112.6 271.4 113 271.4 113.8 271.8 113.2 272.8 110.2 272 113.9 272.3 113.7 272.4 114.2 272.4 114.7 272.8 114.2 272.9 114.5 273 114.9 273.3 114.7 273.3 115.5 273.7 114.9 274 114.5 274 115.2 274.2 115.2 274.2 116.1 274.8 114.9 274.6 116 274.7 116.6 274.8 116.7 276.8 111.5 275.4 116.1 275.6 116.5 275.4 117.6 275.8 117.2 275.7 117.9 277.1 114.6 276.3 117.4 276.6 117.3 276.9 117.1 277.1 117.1 277.1 117.5 277.6 116.9 279 113.6 277.8 117.3 278.7 115.7 278.3 117.2 278.5 117.4 278.5 117.8 278.8 117.7 279.4 116.8 279.5 116.9 280.2 115.9 280.6 115.3 281.3 114.1 280.2 117.5 280.2 117.9 280.6 117.6 282.6 113.4 281.3 116.9 281.6 116.9 281.5 117.5 281.8 117.5 281.9 117.6 283.8 113.9 283.3 115.6 282.8 117.2 284.4 114.2 283.4 117 283.8 116.6 284 116.6 284.1 116.9 284.5 116.6 284.4 117.2 284.8 117 285 117" fill="none" stroke="#a9a4d2" stroke-width="0.45"/><path d="M287.3 115.6 287.5 115.7 286.9 117.4 287.9 115.9 286.5 119.1 286.8 118.9 287.3 118.4 287.2 119.1 287.2 119.5 287.2 120 287.3 120.3 287.4 120.5 287.3 121 289.3 117.8 288 120.7 288.2 120.7 289.6 118.7 287.8 122.3 288.9 120.8 288.6 121.7 288.6 122 290.6 119 288.5 123 288.8 122.9 289.1 122.8 288.9 123.6 289.1 123.6 289.7 123.1 289.9 123.1 289.6 123.9 290.1 123.6 290.2 123.8 292.7 120.1 290.6 123.9 292.1 121.9 290.9 124.2 293.8 120 291.2 124.5 291.5 124.4 292.1 123.8 292.5 123.6 294.2 121.4 292.7 124.1 292.9 124.1 293.5 123.5 293.7 123.7 294 123.6 294.2 123.7 294.2 124 294.1 124.5 294.3 124.6 294.8 124.2 295.2 124.1 295.1 124.6 297.4 121.7 295.6 124.6 296.6 123.6 296.7 123.7L290.8 131.9A64 64 0 0 0 281.9 126.4Z" fill="#dad8ec"/><path d="M287.3 115.6 287.5 115.7 286.9 117.4 287.9 115.9 286.5 119.1 286.8 118.9 287.3 118.4 287.2 119.1 287.2 119.5 287.2 120 287.3 120.3 287.4 120.5 287.3 121 289.3 117.8 288 120.7 288.2 120.7 289.6 118.7 287.8 122.3 288.9 120.8 288.6 121.7 288.6 122 290.6 119 288.5 123 288.8 122.9 289.1 122.8 288.9 123.6 289.1 123.6 289.7 123.1 289.9 123.1 289.6 123.9 290.1 123.6 290.2 123.8 292.7 120.1 290.6 123.9 292.1 121.9 290.9 124.2 293.8 120 291.2 124.5 291.5 124.4 292.1 123.8 292.5 123.6 294.2 121.4 292.7 124.1 292.9 124.1 293.5 123.5 293.7 123.7 294 123.6 294.2 123.7 294.2 124 294.1 124.5 294.3 124.6 294.8 124.2 295.2 124.1 295.1 124.6 297.4 121.7 295.6 124.6 296.6 123.6 296.7 123.7" fill="none" stroke="#a9a4d2" stroke-width="0.45"/><path d="M297.7 124.8 296.7 126.4 299.4 123.4 297.1 126.7 297 127.2 297.9 126.3 297.4 127.3 297.4 127.6 297.4 128 297.9 127.6 297.5 128.5 301 124.5 298.3 128.1 298.5 128.2 298.5 128.5 298.7 128.6 298.3 129.4 301.7 125.6 298.9 129.3 298.5 130.1 298.6 130.3 298.9 130.2 299.1 130.3 301.4 128 299.5 130.5 299.4 130.9 300.8 129.7 300.2 130.7 299.7 131.4 300.3 131.1 300 131.7 300.3 131.7 301.9 130.3 301.6 130.9 301.2 131.6 301.3 131.8 304.1 129.2 302 131.6 302 132 302.2 132.1 303 131.5 302.6 132.2 302.8 132.3 306.2 129.1 304.1 131.6 303.8 132.2 303.8 132.5 304.4 132.2 304.9 132 304.8 132.3 305.4 132.1 305.9 131.9 305.8 132.2 306.2 132.2 306.1 132.6L299.2 139.2A64 64 0 0 0 291.8 132.6Z" fill="#dad8ec"/><path d="M297.7 124.8 296.7 126.4 299.4 123.4 297.1 126.7 297 127.2 297.9 126.3 297.4 127.3 297.4 127.6 297.4 128 297.9 127.6 297.5 128.5 301 124.5 298.3 128.1 298.5 128.2 298.5 128.5 298.7 128.6 298.3 129.4 301.7 125.6 298.9 129.3 298.5 130.1 298.6 130.3 298.9 130.2 299.1 130.3 301.4 128 299.5 130.5 299.4 130.9 300.8 129.7 300.2 130.7 299.7 131.4 300.3 131.1 300 131.7 300.3 131.7 301.9 130.3 301.6 130.9 301.2 131.6 301.3 131.8 304.1 129.2 302 131.6 302 132 302.2 132.1 303 131.5 302.6 132.2 302.8 132.3 306.2 129.1 304.1 131.6 303.8 132.2 303.8 132.5 304.4 132.2 304.9 132 304.8 132.3 305.4 132.1 305.9 131.9 305.8 132.2 306.2 132.2 306.1 132.6" fill="none" stroke="#a9a4d2" stroke-width="0.45"/><path d="M307.9 135.2 310.3 133.4 308.5 135.3 307.9 136.1 308.5 135.8 308 136.6 307.6 137.2 308.1 137.1 307.9 137.5 308 137.7 308 137.9 308.9 137.5 308.9 137.7 308.3 138.5 308.3 138.7 309.2 138.3 308.4 139.2 309.2 138.8 309.7 138.7 309.1 139.5 311.5 137.8 309 140 308.9 140.4 309.9 139.9 309.7 140.3 309.3 140.9 312.3 138.8 310.2 140.7 310.6 140.7 310 141.3 310.4 141.3 310 141.8 310.4 141.8 311 141.6 310.3 142.4 312 141.5 310 143.1 309.8 143.5 310.5 143.3 310.7 143.4 310.9 143.4 310.6 143.9 310.6 144.1 311.6 143.7 311.9 143.8 311.4 144.4 311.6 144.5 312.5 144.1 312.2 144.5 312.8 144.4 312.6 144.8 313 144.8 317.1 142.4 315.6 143.6 313.8 145 313.7 145.3 313.7 145.6 313.9 145.7 313.8 146 314.1 146 314.9 145.8 314.2 146.4 314.2 146.7 314.3 146.9 318.4 144.7 315.4 146.7 316 146.6 315.8 147 318.1 145.9 316 147.4 316 147.6 316.9 147.3 319.3 146.2 319.4 146.4 319.5 146.6 319.6 146.8 317.5 148.2 316.7 148.9 318.7 148 320.1 147.5 320.2 147.7 318.4 148.9 318.7 149L309.7 153.8A64 64 0 0 0 301.1 141.3Z" fill="#dad8ec"/><path d="M307.9 135.2 310.3 133.4 308.5 135.3 307.9 136.1 308.5 135.8 308 136.6 307.6 137.2 308.1 137.1 307.9 137.5 308 137.7 308 137.9 308.9 137.5 308.9 137.7 308.3 138.5 308.3 138.7 309.2 138.3 308.4 139.2 309.2 138.8 309.7 138.7 309.1 139.5 311.5 137.8 309 140 308.9 140.4 309.9 139.9 309.7 140.3 309.3 140.9 312.3 138.8 310.2 140.7 310.6 140.7 310 141.3 310.4 141.3 310 141.8 310.4 141.8 311 141.6 310.3 142.4 312 141.5 310 143.1 309.8 143.5 310.5 143.3 310.7 143.4 310.9 143.4 310.6 143.9 310.6 144.1 311.6 143.7 311.9 143.8 311.4 144.4 311.6 144.5 312.5 144.1 312.2 144.5 312.8 144.4 312.6 144.8 313 144.8 317.1 142.4 315.6 143.6 313.8 145 313.7 145.3 313.7 145.6 313.9 145.7 313.8 146 314.1 146 314.9 145.8 314.2 146.4 314.2 146.7 314.3 146.9 318.4 144.7 315.4 146.7 316 146.6 315.8 147 318.1 145.9 316 147.4 316 147.6 316.9 147.3 319.3 146.2 319.4 146.4 319.5 146.6 319.6 146.8 317.5 148.2 316.7 148.9 318.7 148 320.1 147.5 320.2 147.7 318.4 148.9 318.7 149" fill="none" stroke="#a9a4d2" stroke-width="0.45"/><path d="M318.9 150.5 318.5 150.9 320.1 150.4 319.1 151.1 318.9 151.4 319.5 151.4 319.1 151.8 321.6 150.9 321.8 151 321.9 151.2 319.2 152.7 319.2 152.9 319.1 153.2 319.9 153.1 318.9 153.8 322.4 152.4 318.2 154.5 319 154.4 318.9 154.7 318.5 155.1 318.7 155.2 318.9 155.3 318.6 155.7 319 155.7 319.3 155.8 318.7 156.3 321.8 155.2 318.7 156.7 319.5 156.6 319.1 157 319.1 157.2 319.1 157.5 318.4 157.9 318.2 158.2 318.1 158.5 318.3 158.6 322.3 157.4 321.9 157.7 319.7 158.8 318.8 159.3 318.6 159.6 318.3 159.9 320.9 159.2 319.4 160 319.1 160.3 319.5 160.3 321.4 159.9 319.6 160.8 319.2 161.1 321.8 160.4 324.3 159.8 320.9 161.2 324.1 160.3 322.3 161.1 321.5 161.6 321.7 161.8 324.1 161.3 321.7 162.2 321.2 162.6 320.6 163 320.7 163.2 321.6 163.1 321.5 163.3 321.4 163.6 321.9 163.7 321.4 164 321.9 164.1 322.8 164 322.2 164.4 323 164.4 323.3 164.6 322.5 165 323.9 164.8 324.1 165 323.5 165.4 325.6 165 325.4 165.3 326.9 165.2 325.7 165.7 324.5 166.2L315.2 168.5A64 64 0 0 0 310.2 154.8Z" fill="#dad8ec"/><path d="M318.9 150.5 318.5 150.9 320.1 150.4 319.1 151.1 318.9 151.4 319.5 151.4 319.1 151.8 321.6 150.9 321.8 151 321.9 151.2 319.2 152.7 319.2 152.9 319.1 153.2 319.9 153.1 318.9 153.8 322.4 152.4 318.2 154.5 319 154.4 318.9 154.7 318.5 155.1 318.7 155.2 318.9 155.3 318.6 155.7 319 155.7 319.3 155.8 318.7 156.3 321.8 155.2 318.7 156.7 319.5 156.6 319.1 157 319.1 157.2 319.1 157.5 318.4 157.9 318.2 158.2 318.1 158.5 318.3 158.6 322.3 157.4 321.9 157.7 319.7 158.8 318.8 159.3 318.6 159.6 318.3 159.9 320.9 159.2 319.4 160 319.1 160.3 319.5 160.3 321.4 159.9 319.6 160.8 319.2 161.1 321.8 160.4 324.3 159.8 320.9 161.2 324.1 160.3 322.3 161.1 321.5 161.6 321.7 161.8 324.1 161.3 321.7 162.2 321.2 162.6 320.6 163 320.7 163.2 321.6 163.1 321.5 163.3 321.4 163.6 321.9 163.7 321.4 164 321.9 164.1 322.8 164 322.2 164.4 323 164.4 323.3 164.6 322.5 165 323.9 164.8 324.1 165 323.5 165.4 325.6 165 325.4 165.3 326.9 165.2 325.7 165.7 324.5 166.2" fill="none" stroke="#a9a4d2" stroke-width="0.45"/><path d="M327.3 167.2 326 167.7 325.1 168.1 324.4 168.4 324.4 168.7 324.5 168.9 324.3 169.1 327.6 168.7 324 169.6 327.7 169.1 324.4 169.9 323.6 170.3 325.2 170.2 323.6 170.7 324.4 170.8 324.2 171 326.7 170.8 324.3 171.5 323.9 171.7 324.2 171.9 323.7 172.2 323.1 172.5 327.5 172 322.9 172.9 322.8 173.1 327.9 172.6 323.5 173.4 322.8 173.8 322.5 174 322.9 174.1 323.3 174.3 322.6 174.6 322.5 174.8 322.6 175 323.2 175.1 324 175.3 327 175.1 322.8 175.8 323.1 176 323.8 176.1 323 176.4 322.6 176.6 323.4 176.7 323.1 177 323.4 177.2 323.6 177.3 323.5 177.6 323.4 177.8 323 178 323.6 178.2 324.3 178.3 324.4 178.5 324 178.8 323.9 179 323.7 179.2 324.5 179.3 324.9 179.5 324.7 179.7 325.3 179.9 325.7 180.1 324.8 180.4 325.4 180.5 329 180.6 326.1 180.9 324.9 181.2 325.8 181.4 325.6 181.6 325.3 181.8 325.6 182 325.8 182.2 325.1 182.4 325.4 182.6 326.4 182.8 326.5 183 326.7 183.2L317 183.3A64 64 0 0 0 315.5 169.8Z" fill="#dad8ec"/><path d="M327.3 167.2 326 167.7 325.1 168.1 324.4 168.4 324.4 168.7 324.5 168.9 324.3 169.1 327.6 168.7 324 169.6 327.7 169.1 324.4 169.9 323.6 170.3 325.2 170.2 323.6 170.7 324.4 170.8 324.2 171 326.7 170.8 324.3 171.5 323.9 171.7 324.2 171.9 323.7 172.2 323.1 172.5 327.5 172 322.9 172.9 322.8 173.1 327.9 172.6 323.5 173.4 322.8 173.8 322.5 174 322.9 174.1 323.3 174.3 322.6 174.6 322.5 174.8 322.6 175 323.2 175.1 324 175.3 327 175.1 322.8 175.8 323.1 176 323.8 176.1 323 176.4 322.6 176.6 323.4 176.7 323.1 177 323.4 177.2 323.6 177.3 323.5 177.6 323.4 177.8 323 178 323.6 178.2 324.3 178.3 324.4 178.5 324 178.8 323.9 179 323.7 179.2 324.5 179.3 324.9 179.5 324.7 179.7 325.3 179.9 325.7 180.1 324.8 180.4 325.4 180.5 329 180.6 326.1 180.9 324.9 181.2 325.8 181.4 325.6 181.6 325.3 181.8 325.6 182 325.8 182.2 325.1 182.4 325.4 182.6 326.4 182.8 326.5 183 326.7 183.2" fill="none" stroke="#a9a4d2" stroke-width="0.45"/><path d="M326.6 184.8 327.7 185 326 185.2 326.8 185.4 326.2 185.6 325.8 185.8 325.6 186 326.2 186.3 326.1 186.5 325.5 186.6 326.1 186.9 325 187 324.9 187.3 324.5 187.4 325.1 187.7 329 188.1 325.1 188.1 324.6 188.3 324.8 188.5 324 188.6 323.6 188.8 323.7 189 323.6 189.2 324.3 189.5 324 189.7 324.8 189.9 323.4 190 324.2 190.3 324.9 190.6 323.9 190.7 322.8 190.8 323.9 191.1 323.6 191.3 323.2 191.4 323.7 191.7 326.4 192.2 322.8 192 322.9 192.2 325.6 192.8 322.5 192.6 322.4 192.8 322.9 193 327.6 193.9 322.6 193.4 322.9 193.7 322.6 193.8 322.1 194 322.1 194.2 326.2 195 323.4 194.8 323.2 194.9 322.9 195.1 322.7 195.3 323.2 195.6 323.2 195.8 322.6 195.9 323.7 196.3 323.6 196.5 323.7 196.7 323.5 196.9 327.7 197.9 323.4 197.3 323.7 197.6 323.5 197.7 327.6 198.8 326.5 198.8 323.9 198.4 323.5 198.6 327.4 199.6 323.9 199.1 325.7 199.7 324 199.5 323.7 199.7 324.1 200 327.1 200.9 324.2 200.5L315.3 198.3A64 64 0 0 0 317 184.6Z" fill="#dad8ec"/><path d="M326.6 184.8 327.7 185 326 185.2 326.8 185.4 326.2 185.6 325.8 185.8 325.6 186 326.2 186.3 326.1 186.5 325.5 186.6 326.1 186.9 325 187 324.9 187.3 324.5 187.4 325.1 187.7 329 188.1 325.1 188.1 324.6 188.3 324.8 188.5 324 188.6 323.6 188.8 323.7 189 323.6 189.2 324.3 189.5 324 189.7 324.8 189.9 323.4 190 324.2 190.3 324.9 190.6 323.9 190.7 322.8 190.8 323.9 191.1 323.6 191.3 323.2 191.4 323.7 191.7 326.4 192.2 322.8 192 322.9 192.2 325.6 192.8 322.5 192.6 322.4 192.8 322.9 193 327.6 193.9 322.6 193.4 322.9 193.7 322.6 193.8 322.1 194 322.1 194.2 326.2 195 323.4 194.8 323.2 194.9 322.9 195.1 322.7 195.3 323.2 195.6 323.2 195.8 322.6 195.9 323.7 196.3 323.6 196.5 323.7 196.7 323.5 196.9 327.7 197.9 323.4 197.3 323.7 197.6 323.5 197.7 327.6 198.8 326.5 198.8 323.9 198.4 323.5 198.6 327.4 199.6 323.9 199.1 325.7 199.7 324 199.5 323.7 199.7 324.1 200 327.1 200.9 324.2 200.5" fill="none" stroke="#a9a4d2" stroke-width="0.45"/><path d="M324 204.4 323.1 204.3 323.4 204.7 325.8 205.6 322.4 204.8 322.6 205.1 322.7 205.3 323.3 205.7 322.6 205.8 322 205.8 321.7 205.9 322 206.2 321.3 206.2 321.3 206.4 323.3 207.3 321.3 206.9 320.8 206.9 320.5 207 322 207.8 319.8 207.2 320.3 207.6 323.5 209 324 209.4 319.8 208.1 319.8 208.3 319.7 208.5 319.1 208.5 319.1 208.7 319.9 209.2 319.5 209.3 318.7 209.2 318.4 209.3 318.6 209.6 319.5 210.2 318.6 210 317.6 209.9 320.9 211.4 318.5 210.7 318.5 210.9 323 213 318.9 211.5 320.3 212.3 317.9 211.5 320.3 212.8 317.2 211.7 321.1 213.6 317.6 212.3 317.3 212.4 317.7 212.8 317.3 212.8 317.3 213 317.8 213.5 317.7 213.7 317.2 213.7 320.1 215.3 317 214 317.7 214.6 321.5 216.6 317.4 214.9 317.3 215.1 320.7 217 317.1 215.5 317.5 215.9 317.6 216.1 317.6 216.4 317.2 216.4 316.9 216.5 317.6 217.1 317.3 217.2 317.8 217.7 319.7 218.9 320.1 219.4 317.8 218.4 317.7 218.6 318.3 219.2 317.5 219L309.1 214.3A64 64 0 0 0 314.4 201.6Z" fill="#dad8ec"/><path d="M324 204.4 323.1 204.3 323.4 204.7 325.8 205.6 322.4 204.8 322.6 205.1 322.7 205.3 323.3 205.7 322.6 205.8 322 205.8 321.7 205.9 322 206.2 321.3 206.2 321.3 206.4 323.3 207.3 321.3 206.9 320.8 206.9 320.5 207 322 207.8 319.8 207.2 320.3 207.6 323.5 209 324 209.4 319.8 208.1 319.8 208.3 319.7 208.5 319.1 208.5 319.1 208.7 319.9 209.2 319.5 209.3 318.7 209.2 318.4 209.3 318.6 209.6 319.5 210.2 318.6 210 317.6 209.9 320.9 211.4 318.5 210.7 318.5 210.9 323 213 318.9 211.5 320.3 212.3 317.9 211.5 320.3 212.8 317.2 211.7 321.1 213.6 317.6 212.3 317.3 212.4 317.7 212.8 317.3 212.8 317.3 213 317.8 213.5 317.7 213.7 317.2 213.7 320.1 215.3 317 214 317.7 214.6 321.5 216.6 317.4 214.9 317.3 215.1 320.7 217 317.1 215.5 317.5 215.9 317.6 216.1 317.6 216.4 317.2 216.4 316.9 216.5 317.6 217.1 317.3 217.2 317.8 217.7 319.7 218.9 320.1 219.4 317.8 218.4 317.7 218.6 318.3 219.2 317.5 219" fill="none" stroke="#a9a4d2" stroke-width="0.45"/><path d="M316.9 221 316.4 220.9 315.8 220.8 315.1 220.7 316.4 221.7 314.8 221 314.2 220.8 314.1 221 317.6 223.4 313.7 221.3 314.2 221.8 314.5 222.3 313.4 221.8 317.1 224.4 313 222.1 312.9 222.2 314.3 223.4 312.8 222.7 312.1 222.4 312.9 223.2 315.7 225.3 311.5 222.8 311.9 223.3 313 224.3 312.3 224.1 310.7 223.2 311.4 223.9 311.3 224.1 311 224.2 311.3 224.6 310.6 224.4 310 224.2 310.4 224.8 310.4 225 309.3 224.5 309.9 225.1 309.9 225.4 309.5 225.4 310.1 226 309.8 226.1 311.8 227.9 309.4 226.3 308.8 226.1 308.2 225.9 308.7 226.5 308.4 226.6 308.3 226.7 308.1 226.8 310.2 228.8 308.2 227.5 308.4 227.9 312 231 308.2 228.2 307.7 228.1 307.8 228.4 307.8 228.7 309.8 230.6 307.8 229.2 309.6 231.1 307.3 229.3 307.5 229.8 307.2 229.8 310.7 233.1 310.1 232.8 309.7 232.8 307.6 231.3 307.7 231.6 307.6 231.8 307.4 231.9 307.6 232.4 307.5 232.6 307.1 232.5 307.4 233 307.2 233.2 306.3 232.6 306.8 233.3 306.4 233.3L299.8 227.1A64 64 0 0 0 308.2 215.9Z" fill="#dad8ec"/><path d="M316.9 221 316.4 220.9 315.8 220.8 315.1 220.7 316.4 221.7 314.8 221 314.2 220.8 314.1 221 317.6 223.4 313.7 221.3 314.2 221.8 314.5 222.3 313.4 221.8 317.1 224.4 313 222.1 312.9 222.2 314.3 223.4 312.8 222.7 312.1 222.4 312.9 223.2 315.7 225.3 311.5 222.8 311.9 223.3 313 224.3 312.3 224.1 310.7 223.2 311.4 223.9 311.3 224.1 311 224.2 311.3 224.6 310.6 224.4 310 224.2 310.4 224.8 310.4 225 309.3 224.5 309.9 225.1 309.9 225.4 309.5 225.4 310.1 226 309.8 226.1 311.8 227.9 309.4 226.3 308.8 226.1 308.2 225.9 308.7 226.5 308.4 226.6 308.3 226.7 308.1 226.8 310.2 228.8 308.2 227.5 308.4 227.9 312 231 308.2 228.2 307.7 228.1 307.8 228.4 307.8 228.7 309.8 230.6 307.8 229.2 309.6 231.1 307.3 229.3 307.5 229.8 307.2 229.8 310.7 233.1 310.1 232.8 309.7 232.8 307.6 231.3 307.7 231.6 307.6 231.8 307.4 231.9 307.6 232.4 307.5 232.6 307.1 232.5 307.4 233 307.2 233.2 306.3 232.6 306.8 233.3 306.4 233.3" fill="none" stroke="#a9a4d2" stroke-width="0.45"/><path d="M305.5 234.2 304.6 233.6 305.1 234.4 304.5 234.1 304.7 234.6 304.2 234.4 304.3 234.8 304.1 234.9 304 235.1 303 234.4 303.3 235 306 238.1 302.9 235.1 303 235.6 302.8 235.7 302.6 235.8 302.2 235.6 301.5 235.2 301.8 235.9 301.3 235.6 301.5 236.1 300.9 235.8 300.6 235.8 301.8 237.4 303.9 240 300.5 236.5 301.1 237.5 299.4 235.9 299.4 236.3 300.5 237.8 299.3 236.7 301.6 239.7 298.8 236.8 298.4 236.6 299.8 238.6 298.3 237.1 298.6 237.8 298.3 237.8 297.8 237.5 297.9 237.9 298.2 238.7 297.9 238.5 298.6 239.8 298.1 239.5 299.9 242.1 297.2 239 298.6 241.2 297 239.4 297.8 240.8 296.7 239.7 296.7 240.1 296.9 240.7 296.3 240.3 296.5 240.8 296.8 241.5 297.4 242.8 296 241.2 296.5 242.2 296.4 242.5 296.1 242.4 296 242.6 297.6 245.2 295.5 242.6 295.7 243.3 295.6 243.5 296.4 245 295.9 244.7 296.5 245.9 295.1 244.3L289.4 236.1A64 64 0 0 0 299 228Z" fill="#dad8ec"/><path d="M305.5 234.2 304.6 233.6 305.1 234.4 304.5 234.1 304.7 234.6 304.2 234.4 304.3 234.8 304.1 234.9 304 235.1 303 234.4 303.3 235 306 238.1 302.9 235.1 303 235.6 302.8 235.7 302.6 235.8 302.2 235.6 301.5 235.2 301.8 235.9 301.3 235.6 301.5 236.1 300.9 235.8 300.6 235.8 301.8 237.4 303.9 240 300.5 236.5 301.1 237.5 299.4 235.9 299.4 236.3 300.5 237.8 299.3 236.7 301.6 239.7 298.8 236.8 298.4 236.6 299.8 238.6 298.3 237.1 298.6 237.8 298.3 237.8 297.8 237.5 297.9 237.9 298.2 238.7 297.9 238.5 298.6 239.8 298.1 239.5 299.9 242.1 297.2 239 298.6 241.2 297 239.4 297.8 240.8 296.7 239.7 296.7 240.1 296.9 240.7 296.3 240.3 296.5 240.8 296.8 241.5 297.4 242.8 296 241.2 296.5 242.2 296.4 242.5 296.1 242.4 296 242.6 297.6 245.2 295.5 242.6 295.7 243.3 295.6 243.5 296.4 245 295.9 244.7 296.5 245.9 295.1 244.3" fill="none" stroke="#a9a4d2" stroke-width="0.45"/><path d="M293.1 245.3 292.5 244.8 292.4 244.9 292.2 245.1 291.8 244.8 292.3 245.9 291.4 245 291.8 245.9 291.9 246.6 291.1 245.7 290.8 245.5 290.7 245.7 290.2 245.4 290.1 245.6 289.8 245.4 290.4 246.9 289.8 246.3 289.3 245.9 290.8 248.8 290.2 248.4 288.3 245.4 289.2 247.4 287.8 245.3 288 246.1 287.1 245 287.4 245.8 287.3 246.1 287.8 247.5 286.6 245.8 286.1 245.2 286.4 246.3 285.6 245.2 287.9 249.9 285.1 245.1 285.5 246.2 284.7 245.2 285 246.1 284.5 245.7 284.5 246.1 284.1 245.7 284.5 247 283.9 246.2 283.6 246.1 283.6 246.5 283.8 247.3 283.7 247.8 283.4 247.4 283.1 247.4 283.2 248.1 282.7 247.4 282.8 248.1 282.6 248.2 282.9 249.4 282.1 248.2 282 248.4 282 248.9 282.7 251 281.4 248.7 281.5 249.3 281.4 249.7 282.8 253.5 281.4 250.7 281.3 250.9 281 250.7 280.7 250.5 280.6 250.8 281.1 252.8 280.4 251.7 280.3 251.9 280.2 252.2 279.8 251.8 280.2 253.4 279.6 252.6L276 243.2A64 64 0 0 0 287.9 237.2Z" fill="#dad8ec"/><path d="M293.1 245.3 292.5 244.8 292.4 244.9 292.2 245.1 291.8 244.8 292.3 245.9 291.4 245 291.8 245.9 291.9 246.6 291.1 245.7 290.8 245.5 290.7 245.7 290.2 245.4 290.1 245.6 289.8 245.4 290.4 246.9 289.8 246.3 289.3 245.9 290.8 248.8 290.2 248.4 288.3 245.4 289.2 247.4 287.8 245.3 288 246.1 287.1 245 287.4 245.8 287.3 246.1 287.8 247.5 286.6 245.8 286.1 245.2 286.4 246.3 285.6 245.2 287.9 249.9 285.1 245.1 285.5 246.2 284.7 245.2 285 246.1 284.5 245.7 284.5 246.1 284.1 245.7 284.5 247 283.9 246.2 283.6 246.1 283.6 246.5 283.8 247.3 283.7 247.8 283.4 247.4 283.1 247.4 283.2 248.1 282.7 247.4 282.8 248.1 282.6 248.2 282.9 249.4 282.1 248.2 282 248.4 282 248.9 282.7 251 281.4 248.7 281.5 249.3 281.4 249.7 282.8 253.5 281.4 250.7 281.3 250.9 281 250.7 280.7 250.5 280.6 250.8 281.1 252.8 280.4 251.7 280.3 251.9 280.2 252.2 279.8 251.8 280.2 253.4 279.6 252.6" fill="none" stroke="#a9a4d2" stroke-width="0.45"/><path d="M277.1 255.7 276.2 253.5 275.9 253.4 275.7 253.3 275.5 253.4 275 252.6 275.4 254.4 275.4 255.2 274.5 253 275.3 256.3 274.2 253.3 273.7 252.5 273.4 252.2 273.5 253.2 273.2 253 274 256.6 272.5 252.2 272.4 252.6 272.3 252.8 271.9 252.3 272.2 254.1 271.5 252.2 271.4 252.7 270.9 251.6 270.6 251.4 270.6 252 270.4 252.3 270.2 252.1 269.9 251.9 270.6 255.6 269.7 252.7 270.2 255.8 269.3 252.6 269.8 255.8 269.5 255.6 268.6 252.3 268.6 253.2 268.1 252.2 268.1 252.9 268.6 256.5 267.6 252.6 267.5 253.1 267.4 253.7 267 252.9 266.8 252.9 266.7 253.4 266.6 253.8 266.2 253.1 266.2 254.2 265.9 253.6 265.8 254.1 265.7 254.5 265.5 254.9 265.2 254.5 265 254.3 264.8 254.5 265 256.8 264.5 254.8 264.2 254.7 264.6 258.6 264 255.8 263.7 255.7 263.5 255.6L262.2 246.8A64 64 0 0 0 273.3 244.2Z" fill="#dad8ec"/><path d="M277.1 255.7 276.2 253.5 275.9 253.4 275.7 253.3 275.5 253.4 275 252.6 275.4 254.4 275.4 255.2 274.5 253 275.3 256.3 274.2 253.3 273.7 252.5 273.4 252.2 273.5 253.2 273.2 253 274 256.6 272.5 252.2 272.4 252.6 272.3 252.8 271.9 252.3 272.2 254.1 271.5 252.2 271.4 252.7 270.9 251.6 270.6 251.4 270.6 252 270.4 252.3 270.2 252.1 269.9 251.9 270.6 255.6 269.7 252.7 270.2 255.8 269.3 252.6 269.8 255.8 269.5 255.6 268.6 252.3 268.6 253.2 268.1 252.2 268.1 252.9 268.6 256.5 267.6 252.6 267.5 253.1 267.4 253.7 267 252.9 266.8 252.9 266.7 253.4 266.6 253.8 266.2 253.1 266.2 254.2 265.9 253.6 265.8 254.1 265.7 254.5 265.5 254.9 265.2 254.5 265 254.3 264.8 254.5 265 256.8 264.5 254.8 264.2 254.7 264.6 258.6 264 255.8 263.7 255.7 263.5 255.6" fill="none" stroke="#a9a4d2" stroke-width="0.45"/><path d="M262.7 256.5 262.6 256.9 262.2 256 262 256 261.8 255.7 261.9 258.5 261.3 255.1 261.2 256.3 261.1 256.9 260.8 255.9 260.4 254.8 260.2 254.7 260 254.1 259.8 254.8 259.6 254.5 259.4 254.6 259.2 254.6 259.1 255.8 259 257.1 258.6 254.6 258.6 257.4 258.1 254.1 258 254.7 257.7 253.5 257.5 254.3 257.3 254.2 257.1 254.6 256.9 253.8 256.7 253.7 256.4 253.2 256.3 253.6 256 253 255.9 254.2 255.6 253.1 255.5 254.9 255.4 257.3 255 253.3 254.9 254.7 254.6 253.6 254.5 254.3 254.3 253.9 254.1 255.3 253.9 256.2 253.7 255.2 253.5 255.2 253.2 254.6 253 255.6 252.8 254.6 252.6 255.2 252.4 255.1 252.2 254.5 252 255.4 251.8 254.8 251.5 258.4 251.4 256.2 251.2 256 251 256.2 250.8 255.4 250.5 256 250.3 256.6 250.1 256.5 249.9 256.8 249.7 256.5L250.1 247.4A64 64 0 0 0 261.5 246.9Z" fill="#dad8ec"/><path d="M262.7 256.5 262.6 256.9 262.2 256 262 256 261.8 255.7 261.9 258.5 261.3 255.1 261.2 256.3 261.1 256.9 260.8 255.9 260.4 254.8 260.2 254.7 260 254.1 259.8 254.8 259.6 254.5 259.4 254.6 259.2 254.6 259.1 255.8 259 257.1 258.6 254.6 258.6 257.4 258.1 254.1 258 254.7 257.7 253.5 257.5 254.3 257.3 254.2 257.1 254.6 256.9 253.8 256.7 253.7 256.4 253.2 256.3 253.6 256 253 255.9 254.2 255.6 253.1 255.5 254.9 255.4 257.3 255 253.3 254.9 254.7 254.6 253.6 254.5 254.3 254.3 253.9 254.1 255.3 253.9 256.2 253.7 255.2 253.5 255.2 253.2 254.6 253 255.6 252.8 254.6 252.6 255.2 252.4 255.1 252.2 254.5 252 255.4 251.8 254.8 251.5 258.4 251.4 256.2 251.2 256 251 256.2 250.8 255.4 250.5 256 250.3 256.6 250.1 256.5 249.9 256.8 249.7 256.5" fill="none" stroke="#a9a4d2" stroke-width="0.45"/><path d="M248.6 257 248.4 256.9 248.2 256.4 248.1 256.3 247.8 256.4 247.6 256.7 247.5 255.5 247.2 255.9 246.8 259.3 246.8 256.2 246.6 256 246.1 259.3 246.3 255.1 245.7 259.2 245.8 255.8 245.6 255.3 245.5 254.8 245.3 254.5 245.1 254.2 244.9 254.5 244.8 253.3 244.7 253.1 244.4 253.5 244.4 252.1 244.1 252.6 243.9 253 243.7 252.8 242.8 257.8 243.4 252.2 242.4 257.3 242.8 253.2 242.2 256.3 242.2 254.6 242.3 252.9 241.7 255 241.8 253.2 241.5 253.6 241.2 254.5 241 254.4 241 253.2 240.6 254.1 240.4 254.5 240.1 254.5 239.9 254.5 239.8 254.1 239.6 254.2 239.4 254.2 239.3 253.6 239 253.7 238.6 254.6 237.7 258.1 238.2 254.9 238.1 254.4L239.8 246.1A64 64 0 0 0 249.2 247.4Z" fill="#dad8ec"/><path d="M248.6 257 248.4 256.9 248.2 256.4 248.1 256.3 247.8 256.4 247.6 256.7 247.5 255.5 247.2 255.9 246.8 259.3 246.8 256.2 246.6 256 246.1 259.3 246.3 255.1 245.7 259.2 245.8 255.8 245.6 255.3 245.5 254.8 245.3 254.5 245.1 254.2 244.9 254.5 244.8 253.3 244.7 253.1 244.4 253.5 244.4 252.1 244.1 252.6 243.9 253 243.7 252.8 242.8 257.8 243.4 252.2 242.4 257.3 242.8 253.2 242.2 256.3 242.2 254.6 242.3 252.9 241.7 255 241.8 253.2 241.5 253.6 241.2 254.5 241 254.4 241 253.2 240.6 254.1 240.4 254.5 240.1 254.5 239.9 254.5 239.8 254.1 239.6 254.2 239.4 254.2 239.3 253.6 239 253.7 238.6 254.6 237.7 258.1 238.2 254.9 238.1 254.4" fill="none" stroke="#a9a4d2" stroke-width="0.45"/><path d="M236 257.7 236.2 255.7 236.3 254.7 236.2 254.2 235.9 254.2 235.3 255.9 234.7 257.4 235.2 254.4 235.3 253.3 235.1 253.2 235.1 252.3 234.7 253 234.7 252.2 234.6 251.9 233.7 254.6 234 252.5 234 251.9 233.7 252 233.2 253 233.4 251.8 233.1 251.7 232.9 251.7 232.6 252.1 232.6 251.5 231.9 253.1 232.4 250.7 230.9 254.9 231.8 251.3 231.6 251.3 231.8 249.9 229.8 255.5 229.8 254.8 230.5 251.8 230.6 251 230.1 251.7 230.3 250.4 229.7 251.6 229.8 250.8 229.5 250.9 229.4 250.6 227.7 254.8 228.8 251 227.2 254.8 228.5 250.6 228.1 251.1 227.9 251.1 226.3 254.8 226.9 252.6 227.2 251.2 226.9 251.4 226.4 252 226.2 252 225.7 252.7 224.9 254.2L229.3 243A64 64 0 0 0 238.7 245.9Z" fill="#dad8ec"/><path d="M236 257.7 236.2 255.7 236.3 254.7 236.2 254.2 235.9 254.2 235.3 255.9 234.7 257.4 235.2 254.4 235.3 253.3 235.1 253.2 235.1 252.3 234.7 253 234.7 252.2 234.6 251.9 233.7 254.6 234 252.5 234 251.9 233.7 252 233.2 253 233.4 251.8 233.1 251.7 232.9 251.7 232.6 252.1 232.6 251.5 231.9 253.1 232.4 250.7 230.9 254.9 231.8 251.3 231.6 251.3 231.8 249.9 229.8 255.5 229.8 254.8 230.5 251.8 230.6 251 230.1 251.7 230.3 250.4 229.7 251.6 229.8 250.8 229.5 250.9 229.4 250.6 227.7 254.8 228.8 251 227.2 254.8 228.5 250.6 228.1 251.1 227.9 251.1 226.3 254.8 226.9 252.6 227.2 251.2 226.9 251.4 226.4 252 226.2 252 225.7 252.7 224.9 254.2" fill="none" stroke="#a9a4d2" stroke-width="0.45"/><path d="M221.8 250.7 221.9 250 222 249.3 221.5 249.8 221.7 249 221.5 249 221.5 248.3 221.2 248.6 219.9 250.8 221.4 247.2 221.1 247.3 221.1 246.9 220.7 247.2 220.7 246.8 220.4 247 218 251.1 220.1 246.6 219.7 246.8 220.1 245.8 219.7 246 219.7 245.6 219 246.4 217.5 248.8 218.7 246.1 218.9 245.3 217.5 247.5 218.2 245.7 218.4 245 218 245.3 218.5 243.9 218.3 244 218.3 243.5 216.3 246.5 217.4 244.3 216.3 245.8 216.4 245.1 216.9 243.9 217 243.4 217.3 242.5 216.8 242.9 216.8 242.6 216.2 243.1 215.7 243.5 212.7 247.9 215 243.8 215.3 243 214.8 243.4 214.8 243 214.4 243.3 212 246.6 214.3 242.7 213.1 244.2 213.6 243.1 213.5 242.9 213.6 242.3 212.6 243.4 212.8 242.7 212.5 242.9 211.1 244.5 212.5 242.1 210.4 244.7 211.5 242.7 209.2 245.7 211.6 242 209.9 244 211.1 241.9 210.6 242.2 210.5 242.1 210.3 242 209.8 242.3 210.2 241.4 207.7 244.4 209.6 241.5 207.7 243.6 207.7 243.3 208.6 241.8 208.4 241.7 207.8 242.1 207.7 241.8L213.8 234.1A64 64 0 0 0 226.1 241.6Z" fill="#dad8ec"/><path d="M221.8 250.7 221.9 250 222 249.3 221.5 249.8 221.7 249 221.5 249 221.5 248.3 221.2 248.6 219.9 250.8 221.4 247.2 221.1 247.3 221.1 246.9 220.7 247.2 220.7 246.8 220.4 247 218 251.1 220.1 246.6 219.7 246.8 220.1 245.8 219.7 246 219.7 245.6 219 246.4 217.5 248.8 218.7 246.1 218.9 245.3 217.5 247.5 218.2 245.7 218.4 245 218 245.3 218.5 243.9 218.3 244 218.3 243.5 216.3 246.5 217.4 244.3 216.3 245.8 216.4 245.1 216.9 243.9 217 243.4 217.3 242.5 216.8 242.9 216.8 242.6 216.2 243.1 215.7 243.5 212.7 247.9 215 243.8 215.3 243 214.8 243.4 214.8 243 214.4 243.3 212 246.6 214.3 242.7 213.1 244.2 213.6 243.1 213.5 242.9 213.6 242.3 212.6 243.4 212.8 242.7 212.5 242.9 211.1 244.5 212.5 242.1 210.4 244.7 211.5 242.7 209.2 245.7 211.6 242 209.9 244 211.1 241.9 210.6 242.2 210.5 242.1 210.3 242 209.8 242.3 210.2 241.4 207.7 244.4 209.6 241.5 207.7 243.6 207.7 243.3 208.6 241.8 208.4 241.7 207.8 242.1 207.7 241.8" fill="none" stroke="#a9a4d2" stroke-width="0.45"/><path d="M206.2 241.1 204.8 242.4 204.7 242.3 206.1 240.2 206.7 239.2 206.3 239.3 206.3 239 206.5 238.4 203.7 241.4 206.1 238.2 206.2 237.8 206.3 237.3 204.1 239.5 202.8 240.7 204.5 238.5 202.5 240.4 205.8 236.4 205.6 236.3 205.1 236.6 205.4 236 205 236.1 205.4 235.3 202.7 238 201.8 238.6 203.8 236.2 202.7 237 204.6 234.7 203 236 205 233.7 204.7 233.6 203.6 234.6 204 233.8 203.9 233.7 203.8 233.4 203.3 233.6 203.4 233.2 202.6 233.8 202.8 233.3 202.7 233.1 202.8 232.7 202.7 232.5 202.1 232.8 201.3 233.3 202 232.3 201.8 232.3 201.5 232.3 201.4 232.1 199.6 233.5 201.6 231.4 200.2 232.3 198.2 233.9 200 232 196.7 234.7 200 231.5 199.7 231.4 199.2 231.6 198.5 232 198.4 231.8 199 231 198.4 231.1 198.4 230.9 197.7 231.2 197.1 231.5 197.3 231 196.4 231.5L204.2 224.9A64 64 0 0 0 212.6 233.2Z" fill="#dad8ec"/><path d="M206.2 241.1 204.8 242.4 204.7 242.3 206.1 240.2 206.7 239.2 206.3 239.3 206.3 239 206.5 238.4 203.7 241.4 206.1 238.2 206.2 237.8 206.3 237.3 204.1 239.5 202.8 240.7 204.5 238.5 202.5 240.4 205.8 236.4 205.6 236.3 205.1 236.6 205.4 236 205 236.1 205.4 235.3 202.7 238 201.8 238.6 203.8 236.2 202.7 237 204.6 234.7 203 236 205 233.7 204.7 233.6 203.6 234.6 204 233.8 203.9 233.7 203.8 233.4 203.3 233.6 203.4 233.2 202.6 233.8 202.8 233.3 202.7 233.1 202.8 232.7 202.7 232.5 202.1 232.8 201.3 233.3 202 232.3 201.8 232.3 201.5 232.3 201.4 232.1 199.6 233.5 201.6 231.4 200.2 232.3 198.2 233.9 200 232 196.7 234.7 200 231.5 199.7 231.4 199.2 231.6 198.5 232 198.4 231.8 199 231 198.4 231.1 198.4 230.9 197.7 231.2 197.1 231.5 197.3 231 196.4 231.5" fill="none" stroke="#a9a4d2" stroke-width="0.45"/><path d="M196.7 230.3 196.9 229.8 196.6 229.8 196.5 229.6 194.2 231.2 197 228.6 196.7 228.6 196.5 228.5 197.1 227.8 196.5 228 196.2 227.9 193.6 229.7 195.9 227.7 195.8 227.5 195.9 227.2 196.5 226.4 195.6 226.9 196.1 226.2 196.4 225.7 196.5 225.4 196.2 225.4 192.5 227.8 196.5 224.7 196.2 224.6 195.5 224.9 193.1 226.4 195.8 224.2 193.9 225.3 191.4 226.8 195.5 223.6 195.4 223.5 195.4 223.2 195.3 223.1 194.8 223.2 194.5 223.1 194.9 222.6 194.5 222.6 194.4 222.5 194.2 222.4 193.9 222.3 190.5 224.3 193.2 222.2 193.2 222 193.5 221.6 191.6 222.6 192.7 221.6 190.3 222.9 192.5 221.3 192.4 221.1 191.8 221.2 191 221.4 192.2 220.5 191.8 220.5 190.9 220.8 190.5 220.8 190.8 220.4 190.6 220.3 190 220.4 189.7 220.3 189.9 219.9 188.6 220.4 188.6 220.2 186.8 221L197.3 215A64 64 0 0 0 203.8 224.4Z" fill="#dad8ec"/><path d="M196.7 230.3 196.9 229.8 196.6 229.8 196.5 229.6 194.2 231.2 197 228.6 196.7 228.6 196.5 228.5 197.1 227.8 196.5 228 196.2 227.9 193.6 229.7 195.9 227.7 195.8 227.5 195.9 227.2 196.5 226.4 195.6 226.9 196.1 226.2 196.4 225.7 196.5 225.4 196.2 225.4 192.5 227.8 196.5 224.7 196.2 224.6 195.5 224.9 193.1 226.4 195.8 224.2 193.9 225.3 191.4 226.8 195.5 223.6 195.4 223.5 195.4 223.2 195.3 223.1 194.8 223.2 194.5 223.1 194.9 222.6 194.5 222.6 194.4 222.5 194.2 222.4 193.9 222.3 190.5 224.3 193.2 222.2 193.2 222 193.5 221.6 191.6 222.6 192.7 221.6 190.3 222.9 192.5 221.3 192.4 221.1 191.8 221.2 191 221.4 192.2 220.5 191.8 220.5 190.9 220.8 190.5 220.8 190.8 220.4 190.6 220.3 190 220.4 189.7 220.3 189.9 219.9 188.6 220.4 188.6 220.2 186.8 221" fill="none" stroke="#a9a4d2" stroke-width="0.45"/><path d="M187.8 218.3 186.4 218.8 187.3 218.1 187.9 217.5 187.8 217.3 188.4 216.8 188.3 216.6 187.6 216.7 188.6 216 188.4 215.9 188.5 215.6 187.7 215.7 187.9 215.4 188.3 215 187.9 215 187.8 214.8 187.9 214.5 189 213.8 188.3 213.9 188.8 213.4 187.9 213.6 188.7 213 187.9 213.2 188.2 212.8 188.3 212.5 188.6 212.1 188.7 211.9 188.2 211.9 188.4 211.6 188 211.5 184.4 212.9 187.2 211.5 188.9 210.5 189 210.3 188.1 210.4 188.6 210 187.5 210.2 188.2 209.7 187.4 209.8 187.6 209.5 187.9 209.2 183.9 210.5 187.3 209 184.1 210 187 208.7 187.2 208.4 187 208.2 186.6 208.2 186.8 207.9 186.2 207.9 184.5 208.3 185.8 207.6 185.7 207.4 185.9 207.1 185 207.2 182.4 207.9 184.8 206.8 182.8 207.3 184.7 206.4 181.1 207.4 180.7 207.3 183.7 206.1 180.6 206.9 183.7 205.7 181.8 206.1 184.4 205 181.2 205.8 180.3 205.9 182.7 204.9 182.2 204.8 181.8 204.7L191.7 201.8A64 64 0 0 0 196.5 213.6Z" fill="#dad8ec"/><path d="M187.8 218.3 186.4 218.8 187.3 218.1 187.9 217.5 187.8 217.3 188.4 216.8 188.3 216.6 187.6 216.7 188.6 216 188.4 215.9 188.5 215.6 187.7 215.7 187.9 215.4 188.3 215 187.9 215 187.8 214.8 187.9 214.5 189 213.8 188.3 213.9 188.8 213.4 187.9 213.6 188.7 213 187.9 213.2 188.2 212.8 188.3 212.5 188.6 212.1 188.7 211.9 188.2 211.9 188.4 211.6 188 211.5 184.4 212.9 187.2 211.5 188.9 210.5 189 210.3 188.1 210.4 188.6 210 187.5 210.2 188.2 209.7 187.4 209.8 187.6 209.5 187.9 209.2 183.9 210.5 187.3 209 184.1 210 187 208.7 187.2 208.4 187 208.2 186.6 208.2 186.8 207.9 186.2 207.9 184.5 208.3 185.8 207.6 185.7 207.4 185.9 207.1 185 207.2 182.4 207.9 184.8 206.8 182.8 207.3 184.7 206.4 181.1 207.4 180.7 207.3 183.7 206.1 180.6 206.9 183.7 205.7 181.8 206.1 184.4 205 181.2 205.8 180.3 205.9 182.7 204.9 182.2 204.8 181.8 204.7" fill="none" stroke="#a9a4d2" stroke-width="0.45"/><path d="M182.1 201.8 179.5 202.3 182.2 201.4 182.1 201.2 182 201 182.2 200.7 182.6 200.4 179 201.1 181.8 200.2 182.4 199.8 181.9 199.7 182 199.5 182.7 199.1 183.8 198.7 183.5 198.5 183 198.4 183.2 198.1 184 197.8 183 197.8 182.7 197.6 180.6 197.8 182.9 197.2 183.1 196.9 182.9 196.8 179.2 197.2 182.9 196.3 178.9 196.8 183.8 195.8 183.8 195.5 183.5 195.4 184.1 195.1 184.1 194.9 183.1 194.8 183.9 194.5 183.2 194.4 182.8 194.3 182.9 194 180.5 194.2 183.5 193.5 181.7 193.6 183.6 193.1 182.9 193 180.7 193.1 181.4 192.8 182.3 192.5 179.1 192.7 182.2 192.1 178.6 192.3 182.1 191.7 180.6 191.6 181.2 191.4 181.4 191.1 181.2 190.9 182 190.6 177.3 190.9 181.2 190.3 181.5 190.1 181.6 189.9 181 189.7 180.9 189.5 181.2 189.3 181.6 189 181.1 188.9 180.7 188.7 180.2 188.5 177.1 188.5 179.7 188.1L189.1 187.5A64 64 0 0 0 191 199.5Z" fill="#dad8ec"/><path d="M182.1 201.8 179.5 202.3 182.2 201.4 182.1 201.2 182 201 182.2 200.7 182.6 200.4 179 201.1 181.8 200.2 182.4 199.8 181.9 199.7 182 199.5 182.7 199.1 183.8 198.7 183.5 198.5 183 198.4 183.2 198.1 184 197.8 183 197.8 182.7 197.6 180.6 197.8 182.9 197.2 183.1 196.9 182.9 196.8 179.2 197.2 182.9 196.3 178.9 196.8 183.8 195.8 183.8 195.5 183.5 195.4 184.1 195.1 184.1 194.9 183.1 194.8 183.9 194.5 183.2 194.4 182.8 194.3 182.9 194 180.5 194.2 183.5 193.5 181.7 193.6 183.6 193.1 182.9 193 180.7 193.1 181.4 192.8 182.3 192.5 179.1 192.7 182.2 192.1 178.6 192.3 182.1 191.7 180.6 191.6 181.2 191.4 181.4 191.1 181.2 190.9 182 190.6 177.3 190.9 181.2 190.3 181.5 190.1 181.6 189.9 181 189.7 180.9 189.5 181.2 189.3 181.6 189 181.1 188.9 180.7 188.7 180.2 188.5 177.1 188.5 179.7 188.1" fill="none" stroke="#a9a4d2" stroke-width="0.45"/><path d="M179.3 186.2 180.5 185.9 180 185.8 180.3 185.5 180.6 185.3 180.8 185.1 181 184.9 180.7 184.7 176.9 184.5 181 184.3 180.8 184.1 180.4 183.9 181.1 183.7 181.9 183.5 181.9 183.2 183 183 182 182.8 180.3 182.6 182.9 182.4 179 182.2 177.4 181.9 181.5 181.8 181.9 181.6 182.1 181.4 179.7 181.1 181.9 181 182.3 180.8 179.2 180.5 183.4 180.4 182.9 180.2 183 180 183.3 179.8 182.5 179.6 178.1 179.1 183.1 179.2 178.2 178.7 183.4 178.8 179.7 178.4 182.8 178.4 180.1 178 183.4 178 182.7 177.8 183.1 177.6 182.6 177.4 182.4 177.1 182.5 177 178.4 176.4 182.6 176.6 182.2 176.3 181.6 176 181.7 175.8 181.4 175.6 177.4 174.9 181.1 175.1 181 174.9 179.1 174.5 177.5 174.1 180 174.2 179.8 173.9 179.7 173.7 179.7 173.5 180.2 173.3 179.3 173 177.7 172.6 180 172.7 180.2 172.5L189.7 173.9A64 64 0 0 0 189 185.8Z" fill="#dad8ec"/><path d="M179.3 186.2 180.5 185.9 180 185.8 180.3 185.5 180.6 185.3 180.8 185.1 181 184.9 180.7 184.7 176.9 184.5 181 184.3 180.8 184.1 180.4 183.9 181.1 183.7 181.9 183.5 181.9 183.2 183 183 182 182.8 180.3 182.6 182.9 182.4 179 182.2 177.4 181.9 181.5 181.8 181.9 181.6 182.1 181.4 179.7 181.1 181.9 181 182.3 180.8 179.2 180.5 183.4 180.4 182.9 180.2 183 180 183.3 179.8 182.5 179.6 178.1 179.1 183.1 179.2 178.2 178.7 183.4 178.8 179.7 178.4 182.8 178.4 180.1 178 183.4 178 182.7 177.8 183.1 177.6 182.6 177.4 182.4 177.1 182.5 177 178.4 176.4 182.6 176.6 182.2 176.3 181.6 176 181.7 175.8 181.4 175.6 177.4 174.9 181.1 175.1 181 174.9 179.1 174.5 177.5 174.1 180 174.2 179.8 173.9 179.7 173.7 179.7 173.5 180.2 173.3 179.3 173 177.7 172.6 180 172.7 180.2 172.5" fill="none" stroke="#a9a4d2" stroke-width="0.45"/><path d="M180.5 171.5 180.7 171.3 181 171.1 180.3 170.8 178.1 170.2 178.1 170 181.5 170.4 179.8 169.9 181 169.9 182.3 169.9 181.8 169.6 179.9 169 182.4 169.3 182.9 169.2 182.9 169 183.2 168.8 182.9 168.5 183.9 168.5 184.2 168.4 183.8 168.1 179.7 167 182.2 167.3 183.8 167.5 184.2 167.4 184.7 167.3 184.4 167 183.4 166.5 181.2 165.8 184.8 166.5 184.3 166.1 184 165.8 182.1 165.1 184.4 165.5 184.7 165.4 185.2 165.3 185.3 165.2 184.3 164.6 184 164.4 184 164.2 185.1 164.2 185.1 164 181.1 162.7 184.7 163.5 180.5 162 180.6 161.8 184.4 162.8 183.4 162.2 184 162.2 184.5 162.1 183.7 161.7 181.7 160.8 183.8 161.3 183.5 161 183.7 160.8 184.5 160.9 184 160.5 181.2 159.3 183.5 159.8L192.4 162.9A64 64 0 0 0 189.9 173Z" fill="#dad8ec"/><path d="M180.5 171.5 180.7 171.3 181 171.1 180.3 170.8 178.1 170.2 178.1 170 181.5 170.4 179.8 169.9 181 169.9 182.3 169.9 181.8 169.6 179.9 169 182.4 169.3 182.9 169.2 182.9 169 183.2 168.8 182.9 168.5 183.9 168.5 184.2 168.4 183.8 168.1 179.7 167 182.2 167.3 183.8 167.5 184.2 167.4 184.7 167.3 184.4 167 183.4 166.5 181.2 165.8 184.8 166.5 184.3 166.1 184 165.8 182.1 165.1 184.4 165.5 184.7 165.4 185.2 165.3 185.3 165.2 184.3 164.6 184 164.4 184 164.2 185.1 164.2 185.1 164 181.1 162.7 184.7 163.5 180.5 162 180.6 161.8 184.4 162.8 183.4 162.2 184 162.2 184.5 162.1 183.7 161.7 181.7 160.8 183.8 161.3 183.5 161 183.7 160.8 184.5 160.9 184 160.5 181.2 159.3 183.5 159.8" fill="none" stroke="#a9a4d2" stroke-width="0.45"/><path d="M184.4 159 185.1 159 185.4 158.9 185.5 158.7 185.2 158.3 185.8 158.3 183.1 157.1 185.8 157.9 185.8 157.7 185.6 157.4 186.5 157.5 184.4 156.5 186.6 157.1 186.3 156.7 186.9 156.8 185.6 156 188 156.8 187.7 156.4 187.1 156 188.6 156.4 187.9 155.8 188.6 155.9 188.3 155.6 189 155.7 188.4 155.2 189.3 155.4 189.3 155.1 189.4 154.9 189.3 154.7 189.6 154.6 188.8 154 189.1 153.9 189.3 153.8 189.7 153.8 186.8 152.2 189.1 153 185.5 151.1 185.5 150.8 189.2 152.4 188.4 151.8 188.8 151.7 189.5 151.8 189.1 151.4 189.4 151.4 189.8 151.3 189.4 150.9 189.8 150.9 186.2 148.7 188.9 149.9 189.9 150.2 189.5 149.8 189 149.2 188.6 148.8 186.4 147.4 188.4 148.2 186.3 146.8 188.2 147.6 186.5 146.4 188.8 147.5 186.7 146.1 189.3 147.2 188.7 146.7L197.5 151.7A64 64 0 0 0 192.7 161.9Z" fill="#dad8ec"/><path d="M184.4 159 185.1 159 185.4 158.9 185.5 158.7 185.2 158.3 185.8 158.3 183.1 157.1 185.8 157.9 185.8 157.7 185.6 157.4 186.5 157.5 184.4 156.5 186.6 157.1 186.3 156.7 186.9 156.8 185.6 156 188 156.8 187.7 156.4 187.1 156 188.6 156.4 187.9 155.8 188.6 155.9 188.3 155.6 189 155.7 188.4 155.2 189.3 155.4 189.3 155.1 189.4 154.9 189.3 154.7 189.6 154.6 188.8 154 189.1 153.9 189.3 153.8 189.7 153.8 186.8 152.2 189.1 153 185.5 151.1 185.5 150.8 189.2 152.4 188.4 151.8 188.8 151.7 189.5 151.8 189.1 151.4 189.4 151.4 189.8 151.3 189.4 150.9 189.8 150.9 186.2 148.7 188.9 149.9 189.9 150.2 189.5 149.8 189 149.2 188.6 148.8 186.4 147.4 188.4 148.2 186.3 146.8 188.2 147.6 186.5 146.4 188.8 147.5 186.7 146.1 189.3 147.2 188.7 146.7" fill="none" stroke="#a9a4d2" stroke-width="0.45"/><path d="M190.8 144.2 188.8 142.7 190.5 143.5 190.9 143.5 190.9 143.3 192 143.7 191.3 143 192 143.2 192.4 143.2 192.9 143.3 192.8 143 193 142.9 190.1 140.6 193.2 142.5 191 140.7 194.1 142.6 190.8 140 194.6 142.4 194.4 142 192.6 140.5 194.9 141.9 194.5 141.4 194.4 141 192.8 139.6 195 140.9 196 141.4 192.7 138.7 196.1 141 196.5 141.1 196.7 141 196.5 140.5 197.4 140.9 196.9 140.3 197.5 140.5 193.3 137 194.1 137.3 195.1 137.8 197.4 139.4 198.3 139.8 197.4 138.9 198 139.1 197.9 138.7 197.9 138.5 198.6 138.8 198.3 138.3 198.3 138 199 138.4 199.3 138.4 199.4 138.1 199.9 138.3 199 137.3 199.8 137.7 198.4 136.2 199.7 137.1 199.3 136.4 197.4 134.5 196.2 133.1 199.3 135.6 199.6 135.5 198.5 134.3 199.8 135.2 199.9 135 199.2 134.1 200.7 135.2 200.7 134.9 200.3 134.3 200.7 134.3 200.5 133.9 201.1 134.2 201.3 134.1 201 133.5 201 133.2 200 132 201.3 132.9 199.2 130.5 200.5 131.5 201.5 132.2 199.3 129.7 201.6 131.7 202.2 132 201.5 131 202.2 131.4 201.7 130.6 202 130.7 201.8 130.1L208.7 137.3A64 64 0 0 0 198.9 149.3Z" fill="#dad8ec"/><path d="M190.8 144.2 188.8 142.7 190.5 143.5 190.9 143.5 190.9 143.3 192 143.7 191.3 143 192 143.2 192.4 143.2 192.9 143.3 192.8 143 193 142.9 190.1 140.6 193.2 142.5 191 140.7 194.1 142.6 190.8 140 194.6 142.4 194.4 142 192.6 140.5 194.9 141.9 194.5 141.4 194.4 141 192.8 139.6 195 140.9 196 141.4 192.7 138.7 196.1 141 196.5 141.1 196.7 141 196.5 140.5 197.4 140.9 196.9 140.3 197.5 140.5 193.3 137 194.1 137.3 195.1 137.8 197.4 139.4 198.3 139.8 197.4 138.9 198 139.1 197.9 138.7 197.9 138.5 198.6 138.8 198.3 138.3 198.3 138 199 138.4 199.3 138.4 199.4 138.1 199.9 138.3 199 137.3 199.8 137.7 198.4 136.2 199.7 137.1 199.3 136.4 197.4 134.5 196.2 133.1 199.3 135.6 199.6 135.5 198.5 134.3 199.8 135.2 199.9 135 199.2 134.1 200.7 135.2 200.7 134.9 200.3 134.3 200.7 134.3 200.5 133.9 201.1 134.2 201.3 134.1 201 133.5 201 133.2 200 132 201.3 132.9 199.2 130.5 200.5 131.5 201.5 132.2 199.3 129.7 201.6 131.7 202.2 132 201.5 131 202.2 131.4 201.7 130.6 202 130.7 201.8 130.1" fill="none" stroke="#a9a4d2" stroke-width="0.45"/><path d="M201.4 127.6 202.8 128.8 203.8 129.6 203.5 128.9 202.1 127.1 202.2 126.8 204.7 129.3 204.8 129.1 203.1 126.8 205.8 129.6 205.5 128.9 203.2 126 206 128.9 206 128.6 206.4 128.7 206.8 128.8 206.5 128.1 207.3 128.8 207.2 128.4 207.8 128.8 207.8 128.4 208.5 129 208 128 208.7 128.5 208.3 127.8 209 128.3 208.9 127.8 209.7 128.5 206.9 124.6 210.1 128.3 207.6 124.8 210.2 127.8 210.5 127.8 210.2 127.1 210.5 127.2 210.7 127.1 210.8 126.9 210.8 126.6 209 123.8 211.3 126.6 210.4 124.9 211.5 126.2 212.1 126.6 211.9 126 212.1 126 209.7 122.1 212.2 125.3 212.3 125.1 212.8 125.5 212.6 124.8 213.3 125.5 212.9 124.5 213.6 125.3 213.7 125 213.8 124.8 210.9 120.1 214 124.3 213.6 123.4 212 120.4 214 123.2 214.2 123.1 214.4 123 212.9 120.4 214.5 122.4 212.8 119.4 214 120.8 214.6 121.4 214.7 121.1 215.3 121.7 215.2 121.2 215.3 120.9 215.9 121.5 216.2 121.6 215.8 120.5 216 120.5L220.6 128.3A64 64 0 0 0 209.6 136.5Z" fill="#dad8ec"/><path d="M201.4 127.6 202.8 128.8 203.8 129.6 203.5 128.9 202.1 127.1 202.2 126.8 204.7 129.3 204.8 129.1 203.1 126.8 205.8 129.6 205.5 128.9 203.2 126 206 128.9 206 128.6 206.4 128.7 206.8 128.8 206.5 128.1 207.3 128.8 207.2 128.4 207.8 128.8 207.8 128.4 208.5 129 208 128 208.7 128.5 208.3 127.8 209 128.3 208.9 127.8 209.7 128.5 206.9 124.6 210.1 128.3 207.6 124.8 210.2 127.8 210.5 127.8 210.2 127.1 210.5 127.2 210.7 127.1 210.8 126.9 210.8 126.6 209 123.8 211.3 126.6 210.4 124.9 211.5 126.2 212.1 126.6 211.9 126 212.1 126 209.7 122.1 212.2 125.3 212.3 125.1 212.8 125.5 212.6 124.8 213.3 125.5 212.9 124.5 213.6 125.3 213.7 125 213.8 124.8 210.9 120.1 214 124.3 213.6 123.4 212 120.4 214 123.2 214.2 123.1 214.4 123 212.9 120.4 214.5 122.4 212.8 119.4 214 120.8 214.6 121.4 214.7 121.1 215.3 121.7 215.2 121.2 215.3 120.9 215.9 121.5 216.2 121.6 215.8 120.5 216 120.5" fill="none" stroke="#a9a4d2" stroke-width="0.45"/><path d="M216.4 119.1 217 119.7 216.8 119 217.3 119.3 217.6 119.4 217.5 118.9 216.6 116.7 218.5 119.9 218.6 119.6 217.8 117.7 219 119.5 219 119 219.1 118.7 219.7 119.4 219.9 119.3 218.3 115.8 220.3 119.3 220.5 119.1 220 117.6 221.1 119.3 221.1 118.9 221.2 118.7 221.6 119 222.2 119.9 220.1 114.9 220.5 115.4 222.4 118.8 223 119.7 222.4 117.8 222.6 117.9 223.6 119.4 223.7 119.3 223.7 118.7 223.1 116.8 223.3 116.8 224.4 118.8 223.9 117.1 223.2 115 224.1 116.4 225.5 119.2 225.7 119.3 223.8 114.1 225.9 118.7 226.2 118.8 225.3 116.2 226.3 118.1 226.6 118.2 226.7 117.8 225.4 114.1 227 117.5 225.8 113.8 227.2 116.8 227.5 117.2 227.8 117.3 227.5 115.9 227.8 116.3 228.1 116.4 228.4 116.5 228.6 116.5 228.5 115.7 228.8 116 229 116 229.1 115.4 229.4 115.9 229.5 115.3 229.9 115.9 229.9 115.2 230 115 230.2 115 230.3 114.5 230.3 113.9 230.1 112.7 230.1 111.9 230.8 113.4 231.1 113.5 231.4 113.9 230.7 110.8 231.8 113.7L234.4 122.3A64 64 0 0 0 221.4 127.9Z" fill="#dad8ec"/><path d="M216.4 119.1 217 119.7 216.8 119 217.3 119.3 217.6 119.4 217.5 118.9 216.6 116.7 218.5 119.9 218.6 119.6 217.8 117.7 219 119.5 219 119 219.1 118.7 219.7 119.4 219.9 119.3 218.3 115.8 220.3 119.3 220.5 119.1 220 117.6 221.1 119.3 221.1 118.9 221.2 118.7 221.6 119 222.2 119.9 220.1 114.9 220.5 115.4 222.4 118.8 223 119.7 222.4 117.8 222.6 117.9 223.6 119.4 223.7 119.3 223.7 118.7 223.1 116.8 223.3 116.8 224.4 118.8 223.9 117.1 223.2 115 224.1 116.4 225.5 119.2 225.7 119.3 223.8 114.1 225.9 118.7 226.2 118.8 225.3 116.2 226.3 118.1 226.6 118.2 226.7 117.8 225.4 114.1 227 117.5 225.8 113.8 227.2 116.8 227.5 117.2 227.8 117.3 227.5 115.9 227.8 116.3 228.1 116.4 228.4 116.5 228.6 116.5 228.5 115.7 228.8 116 229 116 229.1 115.4 229.4 115.9 229.5 115.3 229.9 115.9 229.9 115.2 230 115 230.2 115 230.3 114.5 230.3 113.9 230.1 112.7 230.1 111.9 230.8 113.4 231.1 113.5 231.4 113.9 230.7 110.8 231.8 113.7" fill="none" stroke="#a9a4d2" stroke-width="0.45"/><path d="M233.1 112.8 233.4 112.9 233 110.7 233.8 112.8 233.8 111.9 234.4 113.6 234.6 113.3 234.7 112.8 235.1 113.8 235.3 113.6 234.5 109.7 235.8 113.9 235 109.9 235.6 111.1 236.6 114.4 236.5 113.5 236.7 113.4 237 113.7 237.5 114.9 237.2 112.8 237.9 114.8 237.4 111.6 238.3 114.9 238.5 114.7 238.7 114.7 238.9 114.5 238.7 112.5 239.3 114.7 238.4 109.1 239.7 114.3 239.9 114.6 240.1 114.2 240.3 114.4 240.5 114.2 240.7 114.6 240.8 113.7 241.2 114.7 241 112.5 241.6 114.9 241.7 114.4 241.9 114.3 242 113.5 242.3 114 242.4 113.3 242.5 112.9 242.5 111.6 242.8 112.2 243.1 112.5 243.4 113.6 243.6 113.4 243.8 113.4 244 112.8 244.2 112.8 244.3 112 244.6 112.9 244.5 110.8 244.9 112.1 245.2 112.6 245.3 112.2 245.4 110.5 245.7 112 245.7 109.8 246.1 111.2 246.3 111.9 246.5 111.1 246.5 109.3 246.6 107.7 247.1 110.6 247.3 110.8 247.4 109.8 247.6 109.6 247.9 110.4 247.9 107.6 248.1 107.6 248.5 110.1 248.7 109.6 248.9 110.2 249.1 108.6L249.7 119.6A64 64 0 0 0 235.7 121.9Z" fill="#dad8ec"/><path d="M233.1 112.8 233.4 112.9 233 110.7 233.8 112.8 233.8 111.9 234.4 113.6 234.6 113.3 234.7 112.8 235.1 113.8 235.3 113.6 234.5 109.7 235.8 113.9 235 109.9 235.6 111.1 236.6 114.4 236.5 113.5 236.7 113.4 237 113.7 237.5 114.9 237.2 112.8 237.9 114.8 237.4 111.6 238.3 114.9 238.5 114.7 238.7 114.7 238.9 114.5 238.7 112.5 239.3 114.7 238.4 109.1 239.7 114.3 239.9 114.6 240.1 114.2 240.3 114.4 240.5 114.2 240.7 114.6 240.8 113.7 241.2 114.7 241 112.5 241.6 114.9 241.7 114.4 241.9 114.3 242 113.5 242.3 114 242.4 113.3 242.5 112.9 242.5 111.6 242.8 112.2 243.1 112.5 243.4 113.6 243.6 113.4 243.8 113.4 244 112.8 244.2 112.8 244.3 112 244.6 112.9 244.5 110.8 244.9 112.1 245.2 112.6 245.3 112.2 245.4 110.5 245.7 112 245.7 109.8 246.1 111.2 246.3 111.9 246.5 111.1 246.5 109.3 246.6 107.7 247.1 110.6 247.3 110.8 247.4 109.8 247.6 109.6 247.9 110.4 247.9 107.6 248.1 107.6 248.5 110.1 248.7 109.6 248.9 110.2 249.1 108.6" fill="none" stroke="#a9a4d2" stroke-width="0.45"/><text x="253" y="38.9" font-family="Liberation Sans" font-weight="bold" font-size="5.8" fill="#7f8090" text-anchor="middle" dominant-baseline="central">I</text><text x="253" y="51.6" font-family="Liberation Sans" font-weight="bold" font-size="5.8" fill="#7f8090" text-anchor="middle" dominant-baseline="central">II</text><text x="253" y="74.6" font-family="Liberation Sans" font-weight="bold" font-size="5.8" fill="#7f8090" text-anchor="middle" dominant-baseline="central">III</text><text x="253" y="96.7" font-family="Liberation Sans" font-weight="bold" font-size="5.8" fill="#7f8090" text-anchor="middle" dominant-baseline="central">IV</text><text x="253" y="115" font-family="Liberation Sans" font-weight="bold" font-size="5.8" fill="#7f8090" text-anchor="middle" dominant-baseline="central">V</text><text x="253" y="128.8" font-family="Liberation Sans" font-weight="bold" font-size="5.8" fill="#7f8090" text-anchor="middle" dominant-baseline="central">VI</text><path d="M256.9 126.8Q253.8 180.1 276.1 131.6L267.9 128.7Q255.4 173.8 265.4 128.1Z" fill="#2a71b6" fill-opacity="0.92"/><path d="M263.4 127.7Q253.8 180.1 269.9 129.3M259.5 127.1Q253.8 180.1 273.6 130.6M259.9 127.1Q253.8 180.1 273.2 130.4M261.1 127.3Q253.8 180.1 272.1 130M263.1 127.6Q253.8 180.1 270.3 129.4M258.8 127Q253.8 180.1 274.3 130.9M258.7 127Q253.8 180.1 274.5 130.9M260.9 127.2Q253.8 180.1 272.4 130.1M260.9 127.3Q253.8 180.1 272.3 130.1M262.9 127.6Q253.8 180.1 270.4 129.4M264.6 127.9Q253.8 180.1 268.7 128.9M261.9 127.4Q253.8 180.1 271.4 129.8M260.3 127.2Q253.8 180.1 272.9 130.3M264.2 127.8Q253.8 180.1 269.2 129.1M258.8 127Q253.8 180.1 274.4 130.9M262.9 127.6Q253.8 180.1 270.4 129.4" fill="none" stroke="#fff" stroke-width="0.35" stroke-opacity="0.22"/><path d="M280.3 133.7Q255.1 180.7 293 143.2L288 138.8Q259 175.5 285.9 137.2Z" fill="#d9541d" fill-opacity="0.92"/><path d="M284.2 136.1Q255.1 180.7 289.6 140.1M285.1 136.6Q255.1 180.7 288.8 139.4M280.6 133.9Q255.1 180.7 292.8 142.9M281.8 134.6Q255.1 180.7 291.7 142M281.2 134.2Q255.1 180.7 292.3 142.5M282.4 134.9Q255.1 180.7 291.2 141.5M285.1 136.7Q255.1 180.7 288.8 139.4M283.8 135.8Q255.1 180.7 290 140.4M283 135.3Q255.1 180.7 290.7 141M284.8 136.4Q255.1 180.7 289.1 139.7M280.8 134Q255.1 180.7 292.6 142.8M283.6 135.6Q255.1 180.7 290.2 140.6M284.6 136.3Q255.1 180.7 289.3 139.8M281.5 134.3Q255.1 180.7 292 142.2M284.7 136.4Q255.1 180.7 289.2 139.7M280.9 134Q255.1 180.7 292.5 142.7" fill="none" stroke="#fff" stroke-width="0.35" stroke-opacity="0.22"/><path d="M297 147.5Q256.1 181.9 307.9 168.8L304.1 158.7Q261.9 178.9 302.9 156.4Z" fill="#2a71b6" fill-opacity="0.92"/><path d="M300.3 152Q256.1 181.9 306.2 163.5M299.7 151.2Q256.1 181.9 306.5 164.4M300.9 152.9Q256.1 181.9 305.8 162.5M300.1 151.8Q256.1 181.9 306.3 163.8M301.7 154.2Q256.1 181.9 305.2 161.1M302.4 155.4Q256.1 181.9 304.6 159.8M297.9 148.8Q256.1 181.9 307.4 167.3M301.4 153.8Q256.1 181.9 305.4 161.5M298.4 149.4Q256.1 181.9 307.2 166.5M301.5 154Q256.1 181.9 305.3 161.3M297.3 148Q256.1 181.9 307.7 168.2M297.8 148.6Q256.1 181.9 307.5 167.5M298.6 149.6Q256.1 181.9 307.1 166.2M298.5 149.6Q256.1 181.9 307.1 166.3M299.6 151Q256.1 181.9 306.6 164.6M298.7 149.8Q256.1 181.9 307 166" fill="none" stroke="#fff" stroke-width="0.35" stroke-opacity="0.22"/><path d="M308.8 172.9Q256.5 183.5 308.6 194.9L309.8 185.2Q263 183.6 309.8 182.6Z" fill="#d9541d" fill-opacity="0.92"/><path d="M309.7 180.7Q256.5 183.5 309.7 187M309.5 177.7Q256.5 183.5 309.4 190.1M309.1 174.6Q256.5 183.5 309 193.1M309.7 180.1Q256.5 183.5 309.6 187.7M309 173.8Q256.5 183.5 308.8 194M309 174.1Q256.5 183.5 308.9 193.7M309.6 178.2Q256.5 183.5 309.5 189.5M309.6 178.6Q256.5 183.5 309.5 189.2M309.5 177.9Q256.5 183.5 309.4 189.9M309.6 178.5Q256.5 183.5 309.5 189.3M308.9 173.2Q256.5 183.5 308.7 194.6M309.6 178.4Q256.5 183.5 309.5 189.3M309.8 181.6Q256.5 183.5 309.7 186.2M309.7 181Q256.5 183.5 309.7 186.8M309.2 175.6Q256.5 183.5 309.1 192.2M308.9 173.2Q256.5 183.5 308.7 194.6" fill="none" stroke="#fff" stroke-width="0.35" stroke-opacity="0.22"/><path d="M307 201.1Q256 185.2 295.7 220.9L301.7 212.7Q261.7 188.4 303 210.4Z" fill="#2a71b6" fill-opacity="0.92"/><path d="M305.3 205.6Q256 185.2 298.8 217.1M305.3 205.7Q256 185.2 298.8 217.1M305.5 205.2Q256 185.2 298.5 217.5M306.2 203.5Q256 185.2 297.4 218.9M304.3 207.9Q256 185.2 300.2 215.1M305.7 204.7Q256 185.2 298.2 217.9M305.5 205.1Q256 185.2 298.5 217.5M305.7 204.6Q256 185.2 298.1 218M304.1 208.3Q256 185.2 300.4 214.7M304.1 208.3Q256 185.2 300.5 214.7M304.8 206.9Q256 185.2 299.6 216M306.7 202Q256 185.2 296.4 220.2M304.8 206.9Q256 185.2 299.6 216M305.7 204.8Q256 185.2 298.2 217.8M304.6 207.2Q256 185.2 299.8 215.7M303.8 208.9Q256 185.2 300.8 214.1" fill="none" stroke="#fff" stroke-width="0.35" stroke-opacity="0.22"/><path d="M292.9 223.9Q254.9 186.4 275.3 235.7L283.6 231.4Q258.6 191.8 285.7 229.9Z" fill="#d9541d" fill-opacity="0.92"/><path d="M286.8 229.2Q254.9 186.4 282.4 232.1M291.6 225.2Q254.9 186.4 277 235M291.3 225.4Q254.9 186.4 277.2 234.9M288.8 227.6Q254.9 186.4 280.2 233.4M290.8 225.9Q254.9 186.4 277.9 234.5M290.7 226Q254.9 186.4 278 234.5M292.1 224.7Q254.9 186.4 276.3 235.3M292.4 224.4Q254.9 186.4 275.9 235.5M289 227.4Q254.9 186.4 280 233.5M292.6 224.2Q254.9 186.4 275.6 235.6M292.4 224.4Q254.9 186.4 275.9 235.5M290.2 226.4Q254.9 186.4 278.6 234.2M292 224.8Q254.9 186.4 276.4 235.2M289.5 227Q254.9 186.4 279.4 233.8M288.8 227.6Q254.9 186.4 280.2 233.4M288 228.3Q254.9 186.4 281.1 232.8" fill="none" stroke="#fff" stroke-width="0.35" stroke-opacity="0.22"/><path d="M269.4 237.9Q253.5 187 252.1 240.3L259.6 239.9Q254.4 193.4 262.1 239.6Z" fill="#2a71b6" fill-opacity="0.92"/><path d="M268.4 238.2Q253.5 187 253.2 240.3M263.9 239.2Q253.5 187 257.8 240.1M263.3 239.3Q253.5 187 258.3 240M267.9 238.3Q253.5 187 253.7 240.3M267.7 238.4Q253.5 187 253.9 240.3M265.9 238.8Q253.5 187 255.7 240.2M268.1 238.2Q253.5 187 253.4 240.3M263.2 239.4Q253.5 187 258.5 240M264.5 239.1Q253.5 187 257.1 240.1M264.7 239.1Q253.5 187 256.9 240.2M265.5 238.9Q253.5 187 256.1 240.2M264 239.2Q253.5 187 257.7 240.1M263.3 239.3Q253.5 187 258.3 240M265 239Q253.5 187 256.6 240.2M268.5 238.1Q253.5 187 253.1 240.3M269 238Q253.5 187 252.5 240.3" fill="none" stroke="#fff" stroke-width="0.35" stroke-opacity="0.22"/><path d="M248.1 240.1Q252.2 186.9 233.7 236.9L239.5 238.7Q250.9 193.3 242.1 239.2Z" fill="#d9541d" fill-opacity="0.92"/><path d="M246.5 239.9Q252.2 186.9 235.2 237.4M245.2 239.8Q252.2 186.9 236.5 237.8M244.1 239.6Q252.2 186.9 237.6 238.2M247.6 240Q252.2 186.9 234.2 237.1M245.4 239.8Q252.2 186.9 236.2 237.8M246.5 239.9Q252.2 186.9 235.3 237.5M243 239.4Q252.2 186.9 238.6 238.5M243.9 239.6Q252.2 186.9 237.8 238.2M247 240Q252.2 186.9 234.8 237.3M246.8 240Q252.2 186.9 235 237.4M247.2 240Q252.2 186.9 234.6 237.2M245.8 239.8Q252.2 186.9 235.9 237.7M244.9 239.7Q252.2 186.9 236.7 237.9M245.7 239.8Q252.2 186.9 236 237.7M247.1 240Q252.2 186.9 234.7 237.3M244.4 239.6Q252.2 186.9 237.3 238.1" fill="none" stroke="#fff" stroke-width="0.35" stroke-opacity="0.22"/><path d="M226.6 233.8Q250.8 186.2 210 220.7L216.7 227.2Q246.8 191.3 218.7 228.8Z" fill="#2a71b6" fill-opacity="0.92"/><path d="M223 231.7Q250.8 186.2 212.8 223.7M221.2 230.6Q250.8 186.2 214.4 225.1M224.6 232.7Q250.8 186.2 211.5 222.3M219.4 229.3Q250.8 186.2 216 226.6M224 232.4Q250.8 186.2 212 222.8M226 233.4Q250.8 186.2 210.5 221.2M219.5 229.4Q250.8 186.2 215.9 226.5M223.4 232Q250.8 186.2 212.5 223.3M223.7 232.2Q250.8 186.2 212.2 223M225.2 233Q250.8 186.2 211 221.8M223.3 231.9Q250.8 186.2 212.6 223.4M221.1 230.5Q250.8 186.2 214.5 225.3M222.1 231.1Q250.8 186.2 213.6 224.4M226 233.5Q250.8 186.2 210.5 221.1M225.6 233.3Q250.8 186.2 210.7 221.5M220.2 229.9Q250.8 186.2 215.2 225.9" fill="none" stroke="#fff" stroke-width="0.35" stroke-opacity="0.22"/><path d="M208.6 219Q249.9 185.2 199.3 201.9L202.6 209.7Q244.2 188.3 203.9 212Z" fill="#d9541d" fill-opacity="0.92"/><path d="M204.6 213.3Q249.9 185.2 201.9 208.4M204.6 213.3Q249.9 185.2 201.9 208.4M204.4 212.8Q249.9 185.2 202.2 208.9M206 215.5Q249.9 185.2 200.9 206M204.8 213.6Q249.9 185.2 201.8 208.1M207.9 218Q249.9 185.2 199.7 203.1M206.9 216.7Q249.9 185.2 200.3 204.6M204.7 213.5Q249.9 185.2 201.8 208.2M206.4 216Q249.9 185.2 200.6 205.4M205.5 214.7Q249.9 185.2 201.2 206.9M206.2 215.7Q249.9 185.2 200.7 205.7M205.1 214Q249.9 185.2 201.5 207.6M204.9 213.7Q249.9 185.2 201.7 207.9M205 213.8Q249.9 185.2 201.7 207.8M205.8 215Q249.9 185.2 201.1 206.5M207.2 217Q249.9 185.2 200.1 204.2" fill="none" stroke="#fff" stroke-width="0.35" stroke-opacity="0.22"/><path d="M197.6 196Q249.5 183.7 196.6 176.6L196.2 185Q243 184 196.3 187.6Z" fill="#2a71b6" fill-opacity="0.92"/><path d="M196.9 192.4Q249.5 183.7 196.3 180.2M196.4 188.7Q249.5 183.7 196.2 183.9M197.1 193.6Q249.5 183.7 196.4 179M197.3 194.8Q249.5 183.7 196.5 177.8M197.2 194.1Q249.5 183.7 196.4 178.5M197.2 194.2Q249.5 183.7 196.4 178.4M196.4 188.5Q249.5 183.7 196.2 184.2M196.8 191.8Q249.5 183.7 196.3 180.8M196.5 188.9Q249.5 183.7 196.2 183.8M197.2 194Q249.5 183.7 196.4 178.6M196.5 189.7Q249.5 183.7 196.2 182.9M197.1 193.6Q249.5 183.7 196.4 179M196.6 190.3Q249.5 183.7 196.2 182.4M197.1 193.5Q249.5 183.7 196.4 179.1M196.7 190.7Q249.5 183.7 196.2 181.9M196.4 188.7Q249.5 183.7 196.2 183.9" fill="none" stroke="#fff" stroke-width="0.35" stroke-opacity="0.22"/><path d="M197.2 172.9Q249.7 182.3 202.7 157.1L199.8 163.6Q243.6 180.2 199 166Z" fill="#d9541d" fill-opacity="0.92"/><path d="M198.1 169Q249.7 182.3 201 160.6M198.2 168.5Q249.7 182.3 200.8 161.1M197.4 172Q249.7 182.3 202.3 157.9M198.2 168.5Q249.7 182.3 200.8 161.2M197.9 169.7Q249.7 182.3 201.3 160M197.8 170Q249.7 182.3 201.4 159.8M197.3 172.3Q249.7 182.3 202.5 157.6M198.6 167.3Q249.7 182.3 200.3 162.3M197.8 170.3Q249.7 182.3 201.5 159.5M197.9 169.7Q249.7 182.3 201.3 160M197.6 171Q249.7 182.3 201.9 158.8M197.3 172.4Q249.7 182.3 202.5 157.5M198.2 168.6Q249.7 182.3 200.8 161.1M197.6 170.8Q249.7 182.3 201.8 158.9M197.9 169.8Q249.7 182.3 201.3 159.9M197.8 170Q249.7 182.3 201.4 159.7" fill="none" stroke="#fff" stroke-width="0.35" stroke-opacity="0.22"/><path d="M206.4 151.1Q250.6 181 223.5 135L215 141.3Q246.1 176.2 213.2 143Z" fill="#2a71b6" fill-opacity="0.92"/><path d="M212.2 144Q250.6 181 216.1 140.3M207.6 149.4Q250.6 181 221.8 136.1M206.7 150.7Q250.6 181 223.1 135.2M210.3 146Q250.6 181 218.2 138.6M210.5 145.8Q250.6 181 217.9 138.8M206.6 150.8Q250.6 181 223.2 135.2M211.9 144.3Q250.6 181 216.4 140.1M212.1 144.1Q250.6 181 216.2 140.3M212.1 144.1Q250.6 181 216.1 140.3M207.6 149.4Q250.6 181 221.8 136.1M207.9 149Q250.6 181 221.3 136.4M209.7 146.7Q250.6 181 218.9 138.1M208.7 148Q250.6 181 220.2 137.1M212.5 143.7Q250.6 181 215.8 140.6M208.5 148.1Q250.6 181 220.4 137M209.8 146.7Q250.6 181 218.9 138.1" fill="none" stroke="#fff" stroke-width="0.35" stroke-opacity="0.22"/><path d="M226.4 133.3Q252 180.1 248.3 126.9L238.3 128.6Q250.2 173.9 235.8 129.4Z" fill="#d9541d" fill-opacity="0.92"/><path d="M230.7 131.3Q252 180.1 243.7 127.5M231.7 130.8Q252 180.1 242.5 127.7M231.6 130.9Q252 180.1 242.6 127.7M233.1 130.3Q252 180.1 241.1 128M234.6 129.7Q252 180.1 239.5 128.3M231.4 131Q252 180.1 242.9 127.6M232.9 130.4Q252 180.1 241.3 127.9M229.1 132Q252 180.1 245.4 127.2M228.2 132.4Q252 180.1 246.4 127.1M228.9 132Q252 180.1 245.5 127.2M231.2 131.1Q252 180.1 243.1 127.6M233 130.3Q252 180.1 241.2 127.9M231.8 130.8Q252 180.1 242.5 127.7M230.9 131.2Q252 180.1 243.4 127.5M229.7 131.7Q252 180.1 244.7 127.3M227 133Q252 180.1 247.7 126.9" fill="none" stroke="#fff" stroke-width="0.35" stroke-opacity="0.22"/><path d="M257.6 205Q257.7 193.5 257.9 181.9M259.9 205Q262.5 192.3 270.3 181.3M255.7 205Q249.9 190.1 234 181.4M257.2 205Q257.8 193.8 259.8 182.8M257.4 205Q256 191.7 252 178.8M252.3 205Q256.9 190.4 269.9 180M254.1 205Q249.7 189.7 237.3 178M249.4 205Q253.5 193.2 264.8 185.3M254 205Q261.1 191.2 279.1 187M249.2 205Q244.3 187.9 230.6 174.6M253.7 205Q247.9 189.8 231.9 180.7M254.3 205Q250.7 186.2 240.3 169.4M253.2 205Q248.6 194 236.1 188.3M252.3 205Q258 187.6 274.2 175.7M249.7 205Q252.7 191 261.3 178.8M252.1 205Q246.1 188.2 229.5 177.6M259 205Q261.9 189.8 270.3 176.1M254.5 205Q257.6 192.1 266.4 181.2M250.7 205Q246.4 195.2 235 190.4M251.5 205Q247.1 187.4 234.4 172.9M257.7 205Q257.2 187.8 255.6 170.6M259.8 205Q258.7 185 255.7 165.2M256.7 205Q262.3 194.2 276.7 191M256.1 205Q259.1 185.7 267.8 167.7M256.8 205Q259.6 186 267.8 168.2M250.6 205Q253.3 189.1 261 174.5M253.6 205Q255.6 194.8 261.4 185.7M250.2 205Q254.4 191.9 266.2 182.5M249.8 205Q255.3 188.5 270.6 177.1M258.7 205Q260 193.7 264.1 183M253.7 205Q251.7 190.2 245.5 176.4M259.3 205Q263.7 192 276 183.1M249.6 205Q248.8 188.7 246.4 172.5M254.6 205Q251.9 186.1 243.9 168.3M255.1 205Q252.8 189.7 246 175.3M251.8 205Q249.3 187.7 242.1 171.4M254.7 205Q256.4 191.4 261.6 178.5M257.1 205Q258.8 193.3 263.7 182.4M256.8 205Q255.8 188.4 252.7 171.9M250 205Q249 193.8 245.9 182.9M255.5 205Q256.1 190.2 257.8 175.5M252.6 205Q261.7 189.5 284.1 187.7M249.3 205Q249.2 193.5 248.7 182M259.5 205Q258 188.3 253.7 171.9M251.5 205Q259.8 190.6 280.3 188.4M258 205Q263.2 194.8 276.4 191.5M255.9 205Q254.3 191.8 249.7 179.1M255.8 205Q257.8 191.7 263.8 179.3M253.2 205Q258.5 189.4 273.1 178.7M257.8 205Q263.1 191.7 277.3 184" fill="none" stroke="#a0a890" stroke-width="0.35" stroke-opacity="0.5"/><path d="M255.6 205.2Q256.8 198.3 259.5 191.4M258.3 206.3Q252 196.9 237.3 187.5M258.5 205.3Q258.2 196.4 257.5 187.6M252.2 205.5Q252.3 197.3 252.4 189M250.1 206Q250.5 198.8 251.4 191.7M251.4 205.1Q257.3 194 270.9 182.9M255.6 206.1Q259.8 195 269.7 183.9M251.9 204.8Q252.8 199 254.7 193.2M252.6 204.9Q249.9 194.4 243.6 183.9M258.5 205.3Q256.5 199.9 251.7 194.5M258 205.9Q256.1 194.4 251.6 183M250.6 205.8Q252.8 197.6 258 189.4M250 205.3Q250.4 198.9 251.1 192.5M254.3 205.8Q256 196.8 260 187.7M256.3 206.2Q256.3 198.9 256.1 191.5M257.6 206.3Q256.6 199.2 254.2 192M253.3 205.4Q254.4 194.5 256.8 183.5M258.6 206Q257.4 198.8 254.6 191.6M258.4 204.9Q256 196.6 250.6 188.3M257 206.1Q258 198.8 260.3 191.5M257.2 205Q261.7 193.6 272.1 182.3M253.1 205.4Q254.7 199.6 258.6 193.9M253.1 204.9Q251.6 195.2 248.3 185.4M251.6 206.2Q251.9 194.6 252.7 183.1M256.2 204.8Q256.1 199.8 255.7 194.8M254.8 205.7Q255.3 195 256.5 184.3M255.3 205.1Q252.8 193.4 247 181.8M258.2 206.3Q257.8 197.1 256.7 187.9M257.5 206.1Q256 198 252.4 189.8M257.1 206.1Q250.8 196.6 236.3 187.1M251.3 205Q251.6 200 252.2 195M257.7 204.8Q259.1 196.1 262.4 187.3M254.4 205.2Q252.6 195.9 248.3 186.7M251.3 205.7Q252.5 200.3 255.3 194.8M258.6 205.4Q255.4 193.8 247.7 182.2M252.5 205.1Q253.1 199.1 254.5 193.1M253.3 205.1Q254.2 197.7 256.3 190.3M256.8 205.8Q252.7 198.3 243.1 190.9M252.5 205.6Q253.5 195.3 255.9 185.1M258.5 205.3Q253.9 197.2 243.1 189.1M250.1 205.5Q251.4 196.5 254.5 187.5M257.4 205.3Q259.9 198.7 265.7 192.2M253.1 205.3Q253.2 195.6 253.4 185.9M257.6 205Q252.4 197.8 240.5 190.6M258.8 204.9Q254.8 194.1 245.4 183.3M257.5 204.9Q256.3 196.3 253.5 187.7M256.2 205.2Q255.5 198.6 253.9 191.9M255.2 205.3Q253.6 196.1 249.9 186.9M255.6 205.1Q252.9 193.3 246.7 181.4M251.4 205.6Q249.6 197.9 245.4 190.1M252 205.3Q252.3 196.4 253 187.6M252 206.2Q252.3 194.5 252.9 182.9M252.9 206Q253.6 196.8 255.2 187.5M253.4 205.4Q254.3 197.3 256.4 189.3M252.1 204.9Q255.1 194.9 262.1 184.9M253.7 206.1Q253.9 199.4 254.5 192.6M253.4 206.2Q252.9 197.4 252 188.6M253.1 205.4Q252.8 199.9 252.3 194.4M257.4 205.7Q257.8 195.9 258.6 186.2M251.3 205.4Q249.3 197.2 244.6 188.9M258.6 204.8Q255.8 199.2 249.1 193.5M250 206.1Q250 197.5 250.1 188.9M255.5 206.1Q252 196.2 243.6 186.3M253.9 206Q250.6 195.5 243 185.1M258.8 205.7Q262.3 197.5 270.6 189.3M252.3 204.8Q251.8 196.4 250.5 187.9M253.7 205.8Q256.6 195.4 263.2 185M254.3 206.1Q254.1 197.9 253.6 189.7M254 205.9Q255 193.5 257.3 181.2M254.8 205.9Q250.6 200 240.7 194.1" fill="none" stroke="#6d8f3a" stroke-width="0.8" stroke-opacity="0.55"/><path d="M247.5 203Q248 207.5 254.5 207Q261 207.5 262 203L263 194Q254.5 189 246 194Z" fill="#6f8f3e" fill-opacity="0.85"/>
<text x="454.4" y="39.6" font-family="Liberation Sans" font-size="21.5" letter-spacing="1.7" fill="#111">(b)</text><path d="M512.3 50.5L512.3 309.5M532.8 50.5L532.8 309.5M552.5 50.5L552.5 309.5M572 50.5L572 309.5M591.8 50.5L591.8 309.5M610.6 50.5L610.6 309.5M629.2 50.5L629.2 309.5M645.4 50.5L645.4 309.5M662.4 50.5L662.4 309.5M679.2 50.5L679.2 309.5M695.5 50.5L695.5 309.5M710.5 50.5L710.5 309.5M725.2 50.5L725.2 309.5M740 50.5L740 309.5M752.5 50.5L752.5 309.5" stroke="#e4e4e4" stroke-width="0.7" fill="none"/><path d="M500.5 62.4L764 62.4M500.5 75.4L764 75.4M500.5 90.1L764 90.1M500.5 103.2L764 103.2M500.5 118.5L764 118.5M500.5 134.5L764 134.5M500.5 150.9L764 150.9M500.5 167.3L764 167.3M500.5 184.6L764 184.6M500.5 202L764 202M500.5 221.3L764 221.3M500.5 240.2L764 240.2M500.5 259.4L764 259.4M500.5 279.1L764 279.1M500.5 298.4L764 298.4" stroke="#c8c8c8" stroke-width="0.6" fill="none"/><path d="M498.5 62.4L500.5 62.4M498.5 75.4L500.5 75.4M498.5 90.1L500.5 90.1M498.5 103.2L500.5 103.2M498.5 118.5L500.5 118.5M498.5 134.5L500.5 134.5M498.5 150.9L500.5 150.9M498.5 167.3L500.5 167.3M498.5 184.6L500.5 184.6M498.5 202L500.5 202M498.5 221.3L500.5 221.3M498.5 240.2L500.5 240.2M498.5 259.4L500.5 259.4M498.5 279.1L500.5 279.1M498.5 298.4L500.5 298.4M512.3 309.5L512.3 311.5M532.8 309.5L532.8 311.5M552.5 309.5L552.5 311.5M572 309.5L572 311.5M591.8 309.5L591.8 311.5M610.6 309.5L610.6 311.5M629.2 309.5L629.2 311.5M645.4 309.5L645.4 311.5M662.4 309.5L662.4 311.5M679.2 309.5L679.2 311.5M695.5 309.5L695.5 311.5M710.5 309.5L710.5 311.5M725.2 309.5L725.2 311.5M740 309.5L740 311.5M752.5 309.5L752.5 311.5" stroke="#555" stroke-width="0.7" fill="none"/><text x="497.8" y="71.4" font-family="Liberation Sans" font-size="7" fill="#333" text-anchor="end" >Lc4Xm</text><text x="497.8" y="85.2" font-family="Liberation Sans" font-size="7" fill="#333" text-anchor="end" >Lc6Xm</text><text x="497.8" y="99.2" font-family="Liberation Sans" font-size="7" fill="#333" text-anchor="end" >Lc1Xm</text><text x="497.8" y="113.3" font-family="Liberation Sans" font-size="7" fill="#333" text-anchor="end" >Lc4Ns</text><text x="497.8" y="129" font-family="Liberation Sans" font-size="7" fill="#333" text-anchor="end" >Lc6Ns</text><text x="497.8" y="145.2" font-family="Liberation Sans" font-size="7" fill="#333" text-anchor="end" >Lc1Ns</text><text x="497.8" y="161.6" font-family="Liberation Sans" font-size="7" fill="#333" text-anchor="end" >Lc5Xm</text><text x="497.8" y="178.4" font-family="Liberation Sans" font-size="7" fill="#333" text-anchor="end" >Lc5Ns</text><text x="497.8" y="195.8" font-family="Liberation Sans" font-size="7" fill="#333" text-anchor="end" >Lc3Xm</text><text x="497.8" y="214.2" font-family="Liberation Sans" font-size="7" fill="#333" text-anchor="end" >Lc7Xm</text><text x="497.8" y="233.2" font-family="Liberation Sans" font-size="7" fill="#333" text-anchor="end" >Lc3Ns</text><text x="497.8" y="252.3" font-family="Liberation Sans" font-size="7" fill="#333" text-anchor="end" >Lc2Xm</text><text x="497.8" y="271.8" font-family="Liberation Sans" font-size="7" fill="#333" text-anchor="end" >Lc2Ns</text><text x="497.8" y="291.2" font-family="Liberation Sans" font-size="7" fill="#333" text-anchor="end" >Lc7Ns</text><path d="M557.5 62.4h1.1M564.5 62.4h1.1M567.5 62.4h1.1M592.5 62.4h1.1M594.5 62.4h1.1M603.5 62.4h1.1M605.5 62.4h1.1M611.5 62.4h1.1M614.5 62.4h1.1M619 62.4h1.1M623.5 62.4h1.1M593.5 65.8h1.1M594.9 73.5h1.1M552.5 73.5h1.1M594.9 77.8h1.1M626.2 77.3h1.1M554 86.3h1.1M556.5 86.3h1.1M558.8 86.3h1.1M563.5 86.3h1.1M566 86.3h1.1M568.5 86.3h1.1M594.5 86.3h1.1M603.5 86.3h1.1M605.5 86.3h1.1M611.5 86.3h1.1M614.5 86.3h1.1M619 86.3h1.1M621.5 86.3h1.1M624 86.3h1.1M627.5 86.3h1.1M557.5 95.4h1.1M563.5 95.4h1.1M566 95.4h1.1M568.5 95.4h1.1M594.5 95.4h1.1M597.5 95.4h1.1M603.5 95.4h1.1M605.5 95.4h1.1M611.5 95.4h1.1M614.5 95.4h1.1M619 95.4h1.1M621.5 95.4h1.1M624 95.4h1.1M627.5 95.4h1.1M570.8 90.4h1.1M594.9 99.5h1.1M600.5 102h1.1M532.3 103.1h1.1M571 103.1h1.1M591.3 103.1h1.1M552 123h1.1M548.5 129.6h1.1M539.5 132h1.1M529.1 133.3h1.1M551.5 133.3h1.1M539.5 147.2h1.1M607.5 150.8h1.1M554 159.8h1.1M563.3 159.8h1.1M567.5 158h1.1M611.5 159.8h1.1M614.5 159.8h1.1M620 159.8h1.1M626.5 159.8h1.1M554 164.1h1.1M563.3 164.1h1.1M594.5 164.1h1.1M603.5 164.1h1.1M611.5 164.1h1.1M614.5 164.1h1.1M620 164.1h1.1M626.5 164.1h1.1M511.5 170h1.1M528.5 170h1.1M550.5 170h1.1M658.2 62.4h1.1M656.1 64.8h1.1M723.7 62.8h1.1M716.5 64.4h1.1M737 62.4h1.1M747.9 62.8h1.1M737.5 66.9h1.1M752 74h1.1M658.2 74h1.1M656.1 77.5h1.1M710.4 75.5h1.1M711.5 77.5h1.1M646.9 86.3h1.1M661.2 86.3h1.1M719.5 86.3h1.1M723.7 86.3h1.1M737.5 86.3h1.1M741.7 86.3h1.1M661.2 95.5h1.1M737 95.5h1.1M741.7 95.5h1.1M654.1 101.7h1.1M737.5 101.7h1.1M741.5 101.7h1.1M642.8 106.4h1.1M665.3 109.5h1.1M678.7 118.7h1.1M701.5 118.7h1.1M678.5 133.9h1.1M679.5 136.5h1.1M695 134.5h1.1M643.8 147.4h1.1M683.2 147.4h1.1M678.7 150.9h1.1M740.1 156.6h1.1M741.7 159.5h1.1M745.2 162.1h1.1M723.3 159.5h1.1M723.3 164.6h1.1M741.7 164.6h1.1M752 165.6h1.1M710.4 167.2h1.1M666 171.7h1.1M666 175h1.1M678.7 171.7h1.1M512.3 173.1h1.1M529.5 173.1h1.1M529.5 183.5h1.1M550.8 173.1h1.1M550.8 181.6h1.1M665.7 173h1.1M678 173h1.1M678 183.5h1.1M555.8 188.1h1.1M563.5 188.1h1.1M566.5 188.1h1.1M570.1 188.1h1.1M595.2 188.1h1.1M602.9 188.1h1.1M612.5 188.1h1.1M615.5 188.1h1.1M618.3 188.1h1.1M720.5 188.1h1.1M726.2 188.1h1.1M735.9 188.1h1.1M741.7 188.1h1.1M726.2 197h1.1M735.9 193.1h1.1M735.9 202.8h1.1M553.9 217h1.1M558.5 219.3h1.1M568.2 219.3h1.1M656.1 219.3h1.1M723.1 219.3h1.1M740.9 215.5h1.1M746.7 219.3h1.1M512.3 236.7h1.1M518 238h1.1M528.8 236.7h1.1M528.8 240.2h1.1M539.5 240.2h1.1M550.8 236.7h1.1M550.8 240.2h1.1M665.7 236.7h1.1M678 236.7h1.1M678 240.2h1.1M686.5 236.7h1.1M641.4 226.3h1.1M678 224.7h1.1M602.9 247.1h1.1M612.5 247.1h1.1M622.1 247.1h1.1M626 247.1h1.1M722.4 247.1h1.1M741.7 247.1h1.1M602.9 257.9h1.1M612.5 257.9h1.1M615.5 257.9h1.1M619.5 257.9h1.1M624.1 257.9h1.1M656.8 257.9h1.1M720.5 257.9h1.1M740.9 257.9h1.1M512.3 264.5h1.1M665.7 264.5h1.1M678 264.5h1.1M680 266.4h1.1M692.7 266.4h1.1M701.2 260.6h1.1M643.3 275.2h1.1M668.4 275.2h1.1M675.1 278.7h1.1M681.1 278.7h1.1M528.8 276h1.1M532.5 278.7h1.1M587.5 281h1.1M553.9 294.1h1.1M591.3 298.4h1.1M663.4 294.1h1.1M665.8 294.1h1.1M670.3 284.1h1.1M701.2 283.7h1.1" stroke="#555" stroke-width="0.75" fill="none"/><path d="M512.8 298.4L532.8 279.1" stroke="#3f7fc0" stroke-width="1.8" fill="none"/><path d="M532.8 279.1L552.5 259.4" stroke="#b9d98e" stroke-width="1.4" fill="none"/><path d="M552.5 259.4L695.5 118.7" stroke="#f3efb6" stroke-width="1.3" fill="none"/><path d="M695.5 118.7L710.5 103.3" stroke="#f6c98f" stroke-width="1.4" fill="none"/><path d="M710.5 103.3L740 75.5" stroke="#eeeaa8" stroke-width="1.3" fill="none"/><path d="M740 75.5L752.5 62.4" stroke="#d9504a" stroke-width="1.6" fill="none"/><path d="M500.5 50.5V309.5H764V50.5" stroke="#666" stroke-width="1.1" fill="none"/><path d="M500.5 50.5H764" stroke="#777" stroke-width="1" fill="none"/><defs><linearGradient id="mpi" x1="0" y1="0" x2="0" y2="1"><stop offset="0" stop-color="#d7383a"/><stop offset="0.22" stop-color="#f08b50"/><stop offset="0.45" stop-color="#fde69a"/><stop offset="0.58" stop-color="#f7f7b8"/><stop offset="0.78" stop-color="#a8d68a"/><stop offset="0.9" stop-color="#4fa2a8"/><stop offset="1" stop-color="#3d72b8"/></linearGradient></defs><rect x="768.3" y="50" width="12.9" height="57.8" fill="url(#mpi)"/><path d="M768.3 54.2h2.5M778.7 54.2h2.5" stroke="#fff" stroke-width="0.6"/><text x="783.5" y="55.5" font-family="Liberation Sans" font-size="3.8" fill="#444" >0.77</text><path d="M768.3 69h2.5M778.7 69h2.5" stroke="#fff" stroke-width="0.6"/><text x="783.5" y="70.3" font-family="Liberation Sans" font-size="3.8" fill="#444" >0.76</text><path d="M768.3 84.3h2.5M778.7 84.3h2.5" stroke="#fff" stroke-width="0.6"/><text x="783.5" y="85.6" font-family="Liberation Sans" font-size="3.8" fill="#444" >0.75</text><path d="M768.3 98.6h2.5M778.7 98.6h2.5" stroke="#fff" stroke-width="0.6"/><text x="783.5" y="99.9" font-family="Liberation Sans" font-size="3.8" fill="#444" >0.74</text><text x="693.5" y="48" font-family="Liberation Sans" font-size="10.2" fill="#222" >Mean Percent Identity</text><text x="628" y="320" font-family="Liberation Sans" font-size="10" fill="#222" font-style="italic" >hap1</text><text x="0" y="0" font-family="Liberation Sans" font-style="italic" font-size="10" fill="#222" transform="translate(766.5 160) rotate(90)">hap 2</text>
<text x="49.7" y="351.6" font-family="Liberation Sans" font-size="21.5" letter-spacing="1.7" fill="#111">(c)</text><defs><clipPath id="cc"><rect x="0" y="330" width="415" height="300"/></clipPath></defs><g clip-path="url(#cc)"><path d="M368.2 377V614M327.2 377V614M286.2 377V614M245.2 377V614M204.2 377V614M163.2 377V614M122.2 377V614" stroke="#8ab8e2" stroke-width="1.5" stroke-dasharray="12 12.9" fill="none"/><path d="M117 377.2H368.5" stroke="#222" stroke-width="1.3" fill="none"/><text x="368.2" y="375.8" font-family="Liberation Sans" font-size="10.5" fill="#222" text-anchor="middle" >0</text><text x="327.2" y="375.8" font-family="Liberation Sans" font-size="10.5" fill="#222" text-anchor="middle" >5</text><text x="286.2" y="375.8" font-family="Liberation Sans" font-size="10.5" fill="#222" text-anchor="middle" >10</text><text x="245.2" y="375.8" font-family="Liberation Sans" font-size="10.5" fill="#222" text-anchor="middle" >15</text><text x="204.2" y="375.8" font-family="Liberation Sans" font-size="10.5" fill="#222" text-anchor="middle" >20</text><text x="163.2" y="375.8" font-family="Liberation Sans" font-size="10.5" fill="#222" text-anchor="middle" >25</text><text x="122.2" y="375.8" font-family="Liberation Sans" font-size="10.5" fill="#222" text-anchor="middle" >30</text><text x="91" y="381.8" font-family="Liberation Sans" font-size="10" fill="#222" >MYA</text><path d="M117.3 384.6H368.2M321 399.7V414.7M321 399.7H368.2M321 414.7H368.2M322.7 429.8V444.8M322.7 429.8H368.2M322.7 444.8H368.2M252.7 407.2V437.3M252.7 407.2H321M252.7 437.3H322.7M329.2 459.9V474.9M329.2 459.9H368.2M329.2 474.9H368.2M312.2 520.1V535.1M312.2 520.1H368.2M312.2 535.1H368.2M299.8 505V527.6M299.8 505H368.2M299.8 527.6H312.2M284.2 490V516.3M284.2 490H368.2M284.2 516.3H299.8M358.4 565.2V580.2M358.4 565.2H368.2M358.4 580.2H368.2M359.8 595.3V610.4M359.8 595.3H368.2M359.8 610.4H368.2M348.5 572.7V602.8M348.5 572.7H358.4M348.5 602.8H359.8M319.6 550.2V580.4M319.6 550.2H368.2M319.6 580.4H348.5M244.6 503.1V565.3M244.6 503.1H284.2M244.6 565.3H319.6M216.8 467.4V534.2M216.8 467.4H329.2M216.8 534.2H244.6M191.5 422.2V500.8M191.5 422.2H252.7M191.5 500.8H216.8M117.3 384.6V461.5M117.3 461.5H191.5" stroke="#1a1a1a" stroke-width="1.35" fill="none" stroke-linecap="square"/><path d="M318.1 378V617" stroke="#f0a55e" stroke-width="2.1" fill="none"/><text x="371" y="388.2" font-family="Liberation Sans" font-size="10" fill="#222" >Bdi</text><text x="371" y="403.3" font-family="Liberation Sans" font-size="10" fill="#222" >PjNsh2</text><text x="371" y="418.3" font-family="Liberation Sans" font-size="10" fill="#222" >PjNsh1</text><text x="371" y="433.4" font-family="Liberation Sans" font-size="10" fill="#222" >Lch6Nsh1</text><text x="371" y="448.4" font-family="Liberation Sans" font-size="10" fill="#222" >Lch6Nsh2</text><text x="371" y="463.5" font-family="Liberation Sans" font-size="10" fill="#222" >Lch6Xmh1</text><text x="371" y="478.5" font-family="Liberation Sans" font-size="10" fill="#222" >Lch6Xmh2</text><text x="371" y="493.6" font-family="Liberation Sans" font-size="10" fill="#222" >TelE</text><text x="371" y="508.6" font-family="Liberation Sans" font-size="10" fill="#222" >TaeB</text><text x="371" y="523.7" font-family="Liberation Sans" font-size="10" fill="#222" >TaeD</text><text x="371" y="538.7" font-family="Liberation Sans" font-size="10" fill="#222" >TaeA</text><text x="371" y="553.8" font-family="Liberation Sans" font-size="10" fill="#222" >HvuH</text><text x="371" y="568.8" font-family="Liberation Sans" font-size="10" fill="#222" >HbFB19h2</text><text x="371" y="583.9" font-family="Liberation Sans" font-size="10" fill="#222" >HbFB19h1</text><text x="371" y="598.9" font-family="Liberation Sans" font-size="10" fill="#222" >HbPlh2</text><text x="371" y="614" font-family="Liberation Sans" font-size="10" fill="#222" >HbPlh1</text></g>
<text x="454.4" y="351.6" font-family="Liberation Sans" font-size="21.5" letter-spacing="1.7" fill="#111">(d)</text><path d="M534 339.5V468.4H744" stroke="#333" stroke-width="0.8" fill="none"/><text x="529.8" y="464.3" font-family="Liberation Sans" font-size="4.4" fill="#444" text-anchor="end" >0.0</text><text x="529.8" y="446.5" font-family="Liberation Sans" font-size="4.4" fill="#444" text-anchor="end" >0.5</text><text x="529.8" y="428.7" font-family="Liberation Sans" font-size="4.4" fill="#444" text-anchor="end" >1.0</text><text x="529.8" y="410.9" font-family="Liberation Sans" font-size="4.4" fill="#444" text-anchor="end" >1.5</text><text x="529.8" y="393.1" font-family="Liberation Sans" font-size="4.4" fill="#444" text-anchor="end" >2.0</text><text x="529.8" y="375.3" font-family="Liberation Sans" font-size="4.4" fill="#444" text-anchor="end" >2.5</text><text x="529.8" y="357.5" font-family="Liberation Sans" font-size="4.4" fill="#444" text-anchor="end" >3.0</text><text x="543.3" y="475.3" font-family="Liberation Sans" font-size="4.4" fill="#444" text-anchor="middle" >0.0</text><text x="575.3" y="475.3" font-family="Liberation Sans" font-size="4.4" fill="#444" text-anchor="middle" >0.5</text><text x="607.3" y="475.3" font-family="Liberation Sans" font-size="4.4" fill="#444" text-anchor="middle" >1.0</text><text x="639.3" y="475.3" font-family="Liberation Sans" font-size="4.4" fill="#444" text-anchor="middle" >1.5</text><text x="671.3" y="475.3" font-family="Liberation Sans" font-size="4.4" fill="#444" text-anchor="middle" >2.0</text><text x="703.3" y="475.3" font-family="Liberation Sans" font-size="4.4" fill="#444" text-anchor="middle" >2.5</text><text x="735.3" y="475.3" font-family="Liberation Sans" font-size="4.4" fill="#444" text-anchor="middle" >3.0</text><path d="M531.5 462.8H534M531.5 445H534M531.5 427.2H534M531.5 409.4H534M531.5 391.6H534M531.5 373.8H534M531.5 356H534M543.3 468.4V471M575.3 468.4V471M607.3 468.4V471M639.3 468.4V471M671.3 468.4V471M703.3 468.4V471M735.3 468.4V471" stroke="#333" stroke-width="0.6" fill="none"/><text x="0" y="0" font-family="Liberation Sans" font-size="6.7" fill="#333" text-anchor="middle" transform="translate(520.6 402.5) rotate(-90)">kernel density of syntenic blocks</text><text x="639" y="484.5" font-family="Liberation Sans" font-size="6.5" fill="#333" text-anchor="middle">Synonymous nucleotide subsititution (<tspan font-style="italic">K</tspan><tspan font-size="5" dy="1.5">s</tspan><tspan dy="-1.5">)</tspan></text><path d="M543.3 462.7L545.7 462.6L548.1 462.5L550.5 462.5L552.9 462.4L555.3 462.2L557.7 462.1L560.1 461.9L562.5 461.6L564.9 461.4L567.3 461L569.7 460.6L572.1 460.1L574.5 459.5L576.9 458.8L579.3 458.1L581.7 457.2L584.1 456.2L586.5 455.1L588.9 453.9L591.3 452.6L593.7 451.2L596.1 449.6L598.5 448.1L600.9 446.4L603.3 444.7L605.7 443L608.1 441.3L610.5 439.7L612.9 438.1L615.3 436.6L617.7 435.2L620.1 434.1L622.5 433.1L624.9 432.3L627.3 431.7L629.7 431.4L632.1 431.3L634.5 431.5L636.9 431.9L639.3 432.6L641.7 433.4L644.1 434.5L646.5 435.8L648.9 437.2L651.3 438.7L653.7 440.3L656.1 442L658.5 443.7L660.9 445.4L663.3 447.1L665.7 448.7L668.1 450.3L670.5 451.7L672.9 453.1L675.3 454.4L677.7 455.6L680.1 456.6L682.5 457.5L684.9 458.4L687.3 459.1L689.7 459.7L692.1 460.3L694.5 460.8L696.9 461.1L699.3 461.5L701.7 461.7L704.1 462L706.5 462.1L708.9 462.3L711.3 462.4L713.7 462.5L716.1 462.6L718.5 462.6L720.9 462.7L723.3 462.7L725.7 462.7L728.1 462.7L730.5 462.8L732.9 462.8L735.3 462.8" stroke="#2d8a2d" stroke-width="1.3" fill="none" stroke-dasharray="4 2"/><path d="M543.3 462.7L545.7 462.6L548.1 462.5L550.5 462.5L552.9 462.4L555.3 462.2L557.7 462.1L560.1 461.9L562.5 461.6L564.9 461.4L567.3 461L569.7 460.6L572.1 460.1L574.5 459.5L576.9 458.8L579.3 458.1L581.7 457.2L584.1 456.2L586.5 455.1L588.9 453.9L591.3 452.6L593.7 451.2L596.1 449.6L598.5 448.1L600.9 446.4L603.3 444.7L605.7 443L608.1 441.3L610.5 439.7L612.9 438.1L615.3 436.6L617.7 435.2L620.1 434.1L622.5 433.1L624.9 432.3L627.3 431.7L629.7 431.4L632.1 431.3L634.5 431.5L636.9 431.9L639.3 432.6L641.7 433.4L644.1 434.5L646.5 435.8L648.9 437.2L651.3 438.7L653.7 440.3L656.1 442L658.5 443.7L660.9 445.4L663.3 447.1L665.7 448.7L668.1 450.3L670.5 451.7L672.9 453.1L675.3 454.4L677.7 455.6L680.1 456.6L682.5 457.5L684.9 458.4L687.3 459.1L689.7 459.7L692.1 460.3L694.5 460.8L696.9 461.1L699.3 461.5L701.7 461.7L704.1 462L706.5 462.1L708.9 462.3L711.3 462.4L713.7 462.5L716.1 462.6L718.5 462.6L720.9 462.7L723.3 462.7L725.7 462.7L728.1 462.7L730.5 462.8L732.9 462.8L735.3 462.8" stroke="#3c52e0" stroke-width="1.5" fill="none" stroke-dasharray="5 1.5 1.5 1.5"/><path d="M543.3 363.5L544.9 349.4L546.5 344.3L548.1 347.9L549.7 358.2L551.3 373.3L552.9 390.9L554.5 408.5L556.1 424.3L557.7 437.2L559.3 446.8L560.9 453.4L562.5 457.6L564.1 460.1L565.7 461.5L567.3 462.2L568.9 462.5L570.5 462.7L572.1 462.8L573.7 462.8L575.3 462.8L576.9 462.8L578.5 462.8L580.1 462.8L581.7 462.8L583.3 462.8L584.9 462.8L586.5 462.8L588.1 462.8L589.7 462.8L591.3 462.8L592.9 462.8L594.5 462.8L596.1 462.8L597.7 462.8L599.3 462.8L600.9 462.8L602.5 462.8L604.1 462.8L605.7 462.8L607.3 462.8L608.9 462.8L610.5 462.8L612.1 462.8L613.7 462.8L615.3 462.8L616.9 462.8L618.5 462.8L620.1 462.8L621.7 462.8L623.3 462.8L624.9 462.8L626.5 462.8L628.1 462.8L629.7 462.8L631.3 462.8L632.9 462.8L634.5 462.8L636.1 462.8L637.7 462.8L639.3 462.8L640.9 462.8L642.5 462.8L644.1 462.8L645.7 462.8L647.3 462.8L648.9 462.8L650.5 462.8L652.1 462.8L653.7 462.8L655.3 462.8L656.9 462.8L658.5 462.8L660.1 462.8L661.7 462.8L663.3 462.8L664.9 462.8L666.5 462.8L668.1 462.8L669.7 462.8L671.3 462.8L672.9 462.8L674.5 462.8L676.1 462.8L677.7 462.8L679.3 462.8L680.9 462.8L682.5 462.8L684.1 462.8L685.7 462.8L687.3 462.8L688.9 462.8L690.5 462.8L692.1 462.8L693.7 462.8L695.3 462.8L696.9 462.8L698.5 462.8L700.1 462.8L701.7 462.8L703.3 462.8L704.9 462.8L706.5 462.8L708.1 462.8L709.7 462.8L711.3 462.8L712.9 462.8L714.5 462.8L716.1 462.8L717.7 462.8L719.3 462.8L720.9 462.8L722.5 462.8L724.1 462.8L725.7 462.8L727.3 462.8L728.9 462.8L730.5 462.8L732.1 462.8L733.7 462.8L735.3 462.8" stroke="#f4a0a0" stroke-width="0.5" stroke-opacity="0.8" fill="none"/><path d="M543.3 381.2L544.9 365.4L546.5 355.1L548.1 352.6L549.7 356.5L551.3 365.4L552.9 378.1L554.5 392.8L556.1 407.9L557.7 421.9L559.3 433.9L560.9 443.4L562.5 450.4L564.1 455.3L565.7 458.5L567.3 460.4L568.9 461.6L570.5 462.2L572.1 462.5L573.7 462.7L575.3 462.7L576.9 462.8L578.5 462.8L580.1 462.8L581.7 462.8L583.3 462.8L584.9 462.8L586.5 462.8L588.1 462.8L589.7 462.8L591.3 462.8L592.9 462.8L594.5 462.8L596.1 462.8L597.7 462.8L599.3 462.8L600.9 462.8L602.5 462.8L604.1 462.8L605.7 462.8L607.3 462.8L608.9 462.8L610.5 462.8L612.1 462.8L613.7 462.8L615.3 462.8L616.9 462.8L618.5 462.8L620.1 462.8L621.7 462.8L623.3 462.8L624.9 462.8L626.5 462.8L628.1 462.8L629.7 462.8L631.3 462.8L632.9 462.8L634.5 462.8L636.1 462.8L637.7 462.8L639.3 462.8L640.9 462.8L642.5 462.8L644.1 462.8L645.7 462.8L647.3 462.8L648.9 462.8L650.5 462.8L652.1 462.8L653.7 462.8L655.3 462.8L656.9 462.8L658.5 462.8L660.1 462.8L661.7 462.8L663.3 462.8L664.9 462.8L666.5 462.8L668.1 462.8L669.7 462.8L671.3 462.8L672.9 462.8L674.5 462.8L676.1 462.8L677.7 462.8L679.3 462.8L680.9 462.8L682.5 462.8L684.1 462.8L685.7 462.8L687.3 462.8L688.9 462.8L690.5 462.8L692.1 462.8L693.7 462.8L695.3 462.8L696.9 462.8L698.5 462.8L700.1 462.8L701.7 462.8L703.3 462.8L704.9 462.8L706.5 462.8L708.1 462.8L709.7 462.8L711.3 462.8L712.9 462.8L714.5 462.8L716.1 462.8L717.7 462.8L719.3 462.8L720.9 462.8L722.5 462.8L724.1 462.8L725.7 462.8L727.3 462.8L728.9 462.8L730.5 462.8L732.1 462.8L733.7 462.8L735.3 462.8" stroke="#f7b5b5" stroke-width="0.5" stroke-opacity="0.7" fill="none"/><path d="M543.3 364.2L544.9 357.2L546.5 356.3L548.1 359.8L549.7 366.8L551.3 376.6L552.9 388.1L554.5 400.5L556.1 412.7L557.7 424L559.3 433.8L560.9 442L562.5 448.3L564.1 453.1L565.7 456.6L567.3 458.9L568.9 460.5L570.5 461.5L572.1 462.1L573.7 462.4L575.3 462.6L576.9 462.7L578.5 462.8L580.1 462.8L581.7 462.8L583.3 462.8L584.9 462.8L586.5 462.8L588.1 462.8L589.7 462.8L591.3 462.8L592.9 462.8L594.5 462.8L596.1 462.8L597.7 462.8L599.3 462.8L600.9 462.8L602.5 462.8L604.1 462.8L605.7 462.8L607.3 462.8L608.9 462.8L610.5 462.8L612.1 462.8L613.7 462.8L615.3 462.8L616.9 462.8L618.5 462.8L620.1 462.8L621.7 462.8L623.3 462.8L624.9 462.8L626.5 462.8L628.1 462.8L629.7 462.8L631.3 462.8L632.9 462.8L634.5 462.8L636.1 462.8L637.7 462.8L639.3 462.8L640.9 462.8L642.5 462.8L644.1 462.8L645.7 462.8L647.3 462.8L648.9 462.8L650.5 462.8L652.1 462.8L653.7 462.8L655.3 462.8L656.9 462.8L658.5 462.8L660.1 462.8L661.7 462.8L663.3 462.8L664.9 462.8L666.5 462.8L668.1 462.8L669.7 462.8L671.3 462.8L672.9 462.8L674.5 462.8L676.1 462.8L677.7 462.8L679.3 462.8L680.9 462.8L682.5 462.8L684.1 462.8L685.7 462.8L687.3 462.8L688.9 462.8L690.5 462.8L692.1 462.8L693.7 462.8L695.3 462.8L696.9 462.8L698.5 462.8L700.1 462.8L701.7 462.8L703.3 462.8L704.9 462.8L706.5 462.8L708.1 462.8L709.7 462.8L711.3 462.8L712.9 462.8L714.5 462.8L716.1 462.8L717.7 462.8L719.3 462.8L720.9 462.8L722.5 462.8L724.1 462.8L725.7 462.8L727.3 462.8L728.9 462.8L730.5 462.8L732.1 462.8L733.7 462.8L735.3 462.8" stroke="#f8c0c0" stroke-width="0.5" stroke-opacity="0.6" fill="none"/><path d="M543.3 402.7L544.9 386.2L546.5 371.7L548.1 361.7L549.7 358.1L551.3 360.2L552.9 366.2L554.5 375.4L556.1 386.8L557.7 399.3L559.3 411.9L560.9 423.5L562.5 433.7L564.1 442.1L565.7 448.6L567.3 453.5L568.9 456.9L570.5 459.2L572.1 460.7L573.7 461.6L575.3 462.2L576.9 462.5L578.5 462.6L580.1 462.7L581.7 462.8L583.3 462.8L584.9 462.8L586.5 462.8L588.1 462.8L589.7 462.8L591.3 462.8L592.9 462.8L594.5 462.8L596.1 462.8L597.7 462.8L599.3 462.8L600.9 462.8L602.5 462.8L604.1 462.8L605.7 462.8L607.3 462.8L608.9 462.8L610.5 462.8L612.1 462.8L613.7 462.8L615.3 462.8L616.9 462.8L618.5 462.8L620.1 462.8L621.7 462.8L623.3 462.8L624.9 462.8L626.5 462.8L628.1 462.8L629.7 462.8L631.3 462.8L632.9 462.8L634.5 462.8L636.1 462.8L637.7 462.8L639.3 462.8L640.9 462.8L642.5 462.8L644.1 462.8L645.7 462.8L647.3 462.8L648.9 462.8L650.5 462.8L652.1 462.8L653.7 462.8L655.3 462.8L656.9 462.8L658.5 462.8L660.1 462.8L661.7 462.8L663.3 462.8L664.9 462.8L666.5 462.8L668.1 462.8L669.7 462.8L671.3 462.8L672.9 462.8L674.5 462.8L676.1 462.8L677.7 462.8L679.3 462.8L680.9 462.8L682.5 462.8L684.1 462.8L685.7 462.8L687.3 462.8L688.9 462.8L690.5 462.8L692.1 462.8L693.7 462.8L695.3 462.8L696.9 462.8L698.5 462.8L700.1 462.8L701.7 462.8L703.3 462.8L704.9 462.8L706.5 462.8L708.1 462.8L709.7 462.8L711.3 462.8L712.9 462.8L714.5 462.8L716.1 462.8L717.7 462.8L719.3 462.8L720.9 462.8L722.5 462.8L724.1 462.8L725.7 462.8L727.3 462.8L728.9 462.8L730.5 462.8L732.1 462.8L733.7 462.8L735.3 462.8" stroke="#e8403a" stroke-width="0.9" fill="none"/><path d="M543.3 423.7L544.9 410.3L546.5 396.6L548.1 384.5L549.7 375.7L551.3 371.8L552.9 372.9L554.5 377.9L556.1 385.9L557.7 396.2L559.3 407.5L560.9 418.9L562.5 429.4L564.1 438.5L565.7 445.8L567.3 451.5L568.9 455.5L570.5 458.4L572.1 460.2L573.7 461.3L575.3 462L576.9 462.4L578.5 462.6L580.1 462.7L581.7 462.8L583.3 462.8L584.9 462.8L586.5 462.8L588.1 462.8L589.7 462.8L591.3 462.8L592.9 462.8L594.5 462.8L596.1 462.8L597.7 462.8L599.3 462.8L600.9 462.8L602.5 462.8L604.1 462.8L605.7 462.8L607.3 462.8L608.9 462.8L610.5 462.8L612.1 462.8L613.7 462.8L615.3 462.8L616.9 462.8L618.5 462.8L620.1 462.8L621.7 462.8L623.3 462.8L624.9 462.8L626.5 462.8L628.1 462.8L629.7 462.8L631.3 462.8L632.9 462.8L634.5 462.8L636.1 462.8L637.7 462.8L639.3 462.8L640.9 462.8L642.5 462.8L644.1 462.8L645.7 462.8L647.3 462.8L648.9 462.8L650.5 462.8L652.1 462.8L653.7 462.8L655.3 462.8L656.9 462.8L658.5 462.8L660.1 462.8L661.7 462.8L663.3 462.8L664.9 462.8L666.5 462.8L668.1 462.8L669.7 462.8L671.3 462.8L672.9 462.8L674.5 462.8L676.1 462.8L677.7 462.8L679.3 462.8L680.9 462.8L682.5 462.8L684.1 462.8L685.7 462.8L687.3 462.8L688.9 462.8L690.5 462.8L692.1 462.8L693.7 462.8L695.3 462.8L696.9 462.8L698.5 462.8L700.1 462.8L701.7 462.8L703.3 462.8L704.9 462.8L706.5 462.8L708.1 462.8L709.7 462.8L711.3 462.8L712.9 462.8L714.5 462.8L716.1 462.8L717.7 462.8L719.3 462.8L720.9 462.8L722.5 462.8L724.1 462.8L725.7 462.8L727.3 462.8L728.9 462.8L730.5 462.8L732.1 462.8L733.7 462.8L735.3 462.8" stroke="#333" stroke-width="1.1" fill="none"/><rect x="668.7" y="341.9" width="72.3" height="42.9" fill="#fff" stroke="#e0e0e0" stroke-width="0.6" rx="1"/><path d="M670.4 346.2H682" stroke="#e8403a" stroke-width="0.8" fill="none"/><text x="686.3" y="348.3" font-family="Liberation Sans" font-size="6.2" fill="#222" font-style="italic" >Lc6Nsh1-Lc6Xmh1</text><path d="M670.4 354.6H682" stroke="#2d8a2d" stroke-width="1.1" stroke-dasharray="3 1.5" fill="none"/><text x="686.3" y="356.7" font-family="Liberation Sans" font-size="6.2" fill="#222" font-style="italic" >Lc6Nsh1-self</text><path d="M670.4 363H682" stroke="#3c52e0" stroke-width="1.4" stroke-dasharray="4 1.2 1.2 1.2" fill="none"/><text x="686.3" y="365.1" font-family="Liberation Sans" font-size="6.2" fill="#222" font-style="italic" >Lc6Xmh1-self</text><path d="M670.4 371.4H682" stroke="#f5b0b0" stroke-width="0.6" fill="none"/><text x="686.3" y="373.5" font-family="Liberation Sans" font-size="6.2" fill="#222" font-style="italic" >Lc6Nsh1-PjNsh1</text><path d="M670.4 379.8H682" stroke="#333" stroke-width="1.0" fill="none"/><text x="686.3" y="381.9" font-family="Liberation Sans" font-size="6.2" fill="#222" font-style="italic" >Lc6Xmh1-TelE</text>
<text x="454.4" y="486.6" font-family="Liberation Sans" font-size="21.5" letter-spacing="1.7" fill="#111">(e)</text><defs><linearGradient id="rainb" x1="0" y1="0" x2="0" y2="1"><stop offset="0" stop-color="#e040f0"/><stop offset="0.25" stop-color="#4040e0"/><stop offset="0.42" stop-color="#20c0e0"/><stop offset="0.6" stop-color="#30d030"/><stop offset="0.75" stop-color="#e0e020"/><stop offset="0.88" stop-color="#f08010"/><stop offset="1" stop-color="#d01010"/></linearGradient></defs><path d="M519.5 503.3V631.5M535.7 503.3V631.5M553.6 503.3V631.5M565.6 503.3V631.5M582.1 503.3V631.5M596.6 503.3V631.5M505 520.3H613.8M505 539.6H613.8M505 561.5H613.8M505 576.6H613.8M505 596.2H613.8M505 612.2H613.8" stroke="#cdcdcd" stroke-width="0.55" fill="none"/><rect x="505" y="503.3" width="108.8" height="128.2" fill="none" stroke="#bdbdbd" stroke-width="0.7"/><path d="M508.3 519.3l0.8 -1" stroke="#a0d8d0" stroke-width="0.7"/><path d="M606.6 571.8l0.8 1" stroke="#9fe0a0" stroke-width="0.7"/><path d="M576.4 522.3l1.9 2.5" stroke="#f0b0a0" stroke-width="0.7"/><path d="M528.5 579l0.5 0.7" stroke="#7fd0a0" stroke-width="0.7"/><path d="M549.2 530l1.2 1.6" stroke="#c0e890" stroke-width="0.7"/><path d="M532.8 595.2l1.6 2.1" stroke="#a0d8d0" stroke-width="0.7"/><path d="M607 609.5l0.7 -1" stroke="#c0e890" stroke-width="0.7"/><path d="M590.4 552.1l1.9 2.5" stroke="#7fd0a0" stroke-width="0.7"/><path d="M575.2 532.4l1.9 -2.5" stroke="#a0d8d0" stroke-width="0.7"/><path d="M574.2 532.5l1 -1.3" stroke="#7fd0a0" stroke-width="0.7"/><path d="M566.9 565.1l2.3 3.1" stroke="#c0e890" stroke-width="0.7"/><path d="M611.1 603.4l2.2 2.9" stroke="#c0e890" stroke-width="0.7"/><path d="M605.1 609.4l0.7 -0.9" stroke="#c0e890" stroke-width="0.7"/><path d="M603.5 580l1.8 -2.4" stroke="#7fd0a0" stroke-width="0.7"/><path d="M539 609.5l0.7 -0.9" stroke="#9fe0a0" stroke-width="0.7"/><path d="M542 555.3l1.6 -2.1" stroke="#7fd0a0" stroke-width="0.7"/><path d="M517.4 627.4l2.3 -3.1" stroke="#7fd0a0" stroke-width="0.7"/><path d="M524 628.3l1.4 -1.9" stroke="#9fe0a0" stroke-width="0.7"/><path d="M589.6 539.8l2.4 -3.2" stroke="#c0e890" stroke-width="0.7"/><path d="M568.9 611.4l0.7 1" stroke="#a0d8d0" stroke-width="0.7"/><path d="M579.6 626.2l1 1.3" stroke="#7fd0a0" stroke-width="0.7"/><path d="M610.2 548.6l0.7 0.9" stroke="#7fd0a0" stroke-width="0.7"/><path d="M553.7 628.6l0.7 1" stroke="#9fe0a0" stroke-width="0.7"/><path d="M512.2 581.6l2 2.7" stroke="#9fe0a0" stroke-width="0.7"/><path d="M597.8 590.9l1.4 1.8" stroke="#f0b0a0" stroke-width="0.7"/><path d="M562 612.1l0.9 -1.2" stroke="#a0d8d0" stroke-width="0.7"/><path d="M571.4 543.6l1.1 -1.5" stroke="#a0d8d0" stroke-width="0.7"/><path d="M561.8 548.4l2.3 3.1" stroke="#9fe0a0" stroke-width="0.7"/><path d="M567.8 525.9l1.9 -2.5" stroke="#7fd0a0" stroke-width="0.7"/><path d="M532.7 614.9l1.3 1.7" stroke="#9fe0a0" stroke-width="0.7"/><path d="M563.8 535.4l1.9 2.5" stroke="#c0e890" stroke-width="0.7"/><path d="M510.5 581.6l1 -1.3" stroke="#c0e890" stroke-width="0.7"/><path d="M592.3 550.5l0.5 -0.7" stroke="#a0d8d0" stroke-width="0.7"/><path d="M581.1 535.1l1.1 1.5" stroke="#c0e890" stroke-width="0.7"/><path d="M545.6 601.1l2.3 3.1" stroke="#7fd0a0" stroke-width="0.7"/><path d="M579.7 615.6l2.3 -3" stroke="#a0d8d0" stroke-width="0.7"/><path d="M526 509.5l0.8 1" stroke="#a0d8d0" stroke-width="0.7"/><path d="M594.2 627.2l1.2 1.6" stroke="#c0e890" stroke-width="0.7"/><path d="M538.5 618.6l1.1 1.4" stroke="#f0b0a0" stroke-width="0.7"/><path d="M608.6 535l2.1 2.8" stroke="#9fe0a0" stroke-width="0.7"/><path d="M540.5 517.2l1.8 -2.5" stroke="#f0b0a0" stroke-width="0.7"/><path d="M602 566.5l1.8 2.4" stroke="#c0e890" stroke-width="0.7"/><path d="M597 543.6l1.2 -1.7" stroke="#a0d8d0" stroke-width="0.7"/><path d="M599.9 600.6l2.1 -2.7" stroke="#7fd0a0" stroke-width="0.7"/><path d="M581 511.3l1.8 -2.4" stroke="#a0d8d0" stroke-width="0.7"/><path d="M505 503.3L520 520.3L535.7 539.6L553.6 561.5L563 574M565.6 576.6L578.7 593.5M582.1 596.2L596.6 612.2L613.8 631.5M579 574.5L583 577M563 593.5L566 596" stroke="#f08070" stroke-width="0.75" fill="none" stroke-linejoin="round"/><text x="559.4" y="495.5" font-family="Liberation Sans" font-size="4.8" fill="#222" text-anchor="middle" font-weight="bold" >Lc6Xmh2</text><text x="512.2" y="500.5" font-family="Liberation Sans" font-size="3.6" fill="#555" text-anchor="middle" >1</text><text x="527.6" y="500.5" font-family="Liberation Sans" font-size="3.6" fill="#555" text-anchor="middle" >3</text><text x="544.7" y="500.5" font-family="Liberation Sans" font-size="3.6" fill="#555" text-anchor="middle" >2</text><text x="559.6" y="500.5" font-family="Liberation Sans" font-size="3.6" fill="#555" text-anchor="middle" >4</text><text x="573.9" y="500.5" font-family="Liberation Sans" font-size="3.6" fill="#555" text-anchor="middle" >5</text><text x="589.4" y="500.5" font-family="Liberation Sans" font-size="3.6" fill="#555" text-anchor="middle" >6</text><text x="605.2" y="500.5" font-family="Liberation Sans" font-size="3.6" fill="#555" text-anchor="middle" >7</text><text x="0" y="0" font-family="Liberation Sans" font-size="3.8" fill="#555" text-anchor="middle" transform="translate(503.2 511.8) rotate(-90)">1</text><text x="0" y="0" font-family="Liberation Sans" font-size="3.8" fill="#555" text-anchor="middle" transform="translate(503.2 530) rotate(-90)">3</text><text x="0" y="0" font-family="Liberation Sans" font-size="3.8" fill="#555" text-anchor="middle" transform="translate(503.2 550.5) rotate(-90)">2</text><text x="0" y="0" font-family="Liberation Sans" font-size="3.8" fill="#555" text-anchor="middle" transform="translate(503.2 569) rotate(-90)">4</text><text x="0" y="0" font-family="Liberation Sans" font-size="3.8" fill="#555" text-anchor="middle" transform="translate(503.2 586.4) rotate(-90)">5</text><text x="0" y="0" font-family="Liberation Sans" font-size="3.8" fill="#555" text-anchor="middle" transform="translate(503.2 604.2) rotate(-90)">6</text><text x="0" y="0" font-family="Liberation Sans" font-size="3.8" fill="#555" text-anchor="middle" transform="translate(503.2 621.9) rotate(-90)">7</text><text x="0" y="0" font-family="Liberation Sans" font-weight="bold" font-size="4.4" fill="#222" text-anchor="middle" transform="translate(497.8 567.4) rotate(-90)">Lc6Nsh1</text><rect x="617.2" y="535.1" width="3.9" height="64.6" fill="url(#rainb)"/><text x="621.7" y="536.5" font-family="Liberation Sans" font-size="2.5" fill="#555" >3.0</text><text x="621.7" y="547.2" font-family="Liberation Sans" font-size="2.5" fill="#555" >2.5</text><text x="621.7" y="557.9" font-family="Liberation Sans" font-size="2.5" fill="#555" >2.0</text><text x="621.7" y="568.6" font-family="Liberation Sans" font-size="2.5" fill="#555" >1.5</text><text x="621.7" y="579.3" font-family="Liberation Sans" font-size="2.5" fill="#555" >1.0</text><text x="621.7" y="590" font-family="Liberation Sans" font-size="2.5" fill="#555" >0.5</text><text x="621.7" y="600.7" font-family="Liberation Sans" font-size="2.5" fill="#555" >0.0</text><text x="0" y="0" font-family="Liberation Sans" font-style="italic" font-size="4" fill="#333" text-anchor="middle" transform="translate(627.2 567) rotate(90)">Ks</text><path d="M660.7 503.4V632.1M676.5 503.4V632.1M694.5 503.4V632.1M707.4 503.4V632.1M720.5 503.4V632.1M738.6 503.4V632.1M645.4 520.2H754.5M645.4 539.3H754.5M645.4 561.2H754.5M645.4 576.2H754.5M645.4 592.1H754.5M645.4 612.4H754.5" stroke="#cdcdcd" stroke-width="0.55" fill="none"/><rect x="645.4" y="503.4" width="109.1" height="128.7" fill="none" stroke="#bdbdbd" stroke-width="0.7"/><path d="M655.5 532l1.8 -2.4" stroke="#c0e890" stroke-width="0.7"/><path d="M650 510.2l1.5 1.9" stroke="#c0e890" stroke-width="0.7"/><path d="M702.3 623.2l1.2 -1.6" stroke="#a0d8d0" stroke-width="0.7"/><path d="M726.8 521.2l1.4 1.9" stroke="#7fd0a0" stroke-width="0.7"/><path d="M668.7 541.3l1.3 -1.8" stroke="#9fe0a0" stroke-width="0.7"/><path d="M651.1 570.9l1.3 -1.8" stroke="#9fe0a0" stroke-width="0.7"/><path d="M744.3 574.7l0.8 -1.1" stroke="#9fe0a0" stroke-width="0.7"/><path d="M745 526.3l1.6 2.1" stroke="#c0e890" stroke-width="0.7"/><path d="M728.3 578.6l1 -1.4" stroke="#9fe0a0" stroke-width="0.7"/><path d="M717.1 610.3l1.3 -1.7" stroke="#c0e890" stroke-width="0.7"/><path d="M697.5 606.7l0.8 1.1" stroke="#a0d8d0" stroke-width="0.7"/><path d="M738.1 521.9l0.6 -0.8" stroke="#c0e890" stroke-width="0.7"/><path d="M687.8 529.5l1.4 1.9" stroke="#7fd0a0" stroke-width="0.7"/><path d="M702.5 546.2l1.4 1.9" stroke="#c0e890" stroke-width="0.7"/><path d="M738.1 582.5l1.6 -2.1" stroke="#f0b0a0" stroke-width="0.7"/><path d="M687.7 577.8l0.9 1.1" stroke="#c0e890" stroke-width="0.7"/><path d="M701 580.7l1.7 -2.3" stroke="#c0e890" stroke-width="0.7"/><path d="M673.4 505.5l0.7 -0.9" stroke="#7fd0a0" stroke-width="0.7"/><path d="M737.2 526.2l2 -2.6" stroke="#c0e890" stroke-width="0.7"/><path d="M671.2 555.4l1.3 1.8" stroke="#c0e890" stroke-width="0.7"/><path d="M679.2 619.7l2.4 -3.1" stroke="#f0b0a0" stroke-width="0.7"/><path d="M729.4 578.3l1.8 -2.4" stroke="#a0d8d0" stroke-width="0.7"/><path d="M657.2 601l2.3 -3.1" stroke="#f0b0a0" stroke-width="0.7"/><path d="M647.8 615.3l1.8 2.4" stroke="#9fe0a0" stroke-width="0.7"/><path d="M687.1 519.7l0.8 1.1" stroke="#c0e890" stroke-width="0.7"/><path d="M663.8 582.7l1.3 1.8" stroke="#7fd0a0" stroke-width="0.7"/><path d="M648 608.8l0.5 -0.7" stroke="#c0e890" stroke-width="0.7"/><path d="M684 596.1l1.4 1.9" stroke="#7fd0a0" stroke-width="0.7"/><path d="M738.3 599.2l1.1 -1.4" stroke="#7fd0a0" stroke-width="0.7"/><path d="M671.8 604.8l0.8 1.1" stroke="#7fd0a0" stroke-width="0.7"/><path d="M750.1 536.2l1.2 1.6" stroke="#c0e890" stroke-width="0.7"/><path d="M684.1 582.2l1.7 -2.2" stroke="#7fd0a0" stroke-width="0.7"/><path d="M649.7 569l0.7 0.9" stroke="#9fe0a0" stroke-width="0.7"/><path d="M714.5 533.6l1.4 1.9" stroke="#f0b0a0" stroke-width="0.7"/><path d="M702 521.4l1.8 2.4" stroke="#c0e890" stroke-width="0.7"/><path d="M679.4 587.4l2.1 -2.8" stroke="#9fe0a0" stroke-width="0.7"/><path d="M694.3 574.4l1.7 2.3" stroke="#c0e890" stroke-width="0.7"/><path d="M669.9 543.1l0.5 -0.7" stroke="#7fd0a0" stroke-width="0.7"/><path d="M729.4 522.6l1 1.4" stroke="#c0e890" stroke-width="0.7"/><path d="M719.8 505.7l0.8 -1" stroke="#a0d8d0" stroke-width="0.7"/><path d="M671.7 535.8l2.3 3.1" stroke="#f0b0a0" stroke-width="0.7"/><path d="M711.3 576.2l1 -1.4" stroke="#7fd0a0" stroke-width="0.7"/><path d="M686.9 616.6l1.4 -1.8" stroke="#c0e890" stroke-width="0.7"/><path d="M741.3 566.8l1 1.3" stroke="#a0d8d0" stroke-width="0.7"/><path d="M742.3 523.9l1.2 -1.5" stroke="#c0e890" stroke-width="0.7"/><path d="M645.4 503.4L660.7 520.2L676.5 539.3L683 546M683.5 557L691 548M694.5 561.2L707.4 576.2L720.5 592.1L722 594M727 590L720 601M728 599L733 603L738.6 612.4L754.5 632.1M647 507L649 505" stroke="#f08070" stroke-width="0.75" fill="none" stroke-linejoin="round"/><text x="700" y="495.6" font-family="Liberation Sans" font-size="4.8" fill="#222" text-anchor="middle" font-weight="bold" >PjNsh1</text><text x="653" y="500.6" font-family="Liberation Sans" font-size="3.6" fill="#555" text-anchor="middle" >1</text><text x="668.6" y="500.6" font-family="Liberation Sans" font-size="3.6" fill="#555" text-anchor="middle" >3</text><text x="685.5" y="500.6" font-family="Liberation Sans" font-size="3.6" fill="#555" text-anchor="middle" >2</text><text x="701" y="500.6" font-family="Liberation Sans" font-size="3.6" fill="#555" text-anchor="middle" >4</text><text x="714" y="500.6" font-family="Liberation Sans" font-size="3.6" fill="#555" text-anchor="middle" >6</text><text x="729.5" y="500.6" font-family="Liberation Sans" font-size="3.6" fill="#555" text-anchor="middle" >7</text><text x="746.5" y="500.6" font-family="Liberation Sans" font-size="3.6" fill="#555" text-anchor="middle" >5</text><text x="0" y="0" font-family="Liberation Sans" font-size="3.8" fill="#555" text-anchor="middle" transform="translate(643.6 511.8) rotate(-90)">1</text><text x="0" y="0" font-family="Liberation Sans" font-size="3.8" fill="#555" text-anchor="middle" transform="translate(643.6 529.8) rotate(-90)">3</text><text x="0" y="0" font-family="Liberation Sans" font-size="3.8" fill="#555" text-anchor="middle" transform="translate(643.6 550.2) rotate(-90)">2</text><text x="0" y="0" font-family="Liberation Sans" font-size="3.8" fill="#555" text-anchor="middle" transform="translate(643.6 568.7) rotate(-90)">4</text><text x="0" y="0" font-family="Liberation Sans" font-size="3.8" fill="#555" text-anchor="middle" transform="translate(643.6 584.2) rotate(-90)">6</text><text x="0" y="0" font-family="Liberation Sans" font-size="3.8" fill="#555" text-anchor="middle" transform="translate(643.6 602.2) rotate(-90)">7</text><text x="0" y="0" font-family="Liberation Sans" font-size="3.8" fill="#555" text-anchor="middle" transform="translate(643.6 622.2) rotate(-90)">5</text><text x="0" y="0" font-family="Liberation Sans" font-weight="bold" font-size="4.4" fill="#222" text-anchor="middle" transform="translate(638.2 567.8) rotate(-90)">Lc6Nsh1</text><rect x="758.4" y="535.1" width="3.9" height="64.6" fill="url(#rainb)"/><text x="762.9" y="536.5" font-family="Liberation Sans" font-size="2.5" fill="#555" >3.0</text><text x="762.9" y="547.2" font-family="Liberation Sans" font-size="2.5" fill="#555" >2.5</text><text x="762.9" y="557.9" font-family="Liberation Sans" font-size="2.5" fill="#555" >2.0</text><text x="762.9" y="568.6" font-family="Liberation Sans" font-size="2.5" fill="#555" >1.5</text><text x="762.9" y="579.3" font-family="Liberation Sans" font-size="2.5" fill="#555" >1.0</text><text x="762.9" y="590" font-family="Liberation Sans" font-size="2.5" fill="#555" >0.5</text><text x="762.9" y="600.7" font-family="Liberation Sans" font-size="2.5" fill="#555" >0.0</text><text x="0" y="0" font-family="Liberation Sans" font-style="italic" font-size="4" fill="#333" text-anchor="middle" transform="translate(768.4 567) rotate(90)">Ks</text>
<text x="50.6" y="650.8" font-family="Liberation Sans" font-size="21.5" letter-spacing="1.7" fill="#111">(f)</text><path d="M157 652.9H163.5M192.5 652.9H196M160.5 682.4H195.5M155 712.3H166M182.5 712.3H197" stroke="#666" stroke-width="0.7"/><path d="M198.2 652.9C198.2 682.6 198.7 682.6 198.7 712.3" stroke="#fde2b8" stroke-width="2.4" fill="none" stroke-opacity="1"/><path d="M195.5 652.9C195.5 682.6 197 682.6 197 712.3" stroke="#ec8a8a" stroke-width="1.3" fill="none" stroke-opacity="1"/><path d="M166.3 652.9C166.3 667.6 195.5 667.6 195.5 682.4" stroke="#fde2b8" stroke-width="2.4" fill="none" stroke-opacity="1"/><path d="M163.8 652.9C163.8 667.6 195.5 667.6 195.5 682.4" stroke="#ec8a8a" stroke-width="1.0" fill="none" stroke-opacity="1"/><path d="M195.5 682.4C195.5 697.3 166.3 697.3 166.3 712.3" stroke="#fde2b8" stroke-width="2.4" fill="none" stroke-opacity="1"/><path d="M155.7 652.9C155.7 667.6 159.5 667.6 159.5 682.4" stroke="#f6a400" stroke-width="3.0" fill="none" stroke-opacity="1"/><path d="M159.5 682.4C159.5 697.3 155.5 697.3 155.5 712.3" stroke="#f6a400" stroke-width="2.6" fill="none" stroke-opacity="1"/><path d="M191.5 652.9C191.5 667.6 159.5 667.6 159.5 682.4" stroke="#f6a400" stroke-width="3.0" fill="none" stroke-opacity="1"/><path d="M159.5 682.4C159.5 697.3 182.5 697.3 182.5 712.3" stroke="#f6a400" stroke-width="2.6" fill="none" stroke-opacity="1"/><rect x="154.1" y="651.3" width="3.2" height="3.2" fill="#3f68b0"/><rect x="162.8" y="651.3" width="1" height="3.2" fill="#3f68b0"/><rect x="164.9" y="651.3" width="2.8" height="3.2" fill="#4aa460"/><rect x="190.1" y="651.3" width="2.8" height="3.2" fill="#3f68b0"/><rect x="194.5" y="651.3" width="1" height="3.2" fill="#3f68b0"/><rect x="196.6" y="651.3" width="3.2" height="3.2" fill="#4aa460"/><rect x="158.7" y="680.8" width="1.2" height="3.2" fill="#4aa460"/><rect x="195.6" y="680.8" width="1.2" height="3.2" fill="#4aa460"/><rect x="154.6" y="710.7" width="1.2" height="3.2" fill="#4aa460"/><rect x="165.7" y="710.7" width="1.2" height="3.2" fill="#4aa460"/><rect x="181.9" y="710.7" width="1.2" height="3.2" fill="#4aa460"/><rect x="196.4" y="710.7" width="1.2" height="3.2" fill="#3f68b0"/><rect x="199.6" y="710.7" width="1.2" height="3.2" fill="#4aa460"/><text x="150.3" y="649.8" font-family="Liberation Sans" font-size="6.2" fill="#222" text-anchor="end" font-weight="bold" font-style="italic" >Ol Chr5 hap1</text><text x="150.3" y="658.8" font-family="Liberation Sans" font-size="6.45" fill="#8f9aae" text-anchor="end" >5.19-5.20Mb</text><text x="144.5" y="681.1" font-family="Liberation Sans" font-size="6.2" fill="#222" text-anchor="end" font-weight="bold" font-style="italic" >Lp Chr1</text><text x="144.5" y="690.1" font-family="Liberation Sans" font-size="6.45" fill="#8f9aae" text-anchor="end" >38.19-38.45Mb</text><text x="148.6" y="710.2" font-family="Liberation Sans" font-size="6.2" fill="#222" text-anchor="end" font-weight="bold" font-style="italic" >Lc6Xm1h1</text><text x="148.6" y="719.2" font-family="Liberation Sans" font-size="6.45" fill="#8f9aae" text-anchor="end" >143.71-143.78Mb</text><text x="204.3" y="649.1" font-family="Liberation Sans" font-size="6.2" fill="#222" font-weight="bold" font-style="italic" >Ol Chr5 hap2</text><text x="204.3" y="658.1" font-family="Liberation Sans" font-size="6.45" fill="#8f9aae" >4.90-4.91Mb</text><text x="206.2" y="709.3" font-family="Liberation Sans" font-size="6.2" fill="#222" font-weight="bold" font-style="italic" >Lc6Xm1h2</text><text x="206.2" y="718.3" font-family="Liberation Sans" font-size="6.45" fill="#8f9aae" >120.72-121.96Mb</text><path d="M332 654.5H387.5M332 681.9H385.7M335 709.2H383" stroke="#666" stroke-width="0.7"/><path d="M332.6 654.5C332.6 668.2 331.5 668.2 331.5 681.9" stroke="#fde2b8" stroke-width="4.2" fill="none" stroke-opacity="1"/><path d="M331.5 681.9C331.5 695.5 331.8 695.5 331.8 709.2" stroke="#fde2b8" stroke-width="4.6" fill="none" stroke-opacity="1"/><path d="M361.2 654.5C361.2 668.2 332 668.2 332 681.9" stroke="#fde2b8" stroke-width="3.4" fill="none" stroke-opacity="1"/><path d="M332 681.9C332 695.5 364 695.5 364 709.2" stroke="#fde2b8" stroke-width="3.2" fill="none" stroke-opacity="1"/><path d="M346.4 654.5C346.4 668.2 373 668.2 373 681.9" stroke="#ec8a8a" stroke-width="1.9" fill="none" stroke-opacity="1"/><path d="M370.3 654.5C370.3 668.2 373 668.2 373 681.9" stroke="#ec8a8a" stroke-width="1.2" fill="none" stroke-opacity="1"/><path d="M373 681.9C373 695.5 364 695.5 364 709.2" stroke="#ec8a8a" stroke-width="1.2" fill="none" stroke-opacity="1"/><path d="M385.7 681.9C385.7 695.5 341 695.5 341 709.2" stroke="#ec8a8a" stroke-width="2.0" fill="none" stroke-opacity="1"/><path d="M353 654.5C353 668.2 385.7 668.2 385.7 681.9" stroke="#f6a400" stroke-width="2.6" fill="none" stroke-opacity="1"/><path d="M379.5 654.5C379.5 668.2 385.7 668.2 385.7 681.9" stroke="#f6a400" stroke-width="3.2" fill="none" stroke-opacity="1"/><path d="M385.7 681.9C385.7 695.5 344 695.5 344 709.2" stroke="#f6a400" stroke-width="3.0" fill="none" stroke-opacity="1"/><path d="M385.7 681.9C385.7 695.5 383.5 695.5 383.5 709.2" stroke="#f6a400" stroke-width="2.4" fill="none" stroke-opacity="1"/><path d="M387.1 654.5C387.1 668.2 386 668.2 386 681.9" stroke="#b0191e" stroke-width="1.8" fill="none" stroke-opacity="1"/><path d="M386 681.9C386 695.5 384 695.5 384 709.2" stroke="#b0191e" stroke-width="1.5" fill="none" stroke-opacity="1"/><path d="M385.7 681.9C385.7 695.5 356.3 695.5 356.3 709.2" stroke="#b0191e" stroke-width="1.8" fill="none" stroke-opacity="1"/><rect x="330.5" y="652.9" width="4.2" height="3.2" fill="#4aa460"/><rect x="345.7" y="652.9" width="1.4" height="3.2" fill="#3f68b0"/><rect x="351" y="652.9" width="4" height="3.2" fill="#4aa460"/><rect x="359.4" y="652.9" width="3.6" height="3.2" fill="#4aa460"/><rect x="369.9" y="652.9" width="0.8" height="3.2" fill="#ec8a8a"/><rect x="377.9" y="652.9" width="3.2" height="3.2" fill="#3f68b0"/><rect x="386.4" y="652.9" width="1.4" height="3.2" fill="#b0191e"/><rect x="330.2" y="680.3" width="1.6" height="3.2" fill="#4aa460"/><rect x="372.5" y="680.3" width="1" height="3.2" fill="#3f68b0"/><rect x="384.9" y="680.3" width="1.6" height="3.2" fill="#3f68b0"/><rect x="328.7" y="707.6" width="6.3" height="3.2" fill="#4aa460"/><rect x="340.5" y="707.6" width="7.2" height="3.2" fill="#4aa460"/><rect x="354.9" y="707.6" width="2.7" height="3.2" fill="#3f68b0"/><rect x="363.4" y="707.6" width="1.2" height="3.2" fill="#4aa460"/><rect x="382.3" y="707.6" width="1.4" height="3.2" fill="#3f68b0"/><text x="321.1" y="652.1" font-family="Liberation Sans" font-size="6.2" fill="#222" text-anchor="end" font-weight="bold" font-style="italic" >Ol Chr4 hap1</text><text x="321.1" y="661.1" font-family="Liberation Sans" font-size="6.45" fill="#8f9aae" text-anchor="end" >27.82-27.83Mb</text><text x="321.1" y="681.4" font-family="Liberation Sans" font-size="6.2" fill="#222" text-anchor="end" font-weight="bold" font-style="italic" >Lp Chr2</text><text x="321.1" y="690.4" font-family="Liberation Sans" font-size="6.45" fill="#8f9aae" text-anchor="end" >332.86-332.80Mb</text><text x="324.2" y="708.5" font-family="Liberation Sans" font-size="6.2" fill="#222" text-anchor="end" font-weight="bold" font-style="italic" >Lc6Xm2h1</text><text x="324.2" y="717.5" font-family="Liberation Sans" font-size="6.45" fill="#8f9aae" text-anchor="end" >503.44-503.43Mb</text><text x="394.3" y="652.1" font-family="Liberation Sans" font-size="6.2" fill="#222" font-weight="bold" font-style="italic" >Ol Chr4 hap2</text><text x="394.3" y="661.1" font-family="Liberation Sans" font-size="6.45" fill="#8f9aae" >27.52-27.53Mb</text><text x="392.5" y="708.5" font-family="Liberation Sans" font-size="6.2" fill="#222" font-weight="bold" font-style="italic" >Lc6Xm2h2</text><text x="392.5" y="717.5" font-family="Liberation Sans" font-size="6.45" fill="#8f9aae" >495.26-495.17Mb</text>
<text x="44.7" y="743.7" font-family="Liberation Sans" font-size="21.5" letter-spacing="1.7" fill="#111">(g)</text><path d="M121.7 748H263.9M121.7 786H263.9M140 823.9H245.5M140 862.2H245.5" stroke="#777" stroke-width="0.6"/><rect x="121.8" y="748" width="8.3" height="38" fill="#dcdcdc"/><rect x="133.9" y="748" width="8.3" height="38" fill="#dcdcdc"/><rect x="146.1" y="748" width="8.3" height="38" fill="#dcdcdc"/><rect x="158.2" y="748" width="8.3" height="38" fill="#dcdcdc"/><rect x="170.3" y="748" width="8.3" height="38" fill="#fde2b8"/><rect x="182.5" y="748" width="8.3" height="38" fill="#ec8080"/><rect x="194.7" y="748" width="8.3" height="38" fill="#f6a400"/><rect x="206.8" y="748" width="8.3" height="38" fill="#dcdcdc"/><rect x="219" y="748" width="8.3" height="38" fill="#dcdcdc"/><rect x="231.1" y="748" width="8.3" height="38" fill="#dcdcdc"/><rect x="243.2" y="748" width="8.3" height="38" fill="#dcdcdc"/><rect x="255.4" y="748" width="8.3" height="38" fill="#dcdcdc"/><path d="M121.8 786C121.8 805 139.8 805 139.8 823.9L148.1 823.9C148.1 805 130.1 805 130.1 786Z" fill="#dcdcdc"/><path d="M133.9 786C133.9 805 151.9 805 151.9 823.9L160.2 823.9C160.2 805 142.2 805 142.2 786Z" fill="#dcdcdc"/><path d="M146.1 786C146.1 805 164.1 805 164.1 823.9L172.4 823.9C172.4 805 154.4 805 154.4 786Z" fill="#dcdcdc"/><path d="M158.2 786C158.2 805 176.3 805 176.3 823.9L184.6 823.9C184.6 805 166.5 805 166.5 786Z" fill="#dcdcdc"/><path d="M206.8 786C206.8 805 188.5 805 188.5 823.9L196.8 823.9C196.8 805 215.1 805 215.1 786Z" fill="#dcdcdc"/><path d="M219 786C219 805 200.7 805 200.7 823.9L209 823.9C209 805 227.3 805 227.3 786Z" fill="#dcdcdc"/><path d="M231.1 786C231.1 805 212.8 805 212.8 823.9L221.1 823.9C221.1 805 239.4 805 239.4 786Z" fill="#dcdcdc"/><path d="M243.2 786C243.2 805 225 805 225 823.9L233.3 823.9C233.3 805 251.6 805 251.6 786Z" fill="#dcdcdc"/><path d="M255.4 786C255.4 805 237.2 805 237.2 823.9L245.5 823.9C245.5 805 263.7 805 263.7 786Z" fill="#dcdcdc"/><rect x="139.8" y="823.9" width="8.3" height="38.3" fill="#dcdcdc"/><rect x="151.9" y="823.9" width="8.3" height="38.3" fill="#dcdcdc"/><rect x="164.1" y="823.9" width="8.3" height="38.3" fill="#dcdcdc"/><rect x="176.3" y="823.9" width="8.3" height="38.3" fill="#dcdcdc"/><rect x="188.5" y="823.9" width="8.3" height="38.3" fill="#dcdcdc"/><rect x="200.7" y="823.9" width="8.3" height="38.3" fill="#dcdcdc"/><rect x="212.8" y="823.9" width="8.3" height="38.3" fill="#dcdcdc"/><rect x="225" y="823.9" width="8.3" height="38.3" fill="#dcdcdc"/><rect x="237.2" y="823.9" width="8.3" height="38.3" fill="#dcdcdc"/><rect x="121.8" y="746.6" width="8.3" height="2.8" fill="#4a6fb5"/><rect x="121.8" y="784.6" width="8.3" height="2.8" fill="#4a6fb5"/><rect x="133.9" y="746.6" width="8.3" height="2.8" fill="#4a6fb5"/><rect x="133.9" y="784.6" width="8.3" height="2.8" fill="#4a6fb5"/><rect x="146.1" y="746.6" width="8.3" height="2.8" fill="#4a6fb5"/><rect x="146.1" y="784.6" width="8.3" height="2.8" fill="#4a6fb5"/><rect x="158.2" y="746.6" width="8.3" height="2.8" fill="#5aac6a"/><rect x="158.2" y="784.6" width="8.3" height="2.8" fill="#5aac6a"/><rect x="170.3" y="746.6" width="8.3" height="2.8" fill="#4a6fb5"/><rect x="170.3" y="784.6" width="8.3" height="2.8" fill="#4a6fb5"/><rect x="182.5" y="746.6" width="8.3" height="2.8" fill="#5aac6a"/><rect x="182.5" y="784.6" width="8.3" height="2.8" fill="#5aac6a"/><rect x="194.7" y="746.6" width="8.3" height="2.8" fill="#4a6fb5"/><rect x="194.7" y="784.6" width="8.3" height="2.8" fill="#4a6fb5"/><rect x="206.8" y="746.6" width="8.3" height="2.8" fill="#4a6fb5"/><rect x="206.8" y="784.6" width="8.3" height="2.8" fill="#4a6fb5"/><rect x="219" y="746.6" width="8.3" height="2.8" fill="#5aac6a"/><rect x="219" y="784.6" width="8.3" height="2.8" fill="#5aac6a"/><rect x="231.1" y="746.6" width="8.3" height="2.8" fill="#5aac6a"/><rect x="231.1" y="784.6" width="8.3" height="2.8" fill="#5aac6a"/><rect x="243.2" y="746.6" width="8.3" height="2.8" fill="#5aac6a"/><rect x="243.2" y="784.6" width="8.3" height="2.8" fill="#5aac6a"/><rect x="255.4" y="746.6" width="8.3" height="2.8" fill="#5aac6a"/><rect x="255.4" y="784.6" width="8.3" height="2.8" fill="#5aac6a"/><rect x="139.8" y="822.5" width="8.3" height="2.8" fill="#4a6fb5"/><rect x="139.8" y="860.8" width="8.3" height="2.8" fill="#4a6fb5"/><rect x="151.9" y="822.5" width="8.3" height="2.8" fill="#4a6fb5"/><rect x="151.9" y="860.8" width="8.3" height="2.8" fill="#4a6fb5"/><rect x="164.1" y="822.5" width="8.3" height="2.8" fill="#4a6fb5"/><rect x="164.1" y="860.8" width="8.3" height="2.8" fill="#4a6fb5"/><rect x="176.3" y="822.5" width="8.3" height="2.8" fill="#5aac6a"/><rect x="176.3" y="860.8" width="8.3" height="2.8" fill="#5aac6a"/><rect x="188.5" y="822.5" width="8.3" height="2.8" fill="#4a6fb5"/><rect x="188.5" y="860.8" width="8.3" height="2.8" fill="#4a6fb5"/><rect x="200.7" y="822.5" width="8.3" height="2.8" fill="#5aac6a"/><rect x="200.7" y="860.8" width="8.3" height="2.8" fill="#5aac6a"/><rect x="212.8" y="822.5" width="8.3" height="2.8" fill="#5aac6a"/><rect x="212.8" y="860.8" width="8.3" height="2.8" fill="#5aac6a"/><rect x="225" y="822.5" width="8.3" height="2.8" fill="#5aac6a"/><rect x="225" y="860.8" width="8.3" height="2.8" fill="#5aac6a"/><rect x="237.2" y="822.5" width="8.3" height="2.8" fill="#5aac6a"/><rect x="237.2" y="860.8" width="8.3" height="2.8" fill="#5aac6a"/><path d="M170.2 745.5V743H203.5V745.5" stroke="#555" stroke-width="0.7" fill="none"/><path d="M170.2 789V791.5H203.5V789" stroke="#555" stroke-width="0.7" fill="none"/><text x="186.9" y="739.5" font-family="Liberation Sans" font-style="italic" font-size="6" fill="#222" text-anchor="middle">S<tspan font-size="3.8" dy="1">1</tspan></text><text x="186.9" y="799.5" font-family="Liberation Sans" font-style="italic" font-size="6" fill="#222" text-anchor="middle">S<tspan font-size="3.8" dy="1">2</tspan></text><text x="117" y="749.6" font-family="Liberation Sans" font-size="6.2" fill="#222" text-anchor="end" font-weight="bold" font-style="italic" >Lc6Xm1h1</text><text x="117" y="787.6" font-family="Liberation Sans" font-size="6.2" fill="#222" text-anchor="end" font-weight="bold" font-style="italic" >Lc6Xm1h2</text><text x="130.8" y="825.5" font-family="Liberation Sans" font-size="6.2" fill="#222" text-anchor="end" font-weight="bold" font-style="italic" >Lc6Ns1h1</text><text x="130.8" y="863.8" font-family="Liberation Sans" font-size="6.2" fill="#222" text-anchor="end" font-weight="bold" font-style="italic" >Lc6Ns1h2</text><path d="M274 748H416M274 786H416M316 823.9H374M316 862.2H374" stroke="#777" stroke-width="0.6"/><rect x="274.7" y="748" width="14" height="38" fill="#dcdcdc"/><rect x="295.8" y="748" width="14" height="38" fill="#fde2b8"/><rect x="317" y="748" width="14" height="38" fill="#ec8080"/><path d="M337.9 748H351.9C351.9 758 345.9 761 345.4 767C345.9 773 351.9 776 351.9 786H337.9C337.9 776 343.9 773 344.4 767C343.9 761 337.9 758 337.9 748Z" fill="#f6a400"/><rect x="359.3" y="748" width="14" height="38" fill="#ae1c20"/><rect x="380.1" y="748" width="14" height="38" fill="#dcdcdc"/><rect x="401.3" y="748" width="14" height="38" fill="#dcdcdc"/><path d="M274.7 786C274.7 805 317.3 805 317.3 823.9L331.3 823.9C331.3 805 288.7 805 288.7 786Z" fill="#dcdcdc"/><path d="M380.1 786C380.1 805 338.3 805 338.3 823.9L352.3 823.9C352.3 805 394.1 805 394.1 786Z" fill="#dcdcdc"/><path d="M401.3 786C401.3 805 359.3 805 359.3 823.9L373.3 823.9C373.3 805 415.3 805 415.3 786Z" fill="#dcdcdc"/><rect x="317.3" y="823.9" width="14" height="38.3" fill="#dcdcdc"/><rect x="338.3" y="823.9" width="14" height="38.3" fill="#dcdcdc"/><rect x="359.3" y="823.9" width="14" height="38.3" fill="#dcdcdc"/><rect x="274.7" y="746.6" width="14" height="2.8" fill="#5aac6a"/><rect x="274.7" y="784.6" width="14" height="2.8" fill="#5aac6a"/><rect x="295.8" y="746.6" width="14" height="2.8" fill="#5aac6a"/><rect x="295.8" y="784.6" width="14" height="2.8" fill="#5aac6a"/><rect x="317" y="746.6" width="14" height="2.8" fill="#5aac6a"/><rect x="317" y="784.6" width="14" height="2.8" fill="#5aac6a"/><rect x="337.9" y="746.6" width="14" height="2.8" fill="#5aac6a"/><rect x="337.9" y="784.6" width="14" height="2.8" fill="#4a6fb5"/><rect x="359.3" y="746.6" width="14" height="2.8" fill="#4a6fb5"/><rect x="359.3" y="784.6" width="14" height="2.8" fill="#4a6fb5"/><rect x="380.1" y="746.6" width="14" height="2.8" fill="#5aac6a"/><rect x="380.1" y="784.6" width="14" height="2.8" fill="#5aac6a"/><rect x="401.3" y="746.6" width="14" height="2.8" fill="#4a6fb5"/><rect x="401.3" y="784.6" width="14" height="2.8" fill="#4a6fb5"/><rect x="317.3" y="822.5" width="14" height="2.8" fill="#5aac6a"/><rect x="317.3" y="860.8" width="14" height="2.8" fill="#5aac6a"/><rect x="338.3" y="822.5" width="14" height="2.8" fill="#5aac6a"/><rect x="338.3" y="860.8" width="14" height="2.8" fill="#5aac6a"/><rect x="359.3" y="822.5" width="14" height="2.8" fill="#4a6fb5"/><rect x="359.3" y="860.8" width="14" height="2.8" fill="#4a6fb5"/><path d="M295.5 745.1V742.6H373.6V745.1" stroke="#555" stroke-width="0.7" fill="none"/><path d="M295.5 789.5V792H373.6V789.5" stroke="#555" stroke-width="0.7" fill="none"/><text x="333.1" y="740" font-family="Liberation Sans" font-style="italic" font-size="6" fill="#222" text-anchor="middle">Z<tspan font-size="3.8" dy="1">1</tspan></text><text x="333.1" y="800" font-family="Liberation Sans" font-style="italic" font-size="6" fill="#222" text-anchor="middle">Z<tspan font-size="3.8" dy="1">2</tspan></text><text x="420.4" y="749.6" font-family="Liberation Sans" font-size="6.2" fill="#222" font-weight="bold" font-style="italic" >Lc6Xm2h1</text><text x="422.3" y="787.6" font-family="Liberation Sans" font-size="6.2" fill="#222" font-weight="bold" font-style="italic" >Lc6Xm2h2</text><text x="390.2" y="825.5" font-family="Liberation Sans" font-size="6.2" fill="#222" font-weight="bold" font-style="italic" >Lc6Ns2h1</text><text x="390.2" y="863.8" font-family="Liberation Sans" font-size="6.2" fill="#222" font-weight="bold" font-style="italic" >Lc6Ns2h2</text><path d="M102.6 886.7H121.8L124.3 889.9L121.8 893.3H102.6Z" fill="#4a6fb5"/><text x="127.5" y="892.1" font-family="Liberation Sans" font-size="6.3" fill="#222" >forward</text><path d="M182.2 886.7H163.2L160.7 889.9L163.2 893.3H182.2Z" fill="#5aac6a"/><text x="185" y="892.1" font-family="Liberation Sans" font-size="6.3" fill="#222" >reverse</text><rect x="224" y="885.4" width="10.4" height="9.4" fill="#fde2b8"/><text x="239.5" y="892.1" font-family="Liberation Sans" font-size="6.3" fill="#222" font-style="italic" >DUF247I</text><rect x="281.9" y="885.4" width="10.4" height="9.4" fill="#ec8080"/><text x="297.4" y="892.1" font-family="Liberation Sans" font-size="6.3" fill="#222" font-style="italic" >HPS10I</text><rect x="339.7" y="885.4" width="10.4" height="9.4" fill="#f6a400"/><text x="355.2" y="892.1" font-family="Liberation Sans" font-size="6.3" fill="#222" font-style="italic" >DUF247II</text><rect x="397.9" y="885.4" width="10.4" height="9.4" fill="#ae1c20"/><text x="413.4" y="892.1" font-family="Liberation Sans" font-size="6.3" fill="#222" font-style="italic" >HPS10II</text>
<text x="454.4" y="650.8" font-family="Liberation Sans" font-size="21.5" letter-spacing="1.7" fill="#111">(h)</text><rect x="518" y="648.5" width="252.8" height="147.7" fill="#eeeeee"/><rect x="518" y="799.8" width="252.8" height="103.9" fill="#d1d0d0"/><path d="M514.6 653.4V897" stroke="#4a7bd0" stroke-width="1.8"/><path d="M512.6 894.5L514.7 899.8L516.8 894.5Z" fill="#4472c4"/><text x="500.8" y="651.3" font-family="Liberation Serif" font-size="6.4" fill="#222" font-weight="bold" >MYA</text><text x="510.6" y="660.2" font-family="Liberation Serif" font-size="6.3" fill="#222" text-anchor="end" font-weight="bold" >~166</text><text x="510.6" y="680.6" font-family="Liberation Serif" font-size="6.3" fill="#222" text-anchor="end" font-weight="bold" >~150</text><text x="510.6" y="720" font-family="Liberation Serif" font-size="6.3" fill="#222" text-anchor="end" font-weight="bold" >~50</text><text x="510.6" y="786.3" font-family="Liberation Serif" font-size="6.3" fill="#222" text-anchor="end" font-weight="bold" >~6.35</text><text x="510.6" y="851.8" font-family="Liberation Serif" font-size="6.3" fill="#222" text-anchor="end" font-weight="bold" >~3.36</text><text x="557" y="661.6" font-family="Liberation Serif" font-size="9.1" fill="#444" font-style="italic" >DUF247II</text><path d="M598.8 658.5H632.5" stroke="#666" stroke-width="0.6"/><rect x="605.2" y="653.1" width="9.2" height="10.6" rx="0.8" fill="#c8dbf1" stroke="#555" stroke-width="0.5"/><rect x="617.1" y="653.1" width="9.2" height="10.6" rx="0.8" fill="#f9d7c0" stroke="#555" stroke-width="0.5"/><text x="637.8" y="661.6" font-family="Liberation Serif" font-size="9.15" fill="#444" font-style="italic" >HPS10II</text><text x="678.2" y="661.2" font-family="Liberation Serif" font-weight="bold" font-size="6.6" fill="#222">Ancestral <tspan font-style="italic">DUF247</tspan> and <tspan font-style="italic">HPS10</tspan></text><text x="552" y="684.5" font-family="Liberation Serif" font-style="italic" font-size="9" fill="#444">Z<tspan font-size="5.3999999999999995" dy="1.5">1</tspan></text><path d="M564.1 681.6H614.2" stroke="#666" stroke-width="0.6"/><rect x="566.6" y="676.3" width="9.2" height="11" rx="0.8" fill="#c8dbf1" stroke="#555" stroke-width="0.5"/><rect x="578.6" y="676.3" width="9.2" height="11" rx="0.8" fill="#f9d7c0" stroke="#555" stroke-width="0.5"/><rect x="590.5" y="676.3" width="9.2" height="11" rx="0.8" fill="#c8dbf1" stroke="#555" stroke-width="0.5"/><rect x="602.1" y="676.3" width="9.2" height="11" rx="0.8" fill="#f9d7c0" stroke="#555" stroke-width="0.5"/><path d="M619 681.6H669.2" stroke="#666" stroke-width="0.6"/><rect x="621.9" y="676.3" width="9.2" height="11" rx="0.8" fill="#c8dbf1" stroke="#555" stroke-width="0.5"/><rect x="633.9" y="676.3" width="9.2" height="11" rx="0.8" fill="#f9d7c0" stroke="#555" stroke-width="0.5"/><rect x="645.6" y="676.3" width="9.2" height="11" rx="0.8" fill="#c8dbf1" stroke="#555" stroke-width="0.5"/><rect x="657.2" y="676.3" width="9.2" height="11" rx="0.8" fill="#f9d7c0" stroke="#555" stroke-width="0.5"/><text x="674" y="684.5" font-family="Liberation Serif" font-style="italic" font-size="9" fill="#444">Z<tspan font-size="5.3999999999999995" dy="1.5">2</tspan></text><text x="688.6" y="684.2" font-family="Liberation Serif" font-weight="bold" font-size="6.4" fill="#222">Ancestral <tspan font-style="italic">Z</tspan>-locus</text><path d="M614.3 689.7H619.3V694.5H621.9L616.8 700.2L611.7 694.5H614.3Z" fill="#4472c4"/><text x="624.8" y="697" font-family="Liberation Sans" font-size="7.3" fill="#222" >Duplication</text><text x="581" y="706.4" font-family="Liberation Serif" font-size="7.9" fill="#333"><tspan font-style="italic">S</tspan>-locus</text><text x="624.3" y="706.4" font-family="Liberation Serif" font-size="7.9" fill="#333"><tspan font-style="italic">Z</tspan>-locus</text><text x="561.5" y="716" font-family="Liberation Serif" font-style="italic" font-size="8" fill="#444">S<tspan font-size="4.8" dy="1.5">1</tspan></text><path d="M573.5 713.2H615.6" stroke="#666" stroke-width="0.6"/><rect x="577.7" y="709.4" width="5.9" height="7.6" rx="0.8" fill="#c8dbf1" stroke="#555" stroke-width="0.5"/><rect x="587" y="709.4" width="5.9" height="7.6" rx="0.8" fill="#f9d7c0" stroke="#555" stroke-width="0.5"/><rect x="596" y="709.4" width="5.9" height="7.6" rx="0.8" fill="#c8dbf1" stroke="#555" stroke-width="0.5"/><rect x="594.6" y="707.6" width="16" height="11.3" fill="none" stroke="#555" stroke-width="0.5" stroke-dasharray="1 0.8"/><path d="M620.7 713.2H654.4" stroke="#666" stroke-width="0.6"/><rect x="622.4" y="709.4" width="6.4" height="7.6" rx="0.8" fill="#c8dbf1" stroke="#555" stroke-width="0.5"/><rect x="630.8" y="709.4" width="6.4" height="7.6" rx="0.8" fill="#f9d7c0" stroke="#555" stroke-width="0.5"/><rect x="639.3" y="709.4" width="6.4" height="7.6" rx="0.8" fill="#c8dbf1" stroke="#555" stroke-width="0.5"/><rect x="647.4" y="709.4" width="6.4" height="7.6" rx="0.8" fill="#f9d7c0" stroke="#555" stroke-width="0.5"/><text x="657" y="716" font-family="Liberation Serif" font-style="italic" font-size="8" fill="#444">Z<tspan font-size="4.8" dy="1.5">1</tspan></text><text x="561.5" y="726.4" font-family="Liberation Serif" font-style="italic" font-size="8" fill="#444">S<tspan font-size="4.8" dy="1.5">2</tspan></text><path d="M573.5 723.6H615.6" stroke="#666" stroke-width="0.6"/><rect x="577.7" y="719.8" width="5.9" height="7.6" rx="0.8" fill="#c8dbf1" stroke="#555" stroke-width="0.5"/><rect x="587" y="719.8" width="5.9" height="7.6" rx="0.8" fill="#f9d7c0" stroke="#555" stroke-width="0.5"/><rect x="596" y="719.8" width="5.9" height="7.6" rx="0.8" fill="#c8dbf1" stroke="#555" stroke-width="0.5"/><rect x="594.6" y="718" width="16" height="11.3" fill="none" stroke="#555" stroke-width="0.5" stroke-dasharray="1 0.8"/><path d="M620.7 723.6H654.4" stroke="#666" stroke-width="0.6"/><rect x="622.4" y="719.8" width="6.4" height="7.6" rx="0.8" fill="#c8dbf1" stroke="#555" stroke-width="0.5"/><rect x="630.8" y="719.8" width="6.4" height="7.6" rx="0.8" fill="#f9d7c0" stroke="#555" stroke-width="0.5"/><rect x="639.3" y="719.8" width="6.4" height="7.6" rx="0.8" fill="#c8dbf1" stroke="#555" stroke-width="0.5"/><rect x="647.4" y="719.8" width="6.4" height="7.6" rx="0.8" fill="#f9d7c0" stroke="#555" stroke-width="0.5"/><text x="657" y="726.4" font-family="Liberation Serif" font-style="italic" font-size="8" fill="#444">Z<tspan font-size="4.8" dy="1.5">2</tspan></text><rect x="709.9" y="702" width="6.9" height="7" fill="#4472c4"/><text x="720.5" y="708.6" font-family="Liberation Serif" font-size="8.4" fill="#333" font-style="italic" >DUF247</text><rect x="709.9" y="716.8" width="6.9" height="7" fill="#ed7d31"/><text x="722.5" y="723.4" font-family="Liberation Serif" font-size="8.4" fill="#333" font-style="italic" >HPS10</text><path d="M617 729.5V740M564.2 740H674.7M564.2 740V750.6M674.7 740V749.7" stroke="#3a6fc8" stroke-width="1.6" stroke-dasharray="3.6 2.2" fill="none"/><text x="534.4" y="756" font-family="Liberation Serif" font-size="7.9" fill="#333"><tspan font-style="italic">S</tspan>-locus</text><text x="575.2" y="756" font-family="Liberation Serif" font-size="7.9" fill="#333"><tspan font-style="italic">Z</tspan>-locus</text><path d="M528.8 760.6H561.7" stroke="#666" stroke-width="0.6"/><path d="M564.8 760.6H610.2" stroke="#666" stroke-width="0.6"/><rect x="534.4" y="756.8" width="6.3" height="7.6" rx="0.8" fill="#c8dbf1" stroke="#555" stroke-width="0.5"/><rect x="542.9" y="756.8" width="6.3" height="7.6" rx="0.8" fill="#f9d7c0" stroke="#555" stroke-width="0.5"/><rect x="551.7" y="756.8" width="6.3" height="7.6" rx="0.8" fill="#c8dbf1" stroke="#555" stroke-width="0.5"/><rect x="569.8" y="756.8" width="6.5" height="7.6" rx="0.8" fill="#c8dbf1" stroke="#555" stroke-width="0.5"/><rect x="578.5" y="756.8" width="6.5" height="7.6" rx="0.8" fill="#f9d7c0" stroke="#555" stroke-width="0.5"/><rect x="587.2" y="756.8" width="6.5" height="7.6" rx="0.8" fill="#c8dbf1" stroke="#555" stroke-width="0.5"/><rect x="596" y="756.8" width="6.5" height="7.6" rx="0.8" fill="#f9d7c0" stroke="#555" stroke-width="0.5"/><path d="M528.8 770H561.7" stroke="#666" stroke-width="0.6"/><path d="M564.8 770H610.2" stroke="#666" stroke-width="0.6"/><rect x="534.4" y="766.2" width="6.3" height="7.6" rx="0.8" fill="#c8dbf1" stroke="#555" stroke-width="0.5"/><rect x="542.9" y="766.2" width="6.3" height="7.6" rx="0.8" fill="#f9d7c0" stroke="#555" stroke-width="0.5"/><rect x="551.7" y="766.2" width="6.3" height="7.6" rx="0.8" fill="#c8dbf1" stroke="#555" stroke-width="0.5"/><rect x="569.8" y="766.2" width="6.5" height="7.6" rx="0.8" fill="#c8dbf1" stroke="#555" stroke-width="0.5"/><rect x="578.5" y="766.2" width="6.5" height="7.6" rx="0.8" fill="#f9d7c0" stroke="#555" stroke-width="0.5"/><rect x="587.2" y="766.2" width="6.5" height="7.6" rx="0.8" fill="#c8dbf1" stroke="#555" stroke-width="0.5"/><rect x="596" y="766.2" width="6.5" height="7.6" rx="0.8" fill="#f9d7c0" stroke="#555" stroke-width="0.5"/><text x="641.6" y="754.5" font-family="Liberation Serif" font-size="7.9" fill="#333"><tspan font-style="italic">S</tspan>-locus</text><text x="685.4" y="754.5" font-family="Liberation Serif" font-size="7.9" fill="#333"><tspan font-style="italic">Z</tspan>-locus</text><path d="M635.9 760.4H670.5" stroke="#666" stroke-width="0.6"/><rect x="641.8" y="756.4" width="5.9" height="8" rx="0.8" fill="#8eaadc" stroke="#555" stroke-width="0.5"/><rect x="650.2" y="756.4" width="5.9" height="8" rx="0.8" fill="#f4b183" stroke="#555" stroke-width="0.5"/><rect x="659.5" y="756.4" width="5.9" height="8" rx="0.8" fill="#8eaadc" stroke="#555" stroke-width="0.5"/><path d="M674 760.4H720.5" stroke="#666" stroke-width="0.6"/><rect x="680.5" y="756.4" width="5.9" height="8" rx="0.8" fill="#8eaadc" stroke="#555" stroke-width="0.5"/><rect x="689" y="756.4" width="5.9" height="8" rx="0.8" fill="#f4b183" stroke="#555" stroke-width="0.5"/><rect x="697.5" y="756.4" width="5.9" height="8" rx="0.8" fill="#8eaadc" stroke="#555" stroke-width="0.5"/><rect x="706" y="756.4" width="5.9" height="8" rx="0.8" fill="#f4b183" stroke="#555" stroke-width="0.5"/><path d="M635.9 769.5H670.5" stroke="#666" stroke-width="0.6"/><rect x="641.8" y="765.5" width="5.9" height="8" rx="0.8" fill="#8eaadc" stroke="#555" stroke-width="0.5"/><rect x="650.2" y="765.5" width="5.9" height="8" rx="0.8" fill="#f4b183" stroke="#555" stroke-width="0.5"/><rect x="659.5" y="765.5" width="5.9" height="8" rx="0.8" fill="#8eaadc" stroke="#555" stroke-width="0.5"/><path d="M674 769.5H720.5" stroke="#666" stroke-width="0.6"/><rect x="680.5" y="765.5" width="5.9" height="8" rx="0.8" fill="#8eaadc" stroke="#555" stroke-width="0.5"/><rect x="689" y="765.5" width="5.9" height="8" rx="0.8" fill="#f4b183" stroke="#555" stroke-width="0.5"/><rect x="697.5" y="765.5" width="5.9" height="8" rx="0.8" fill="#8eaadc" stroke="#555" stroke-width="0.5"/><rect x="706" y="765.5" width="5.9" height="8" rx="0.8" fill="#f4b183" stroke="#555" stroke-width="0.5"/><text x="560.8" y="785.2" font-family="Liberation Serif" font-size="8.2" fill="#222" font-weight="bold" >Ns</text><text x="670.5" y="785.2" font-family="Liberation Serif" font-size="8.2" fill="#222" font-weight="bold" >Xm</text><path d="M613.6 777.2L622.7 786.3M622.7 777.2L613.6 786.3" stroke="#3a6fc8" stroke-width="2.4"/><text x="739.8" y="791.6" font-family="Liberation Sans" font-size="8.4" fill="#222" >Diploid</text><text x="728.6" y="811.2" font-family="Liberation Sans" font-size="8.4" fill="#222" >Tetraploid</text><path d="M566.4 791.7H676.4M618.1 791.7V802" stroke="#3a6fc8" stroke-width="1.6" stroke-dasharray="3.6 2.2" fill="none"/><path d="M615.2 800.5L618.1 805.8L621 800.5" stroke="#3a6fc8" stroke-width="1.2" fill="none"/><rect x="533.6" y="809.6" width="176.7" height="29.1" fill="none" stroke="#444" stroke-width="0.6" stroke-dasharray="1 0.8"/><path d="M619.2 809.6V838.7" stroke="#444" stroke-width="0.7"/><text x="520.8" y="826.3" font-family="Liberation Serif" font-size="8" fill="#333" >Ns</text><text x="715.1" y="828.9" font-family="Liberation Serif" font-size="8" fill="#333" >Xm</text><text x="542.3" y="816.2" font-family="Liberation Serif" font-size="7.9" fill="#333"><tspan font-style="italic">S</tspan>-locus</text><text x="579.4" y="816.2" font-family="Liberation Serif" font-size="7.9" fill="#333"><tspan font-style="italic">Z</tspan>-locus</text><text x="631.6" y="816.2" font-family="Liberation Serif" font-size="7.9" fill="#333"><tspan font-style="italic">S</tspan>-locus</text><text x="671.4" y="816.2" font-family="Liberation Serif" font-size="7.9" fill="#333"><tspan font-style="italic">Z</tspan>-locus</text><path d="M537 822.8H569.3" stroke="#888" stroke-width="0.6"/><path d="M573.3 822.8H614.4" stroke="#888" stroke-width="0.6"/><path d="M626.3 822.8H659.4" stroke="#888" stroke-width="0.6"/><path d="M662.1 822.8H703.7" stroke="#888" stroke-width="0.6"/><rect x="542.8" y="819.6" width="5.9" height="6.4" rx="0.3" fill="#93b3e3" stroke="none" stroke-width="0"/><rect x="551.3" y="819.6" width="5.9" height="6.4" rx="0.3" fill="#f5b17e" stroke="none" stroke-width="0"/><rect x="559.5" y="819.6" width="5.9" height="6.4" rx="0.3" fill="#93b3e3" stroke="none" stroke-width="0"/><rect x="578.6" y="819.6" width="5.9" height="6.4" rx="0.3" fill="#93b3e3" stroke="none" stroke-width="0"/><rect x="587.1" y="819.6" width="5.9" height="6.4" rx="0.3" fill="#f5b17e" stroke="none" stroke-width="0"/><rect x="595.3" y="819.6" width="5.9" height="6.4" rx="0.3" fill="#93b3e3" stroke="none" stroke-width="0"/><rect x="603.8" y="819.6" width="5.9" height="6.4" rx="0.3" fill="#f5b17e" stroke="none" stroke-width="0"/><rect x="632.1" y="819.6" width="5.9" height="6.4" rx="0.3" fill="#93b3e3" stroke="none" stroke-width="0"/><rect x="640.4" y="819.6" width="5.9" height="6.4" rx="0.3" fill="#f5b17e" stroke="none" stroke-width="0"/><rect x="648.8" y="819.6" width="5.9" height="6.4" rx="0.3" fill="#93b3e3" stroke="none" stroke-width="0"/><rect x="668.2" y="819.6" width="5.9" height="6.4" rx="0.3" fill="#93b3e3" stroke="none" stroke-width="0"/><rect x="676.7" y="819.6" width="5.9" height="6.4" rx="0.3" fill="#f5b17e" stroke="none" stroke-width="0"/><rect x="684.6" y="819.6" width="5.9" height="6.4" rx="0.3" fill="#93b3e3" stroke="none" stroke-width="0"/><rect x="693.1" y="819.6" width="5.9" height="6.4" rx="0.3" fill="#f5b17e" stroke="none" stroke-width="0"/><path d="M537 832.1H569.3" stroke="#888" stroke-width="0.6"/><path d="M573.3 832.1H614.4" stroke="#888" stroke-width="0.6"/><path d="M626.3 832.1H659.4" stroke="#888" stroke-width="0.6"/><path d="M662.1 832.1H703.7" stroke="#888" stroke-width="0.6"/><rect x="542.8" y="828.9" width="5.9" height="6.4" rx="0.3" fill="#93b3e3" stroke="none" stroke-width="0"/><rect x="551.3" y="828.9" width="5.9" height="6.4" rx="0.3" fill="#f5b17e" stroke="none" stroke-width="0"/><rect x="559.5" y="828.9" width="5.9" height="6.4" rx="0.3" fill="#93b3e3" stroke="none" stroke-width="0"/><rect x="578.6" y="828.9" width="5.9" height="6.4" rx="0.3" fill="#93b3e3" stroke="none" stroke-width="0"/><rect x="587.1" y="828.9" width="5.9" height="6.4" rx="0.3" fill="#f5b17e" stroke="none" stroke-width="0"/><rect x="595.3" y="828.9" width="5.9" height="6.4" rx="0.3" fill="#93b3e3" stroke="none" stroke-width="0"/><rect x="603.8" y="828.9" width="5.9" height="6.4" rx="0.3" fill="#f5b17e" stroke="none" stroke-width="0"/><rect x="632.1" y="828.9" width="5.9" height="6.4" rx="0.3" fill="#93b3e3" stroke="none" stroke-width="0"/><rect x="640.4" y="828.9" width="5.9" height="6.4" rx="0.3" fill="#f5b17e" stroke="none" stroke-width="0"/><rect x="648.8" y="828.9" width="5.9" height="6.4" rx="0.3" fill="#93b3e3" stroke="none" stroke-width="0"/><rect x="668.2" y="828.9" width="5.9" height="6.4" rx="0.3" fill="#93b3e3" stroke="none" stroke-width="0"/><rect x="676.7" y="828.9" width="5.9" height="6.4" rx="0.3" fill="#f5b17e" stroke="none" stroke-width="0"/><rect x="684.6" y="828.9" width="5.9" height="6.4" rx="0.3" fill="#93b3e3" stroke="none" stroke-width="0"/><rect x="693.1" y="828.9" width="5.9" height="6.4" rx="0.3" fill="#f5b17e" stroke="none" stroke-width="0"/><text x="592.4" y="851.2" font-family="Liberation Serif" font-size="7.85" fill="#222" font-weight="bold" >Ancestral NsXm</text><path d="M581.3 839.5V857" stroke="#3a6fc8" stroke-width="1.6" stroke-dasharray="3.6 2.2" fill="none"/><path d="M578.4 855.2L581.3 860.2L584.2 855.2" stroke="#3a6fc8" stroke-width="1.2" fill="none"/><path d="M656.3 839.5V857" stroke="#3a6fc8" stroke-width="1.6" stroke-dasharray="3.6 2.2" fill="none"/><path d="M653.4 855.2L656.3 860.2L659.2 855.2" stroke="#3a6fc8" stroke-width="1.2" fill="none"/><rect x="533.6" y="862.6" width="176.7" height="29.1" fill="none" stroke="#444" stroke-width="0.6" stroke-dasharray="1 0.8"/><path d="M618.4 862.6V891.7" stroke="#444" stroke-width="0.7"/><text x="520.8" y="879.3" font-family="Liberation Serif" font-size="8" fill="#333" >Ns</text><text x="559.5" y="880.3" font-family="Liberation Serif" font-size="7.9" fill="#333" >Gene Lost</text><text x="716.4" y="880.3" font-family="Liberation Serif" font-size="8" fill="#333" >Xm</text><text x="630.8" y="869.7" font-family="Liberation Serif" font-size="7.9" fill="#333"><tspan font-style="italic">S</tspan>-locus</text><text x="670.8" y="869.7" font-family="Liberation Serif" font-size="7.9" fill="#333"><tspan font-style="italic">Z</tspan>-locus</text><path d="M625 875.8H658" stroke="#888" stroke-width="0.6"/><path d="M663 875.8H704" stroke="#888" stroke-width="0.6"/><rect x="630.8" y="872.5" width="6.1" height="6.6" rx="0.3" fill="#4472c4" stroke="none" stroke-width="0"/><rect x="639" y="872.5" width="6.1" height="6.6" rx="0.3" fill="#ed7d31" stroke="none" stroke-width="0"/><rect x="647.5" y="872.5" width="6.1" height="6.6" rx="0.3" fill="#4472c4" stroke="none" stroke-width="0"/><rect x="667.4" y="872.5" width="5.9" height="6.6" rx="0.3" fill="#4472c4" stroke="none" stroke-width="0"/><rect x="675.9" y="872.5" width="5.9" height="6.6" rx="0.3" fill="#ed7d31" stroke="none" stroke-width="0"/><rect x="683.8" y="872.5" width="5.9" height="6.6" rx="0.3" fill="#4472c4" stroke="none" stroke-width="0"/><rect x="692" y="872.5" width="5.9" height="6.6" rx="0.3" fill="#ed7d31" stroke="none" stroke-width="0"/><path d="M625 885.1H658" stroke="#888" stroke-width="0.6"/><path d="M663 885.1H704" stroke="#888" stroke-width="0.6"/><rect x="630.8" y="881.8" width="6.1" height="6.6" rx="0.3" fill="#4472c4" stroke="none" stroke-width="0"/><rect x="639" y="881.8" width="6.1" height="6.6" rx="0.3" fill="#ed7d31" stroke="none" stroke-width="0"/><rect x="647.5" y="881.8" width="6.1" height="6.6" rx="0.3" fill="#4472c4" stroke="none" stroke-width="0"/><rect x="667.4" y="881.8" width="5.9" height="6.6" rx="0.3" fill="#4472c4" stroke="none" stroke-width="0"/><rect x="675.9" y="881.8" width="5.9" height="6.6" rx="0.3" fill="#ed7d31" stroke="none" stroke-width="0"/><rect x="683.8" y="881.8" width="5.9" height="6.6" rx="0.3" fill="#4472c4" stroke="none" stroke-width="0"/><rect x="692" y="881.8" width="5.9" height="6.6" rx="0.3" fill="#ed7d31" stroke="none" stroke-width="0"/><text x="592.4" y="899.2" font-family="Liberation Serif" font-size="7.85" fill="#222" font-weight="bold" >Observed NsXm</text>
</svg></body></html>
